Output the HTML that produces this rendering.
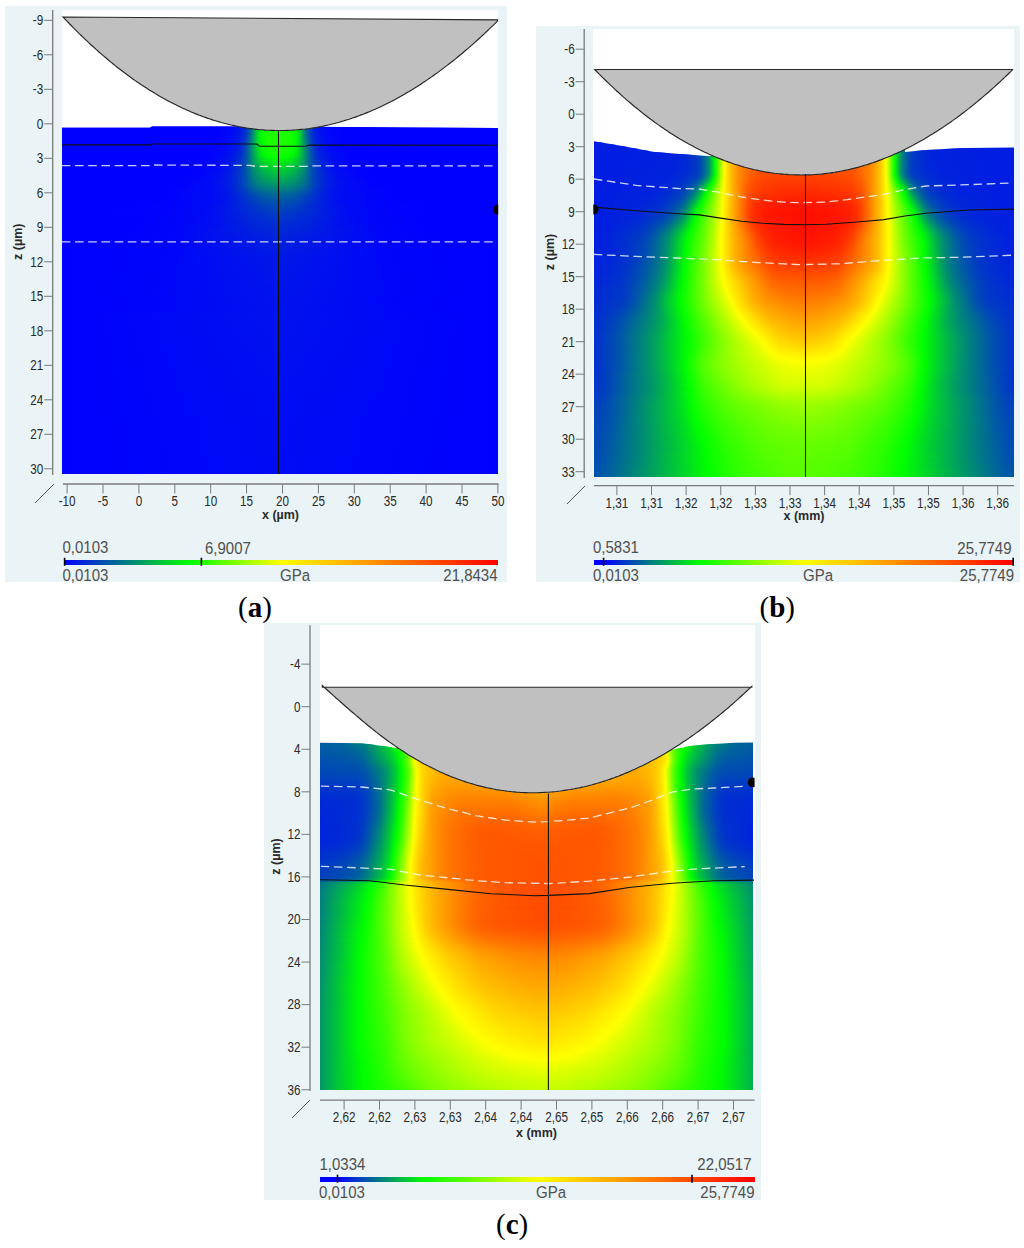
<!DOCTYPE html><html><head><meta charset="utf-8"><title>fig</title><style>html,body{margin:0;padding:0;background:#fff}
body{width:1024px;height:1248px;overflow:hidden;position:relative}
.p{position:absolute;background:#eaf3f5}
.w{position:absolute;background:#fff}
.fw{position:absolute;overflow:hidden}
.fi{position:absolute;left:0;top:0;right:0;bottom:0}
.fi i{position:absolute;left:0;right:0;display:block}
.cb{position:absolute;height:5px}
svg{position:absolute;left:0;top:0}
text{font-family:"Liberation Sans",sans-serif}
</style></head><body><div class="p" style="left:5px;top:6px;width:502px;height:576px"></div><div class="w" style="left:62px;top:10px;width:436px;height:464px"></div><div class="p" style="left:536px;top:26px;width:484px;height:556px"></div><div class="w" style="left:593px;top:29px;width:421px;height:448px"></div><div class="p" style="left:264px;top:623px;width:497px;height:577px"></div><div class="w" style="left:319.5px;top:625.3px;width:435.7px;height:464.7px"></div><div class="fw" style="left:62px;top:125px;width:436px;height:349px;clip-path:polygon(0px 2.7px,88px 2.7px,90px 1.2px,183px 1.2px,183.2px 2.7px,185.2px 3.1px,187.2px 3.4px,189.2px 3.6px,191.2px 3.9px,193.2px 4.1px,195.2px 4.4px,197.2px 4.6px,199.2px 4.7px,201.2px 4.9px,203.2px 5.1px,205.2px 5.2px,207.2px 5.3px,209.2px 5.4px,211.2px 5.4px,213.2px 5.5px,215.2px 5.5px,217.2px 5.5px,219.2px 5.5px,221.2px 5.5px,223.2px 5.5px,225.2px 5.4px,227.2px 5.3px,229.2px 5.2px,231.2px 5.1px,233.2px 5px,235.2px 4.8px,237.2px 4.6px,239.2px 4.4px,241.2px 4.2px,243.2px 4px,245.2px 3.7px,247.2px 3.5px,249.2px 3.2px,251.2px 2.9px,253.2px 2.6px,255.2px 2.2px,256px 1.8px,338px 2.6px,436px 3px,436px 349px,0px 349px)"><div class="fi" style=""><i style="top:0px;height:2.5px;background:linear-gradient(90deg,#0000ff 0px,#0000ff 157px,#000af5 172px,#0012ed 176px,#0020df 180px,#002ed1 183px,#003dc2 185px,#0050af 187px,#006897 189px,#00c936 195px,#00d629 196px,#00f20d 199px,#03ff00 202px,#10ff00 206px,#16ff00 217px,#10ff00 227px,#00fd02 232px,#00eb14 235px,#00d629 237px,#00c936 238px,#006897 244px,#0050af 246px,#003dc2 248px,#0028d7 251px,#001ce3 254px,#0010ef 258px,#0009f6 262px,#0000ff 276px,#0000ff 436px)"></i><i style="top:2px;height:2.5px;background:linear-gradient(90deg,#0000ff 0px,#0000ff 156px,#000af5 172px,#001ce3 179px,#0029d6 182px,#0036c9 184px,#0051ae 187px,#006996 189px,#00ca35 195px,#00d728 196px,#00f40b 199px,#00ff00 201px,#05ff00 202px,#10ff00 205px,#13ff00 207px,#18ff00 218px,#12ff00 227px,#00ff00 232px,#00ec13 235px,#00d728 237px,#00ca35 238px,#006996 244px,#0051ae 246px,#0036c9 249px,#0029d6 251px,#0019e6 255px,#0009f6 262px,#0000ff 277px,#0000ff 436px)"></i><i style="top:4px;height:2.5px;background:linear-gradient(90deg,#0000ff 0px,#0000ff 155px,#000af5 171px,#001de2 179px,#002ad5 182px,#0037c8 184px,#0053ac 187px,#006b94 189px,#009966 192px,#00cd32 195px,#00da25 196px,#00f708 199px,#03ff00 201px,#15ff00 206px,#1bff00 217px,#15ff00 227px,#00fd02 233px,#00ef10 235px,#00da25 237px,#00cd32 238px,#009966 241px,#006b94 244px,#0053ac 246px,#0037c8 249px,#002ad5 251px,#001ae5 255px,#0009f6 263px,#0000ff 278px,#0000ff 436px)"></i><i style="top:6px;height:2.5px;background:linear-gradient(90deg,#0000ff 0px,#0000ff 154px,#000bf4 171px,#001ee1 179px,#002bd4 182px,#0039c6 184px,#0055aa 187px,#006d92 189px,#009c63 192px,#00c03f 194px,#00dd22 196px,#00f20d 198px,#00ff00 200px,#10ff00 203px,#18ff00 206px,#1eff00 216px,#18ff00 227px,#10ff00 230px,#00ff00 233px,#00f20d 235px,#00dd22 237px,#00c03f 239px,#009c63 241px,#006d92 244px,#0055aa 246px,#0039c6 249px,#0026d9 252px,#001be4 255px,#0010ef 259px,#0008f7 264px,#0000ff 280px,#0000ff 436px)"></i><i style="top:8px;height:2.5px;background:linear-gradient(90deg,#0000ff 0px,#0000ff 153px,#000af5 170px,#0011ee 174px,#001fe0 179px,#002cd3 182px,#003ac5 184px,#0057a8 187px,#006f90 189px,#009e61 192px,#00c23d 194px,#00de21 196px,#00f30c 198px,#02ff00 200px,#12ff00 203px,#1aff00 206px,#20ff00 216px,#1aff00 227px,#12ff00 230px,#02ff00 233px,#00f30c 235px,#00de21 237px,#00c23d 239px,#009e61 241px,#006f90 244px,#0057a8 246px,#003ac5 249px,#0027d8 252px,#001ce3 255px,#0011ee 259px,#0009f6 264px,#0000ff 281px,#0000ff 436px)"></i><i style="top:10px;height:2.5px;background:linear-gradient(90deg,#0000ff 0px,#0000ff 152px,#000bf4 170px,#0020df 179px,#002ed1 182px,#003cc3 184px,#0059a6 187px,#00718e 189px,#00d22d 195px,#00df20 196px,#00f40b 198px,#03ff00 200px,#12ff00 203px,#1bff00 206px,#21ff00 217px,#1bff00 227px,#12ff00 230px,#03ff00 233px,#00fc03 234px,#00ea15 236px,#00d22d 238px,#008f70 242px,#00649b 245px,#003cc3 249px,#002ed1 251px,#0020df 254px,#0012ed 259px,#000af5 264px,#0000ff 281px,#0000ff 436px)"></i><i style="top:12px;height:2.5px;background:linear-gradient(90deg,#0000ff 0px,#0000ff 152px,#000cf3 170px,#001ee1 178px,#002ad5 181px,#0037c8 183px,#0052ad 186px,#00748b 189px,#00df20 196px,#00f40b 198px,#03ff00 200px,#12ff00 203px,#1bff00 206px,#21ff00 217px,#1bff00 227px,#12ff00 230px,#03ff00 233px,#00fc03 234px,#00ea15 236px,#00d22d 238px,#00926d 242px,#006798 245px,#0037c8 250px,#002ad5 252px,#001be4 256px,#000bf4 264px,#0000ff 281px,#0000ff 436px)"></i><i style="top:14px;height:2.5px;background:linear-gradient(90deg,#0000ff 0px,#0000ff 151px,#000df2 170px,#001fe0 178px,#002cd3 181px,#0039c6 183px,#006b94 188px,#00de21 196px,#00f30c 198px,#02ff00 200px,#11ff00 203px,#1aff00 206px,#21ff00 216px,#1aff00 227px,#11ff00 230px,#02ff00 233px,#00f30c 235px,#00de21 237px,#006b94 245px,#0039c6 250px,#002cd3 252px,#001fe0 255px,#000cf3 264px,#0000ff 282px,#0000ff 436px)"></i><i style="top:16px;height:2.5px;background:linear-gradient(90deg,#0000ff 0px,#0000ff 147px,#0002fd 156px,#000df2 169px,#0021de 178px,#002ed1 181px,#003dc2 183px,#006f90 188px,#00dd22 196px,#00f20d 198px,#01ff00 200px,#10ff00 203px,#19ff00 206px,#20ff00 216px,#19ff00 227px,#10ff00 230px,#01ff00 233px,#00f20d 235px,#00dd22 237px,#006f90 245px,#004eb1 248px,#0035ca 251px,#001de2 256px,#000cf3 265px,#0002fd 277px,#0000ff 287px,#0000ff 436px)"></i><i style="top:18px;height:2.5px;background:linear-gradient(90deg,#0000ff 0px,#0000ff 145px,#0003fc 156px,#000ef1 169px,#001ee1 177px,#002bd4 180px,#0038c7 182px,#0052ad 185px,#006897 187px,#00e718 197px,#00f906 199px,#00fe01 200px,#05ff00 201px,#17ff00 206px,#20ff00 217px,#17ff00 227px,#0eff00 230px,#00fe01 233px,#00f10e 235px,#00dc23 237px,#006897 246px,#0052ad 248px,#0038c7 251px,#002bd4 253px,#001ee1 256px,#000df2 265px,#0003fc 278px,#0000ff 288px,#0000ff 436px)"></i><i style="top:20px;height:2.5px;background:linear-gradient(90deg,#0000ff 0px,#0000ff 144px,#0003fc 155px,#000ff0 169px,#001fe0 177px,#002dd2 180px,#003bc4 182px,#00609f 186px,#00e619 197px,#00f708 199px,#03ff00 201px,#15ff00 206px,#1fff00 217px,#15ff00 227px,#00fd02 233px,#00ef10 235px,#00db24 237px,#0055aa 248px,#0033cc 252px,#0028d7 254px,#001de2 257px,#000cf3 266px,#0003fc 279px,#0000ff 289px,#0000ff 436px)"></i><i style="top:22px;height:2.5px;background:linear-gradient(90deg,#0000ff 0px,#0000ff 144px,#0004fb 155px,#000ff0 168px,#0021de 177px,#0036c9 181px,#00629d 186px,#00e41b 197px,#00f50a 199px,#01ff00 201px,#13ff00 206px,#1eff00 216px,#13ff00 227px,#01ff00 232px,#00f50a 234px,#00e41b 236px,#00629d 247px,#0036c9 252px,#0025da 255px,#001ee1 257px,#000cf3 267px,#0000ff 290px,#0000ff 436px)"></i><i style="top:24px;height:2.5px;background:linear-gradient(90deg,#0000ff 0px,#0000ff 143px,#0004fb 154px,#000ef1 167px,#001fe0 176px,#0031ce 180px,#0059a6 185px,#00c13e 194px,#00ec13 198px,#00f906 200px,#03ff00 202px,#13ff00 207px,#1cff00 217px,#11ff00 227px,#00fe01 232px,#00f30c 234px,#00e21d 236px,#0059a6 248px,#0031ce 253px,#001fe0 257px,#000df2 267px,#0000ff 290px,#0000ff 436px)"></i><i style="top:26px;height:2.5px;background:linear-gradient(90deg,#0000ff 0px,#0000ff 143px,#0005fa 155px,#000ff0 167px,#0021de 176px,#0033cc 180px,#00649b 186px,#00b649 193px,#00e916 198px,#00ff00 202px,#10ff00 207px,#1aff00 216px,#12ff00 225px,#00ff00 231px,#00e916 235px,#00b649 240px,#00649b 247px,#0033cc 253px,#0028d7 255px,#001ee1 258px,#000df2 268px,#0000ff 290px,#0000ff 436px)"></i><i style="top:28px;height:2.5px;background:linear-gradient(90deg,#0000ff 0px,#0000ff 142px,#0005fa 154px,#000ff0 166px,#0022dd 176px,#0035ca 180px,#00649b 186px,#00b44b 193px,#00e51a 198px,#00f708 201px,#03ff00 204px,#11ff00 211px,#16ff00 217px,#10ff00 223px,#03ff00 229px,#00fb04 231px,#00e51a 235px,#00b44b 240px,#00649b 247px,#0035ca 253px,#002ad5 255px,#0020df 258px,#000df2 269px,#0000ff 291px,#0000ff 436px)"></i><i style="top:30px;height:2.5px;background:linear-gradient(90deg,#0000ff 0px,#0000ff 142px,#000ff0 165px,#001fe0 174px,#0031ce 179px,#005ba4 185px,#00b24d 193px,#00df20 198px,#00f40b 202px,#00ff00 206px,#0bff00 212px,#0eff00 217px,#00ff00 227px,#00f40b 231px,#00df20 235px,#00b24d 240px,#005ba4 248px,#0037c8 253px,#0028d7 256px,#001fe0 259px,#000ef1 269px,#0000ff 291px,#0000ff 436px)"></i><i style="top:32px;height:2.5px;background:linear-gradient(90deg,#0000ff 0px,#0000ff 140px,#000df2 163px,#001ce3 172px,#002ed1 178px,#005ba4 185px,#00ae51 193px,#00de21 199px,#00f20d 204px,#01ff00 212px,#05ff00 217px,#00ff00 222px,#00f50a 228px,#00e817 232px,#00d728 235px,#00ae51 240px,#005ba4 248px,#0033cc 254px,#001ee1 260px,#000df2 270px,#0000ff 293px,#0000ff 436px)"></i><i style="top:34px;height:2.5px;background:linear-gradient(90deg,#0000ff 0px,#0000ff 137px,#0003fc 149px,#000df2 162px,#0020df 173px,#0036c9 179px,#005ca3 185px,#00a956 193px,#00cf30 198px,#00db24 200px,#00ee11 206px,#00fa05 216px,#00f10e 225px,#00df20 232px,#00cf30 235px,#00a956 240px,#005ca3 248px,#0036c9 254px,#0020df 260px,#000df2 271px,#0003fc 284px,#0000ff 296px,#0000ff 436px)"></i><i style="top:36px;height:2.5px;background:linear-gradient(90deg,#0000ff 0px,#0000ff 136px,#0003fc 148px,#000cf3 161px,#001fe0 172px,#0038c7 179px,#005ca3 185px,#00a55a 193px,#00c738 198px,#00d629 201px,#00e718 208px,#00f00f 216px,#00e916 224px,#00e01f 229px,#00d629 232px,#00c738 235px,#00a55a 240px,#005ca3 248px,#0038c7 254px,#001fe0 261px,#000cf3 272px,#0003fc 286px,#0000ff 298px,#0000ff 436px)"></i><i style="top:38px;height:2.5px;background:linear-gradient(90deg,#0000ff 0px,#0000ff 134px,#0003fc 147px,#000cf3 160px,#0021de 172px,#0039c6 179px,#0055aa 184px,#00a05f 193px,#00bf40 198px,#00cd32 201px,#00de21 208px,#00e619 216px,#00e01f 224px,#00cd32 232px,#00bf40 235px,#00a05f 240px,#0055aa 249px,#0039c6 254px,#0021de 261px,#000cf3 273px,#0003fc 286px,#0000ff 299px,#0000ff 436px)"></i><i style="top:40px;height:2.5px;background:linear-gradient(90deg,#0000ff 0px,#0000ff 134px,#000bf4 159px,#0022dd 172px,#003ac5 179px,#0055aa 184px,#009669 192px,#00b24d 197px,#00c53a 201px,#00d52a 208px,#00dd22 216px,#00d728 224px,#00c53a 232px,#00b24d 236px,#009669 241px,#0055aa 249px,#003ac5 254px,#0022dd 261px,#000bf4 274px,#0000ff 299px,#0000ff 436px)"></i><i style="top:42px;height:2.5px;background:linear-gradient(90deg,#0000ff 0px,#0000ff 133px,#000cf3 159px,#0020df 171px,#003bc4 179px,#0055aa 184px,#00926d 192px,#00be41 201px,#00ce31 208px,#00d52a 216px,#00cf30 224px,#00be41 232px,#00926d 241px,#0055aa 249px,#003bc4 254px,#0020df 262px,#000cf3 274px,#0000ff 300px,#0000ff 436px)"></i><i style="top:44px;height:2.5px;background:linear-gradient(90deg,#0000ff 0px,#0000ff 132px,#000cf3 158px,#001fe0 170px,#0037c8 178px,#0055aa 184px,#008f70 192px,#00b748 201px,#00c639 208px,#00ce31 216px,#00c837 224px,#00b748 232px,#008f70 241px,#0055aa 249px,#0037c8 255px,#001fe0 263px,#000cf3 275px,#0000ff 301px,#0000ff 436px)"></i><i style="top:46px;height:2.5px;background:linear-gradient(90deg,#0000ff 0px,#0001fe 131px,#000df2 158px,#001ee1 169px,#0038c7 178px,#004eb1 183px,#008c73 192px,#00b14e 201px,#00c13e 209px,#00c639 216px,#00c13e 224px,#00b14e 232px,#008c73 241px,#004eb1 250px,#0038c7 255px,#001ee1 264px,#000df2 275px,#0001fe 302px,#0000ff 436px)"></i><i style="top:48px;height:2.5px;background:linear-gradient(90deg,#0000ff 0px,#0000ff 126px,#0004fb 140px,#000ef1 157px,#001de2 168px,#0035ca 177px,#004eb1 183px,#008976 192px,#00ab54 201px,#00b946 209px,#00bf40 216px,#00bb44 223px,#00ab54 232px,#008976 241px,#004eb1 250px,#0035ca 256px,#001de2 265px,#000ef1 276px,#0004fb 293px,#0000ff 307px,#0000ff 436px)"></i><i style="top:50px;height:2.5px;background:linear-gradient(90deg,#0000ff 0px,#0000ff 124px,#0004fb 138px,#000ef1 156px,#001ee1 168px,#0036c9 177px,#004eb1 183px,#00857a 192px,#00a25d 200px,#00b14e 208px,#00b748 216px,#00b34c 223px,#00a55a 232px,#00857a 241px,#004eb1 250px,#0036c9 256px,#001ee1 265px,#000ef1 277px,#0004fb 295px,#0000ff 309px,#0000ff 436px)"></i><i style="top:52px;height:2.5px;background:linear-gradient(90deg,#0000ff 0px,#0000ff 122px,#0004fb 137px,#000ef1 155px,#001ee1 168px,#0033cc 176px,#0048b7 182px,#00817e 192px,#009c63 200px,#00aa55 208px,#00b04f 216px,#00ab54 224px,#009c63 233px,#00817e 241px,#0048b7 251px,#0030cf 258px,#001ce3 266px,#000df2 279px,#0004fb 296px,#0000ff 311px,#0000ff 436px)"></i><i style="top:54px;height:2.5px;background:linear-gradient(90deg,#0000ff 0px,#0000ff 120px,#000df2 153px,#001de2 167px,#002dd2 174px,#0048b7 182px,#007d82 192px,#009669 200px,#00a35c 208px,#00a857 216px,#00a45b 224px,#009669 233px,#007d82 241px,#0048b7 251px,#002dd2 259px,#001de2 266px,#000df2 280px,#0000ff 313px,#0000ff 436px)"></i><i style="top:56px;height:2.5px;background:linear-gradient(90deg,#0000ff 0px,#0000ff 119px,#000df2 152px,#001ce3 166px,#002ad5 173px,#0048b7 182px,#007986 192px,#008d72 199px,#009a65 207px,#00a15e 216px,#009c63 224px,#008f70 233px,#007986 241px,#0048b7 251px,#002ad5 260px,#001ce3 267px,#000df2 281px,#0000ff 314px,#0000ff 436px)"></i><i style="top:58px;height:2.5px;background:linear-gradient(90deg,#0000ff 0px,#0000ff 119px,#000df2 152px,#001ae5 165px,#0027d8 172px,#0043bc 181px,#00708f 191px,#008679 199px,#00926d 207px,#009867 216px,#00936c 225px,#008679 234px,#00708f 242px,#0043bc 252px,#0027d8 261px,#0019e6 269px,#000cf3 282px,#0000ff 314px,#0000ff 436px)"></i><i style="top:60px;height:2.5px;background:linear-gradient(90deg,#0000ff 0px,#0000ff 118px,#000df2 152px,#0018e7 164px,#0026d9 172px,#0041be 181px,#006a95 191px,#007f80 199px,#008976 206px,#008f70 216px,#008c73 224px,#00817e 233px,#006a95 242px,#0041be 252px,#0024db 262px,#0017e8 270px,#000cf3 282px,#0000ff 315px,#0000ff 436px)"></i><i style="top:62px;height:2.5px;background:linear-gradient(90deg,#0000ff 0px,#0001fe 117px,#000df2 152px,#0016e9 163px,#0023dc 171px,#003ec1 181px,#00639c 191px,#007986 200px,#00827d 208px,#008679 216px,#00837c 224px,#007986 233px,#00639c 242px,#003ec1 252px,#0023dc 262px,#0015ea 271px,#000cf3 282px,#0001fe 316px,#0000ff 436px)"></i><i style="top:64px;height:2.5px;background:linear-gradient(90deg,#0000ff 0px,#0001fe 112px,#000cf3 152px,#0014eb 162px,#0022dd 171px,#003bc4 181px,#005ca3 191px,#00708f 200px,#007986 207px,#007d82 216px,#007a85 225px,#00708f 233px,#005ca3 242px,#003bc4 252px,#0022dd 262px,#0014eb 271px,#000cf3 281px,#0001fe 322px,#0000ff 436px)"></i><i style="top:66px;height:2.5px;background:linear-gradient(90deg,#0000ff 0px,#0000ff 107px,#000cf3 152px,#0014eb 162px,#0020df 171px,#0034cb 180px,#0055aa 191px,#006a95 201px,#00748b 216px,#006a95 232px,#0055aa 242px,#0034cb 253px,#0020df 262px,#0014eb 271px,#000cf3 281px,#0000ff 326px,#0000ff 436px)"></i><i style="top:68px;height:2.5px;background:linear-gradient(90deg,#0000ff 0px,#0000ff 105px,#000df2 153px,#0014eb 163px,#0023dc 173px,#0031ce 180px,#004eb1 191px,#00639c 201px,#006c93 216px,#00639c 232px,#004eb1 242px,#0031ce 253px,#0023dc 260px,#0014eb 270px,#000df2 280px,#0000ff 328px,#0000ff 436px)"></i><i style="top:70px;height:2.5px;background:linear-gradient(90deg,#0000ff 0px,#0000ff 103px,#000df2 153px,#0014eb 163px,#0023dc 174px,#005da2 202px,#00659a 216px,#005da2 231px,#0023dc 259px,#0014eb 270px,#000df2 280px,#0000ff 330px,#0000ff 436px)"></i><i style="top:72px;height:2.5px;background:linear-gradient(90deg,#0000ff 0px,#0000ff 102px,#000cf3 152px,#0012ed 162px,#0024db 175px,#0057a8 202px,#005ea1 216px,#0057a8 231px,#0024db 258px,#0012ed 271px,#000cf3 281px,#0000ff 332px,#0000ff 436px)"></i><i style="top:74px;height:2.5px;background:linear-gradient(90deg,#0000ff 0px,#0000ff 100px,#000bf4 150px,#0012ed 161px,#001fe0 172px,#0052ad 202px,#0059a6 216px,#0052ad 231px,#001fe0 261px,#0012ed 272px,#000bf4 283px,#0000ff 333px,#0000ff 436px)"></i><i style="top:76px;height:2.5px;background:linear-gradient(90deg,#0000ff 0px,#0000ff 100px,#000bf4 149px,#0011ee 160px,#001ee1 172px,#004db2 202px,#0054ab 216px,#004db2 231px,#001ee1 261px,#0011ee 273px,#000bf4 284px,#0000ff 333px,#0000ff 436px)"></i><i style="top:78px;height:2.5px;background:linear-gradient(90deg,#0000ff 0px,#0001fe 99px,#000bf4 149px,#0011ee 160px,#001de2 171px,#0048b7 202px,#0050af 216px,#0048b7 231px,#001de2 262px,#0011ee 273px,#000bf4 284px,#0001fe 334px,#0000ff 436px)"></i><i style="top:80px;height:2.5px;background:linear-gradient(90deg,#0000ff 0px,#0001fe 99px,#000bf4 148px,#0018e7 167px,#0044bb 202px,#004bb4 216px,#0044bb 231px,#0018e7 266px,#000bf4 286px,#0001fe 334px,#0000ff 436px)"></i><i style="top:82px;height:2.5px;background:linear-gradient(90deg,#0000ff 0px,#0001fe 98px,#000bf4 146px,#0015ea 163px,#003ec1 200px,#0047b8 216px,#003fc0 232px,#0019e6 266px,#000bf4 287px,#0001fe 335px,#0000ff 436px)"></i><i style="top:84px;height:2.5px;background:linear-gradient(90deg,#0000ff 0px,#0001fe 92px,#000af5 144px,#0014eb 161px,#0039c6 198px,#0044bb 216px,#0039c6 235px,#0014eb 272px,#000af5 290px,#0001fe 343px,#0000ff 436px)"></i><i style="top:86px;height:2.5px;background:linear-gradient(90deg,#0000ff 0px,#0001fe 85px,#0009f6 141px,#0011ee 157px,#0032cd 193px,#0040bf 216px,#0033cc 239px,#0010ef 277px,#0009f6 292px,#0001fe 349px,#0000ff 436px)"></i><i style="top:88px;height:2.5px;background:linear-gradient(90deg,#0000ff 0px,#0001fe 82px,#0009f6 139px,#0010ef 156px,#002fd0 192px,#003dc2 216px,#002fd0 241px,#0010ef 278px,#0009f6 295px,#0000ff 352px,#0000ff 436px)"></i><i style="top:90px;height:2.5px;background:linear-gradient(90deg,#0000ff 0px,#0000ff 79px,#0008f7 136px,#0010ef 156px,#002cd3 191px,#003ac5 216px,#002dd2 241px,#0010ef 278px,#0008f7 298px,#0000ff 355px,#0000ff 436px)"></i><i style="top:92px;height:2.5px;background:linear-gradient(90deg,#0000ff 0px,#0000ff 77px,#0008f7 133px,#0011ee 157px,#002ad5 191px,#0037c8 216px,#002ad5 242px,#0010ef 278px,#0008f7 301px,#0000ff 357px,#0000ff 436px)"></i><i style="top:94px;height:2.5px;background:linear-gradient(90deg,#0000ff 0px,#0000ff 75px,#0007f8 129px,#0011ee 157px,#0028d7 190px,#0034cb 216px,#0028d7 243px,#0010ef 279px,#0007f8 305px,#0000ff 358px,#0000ff 436px)"></i><i style="top:96px;height:2.5px;background:linear-gradient(90deg,#0000ff 0px,#0000ff 74px,#0007f8 127px,#0011ee 157px,#0026d9 189px,#0032cd 216px,#0026d9 244px,#0011ee 276px,#0007f8 307px,#0000ff 360px,#0000ff 436px)"></i><i style="top:98px;height:2.5px;background:linear-gradient(90deg,#0000ff 0px,#0000ff 73px,#0007f8 125px,#0011ee 157px,#0024db 187px,#002fd0 216px,#0024db 245px,#0011ee 276px,#0007f8 309px,#0000ff 361px,#0000ff 436px)"></i><i style="top:100px;height:2.5px;background:linear-gradient(90deg,#0000ff 0px,#0000ff 72px,#0007f8 123px,#0011ee 157px,#0022dd 186px,#002dd2 216px,#0022dd 247px,#0011ee 276px,#0007f8 310px,#0000ff 362px,#0000ff 436px)"></i><i style="top:102px;height:2.5px;background:linear-gradient(90deg,#0000ff 0px,#0000ff 71px,#0007f8 123px,#0011ee 157px,#0021de 186px,#002bd4 216px,#0021de 247px,#0011ee 276px,#0007f8 311px,#0000ff 363px,#0000ff 436px)"></i><i style="top:104px;height:2.5px;background:linear-gradient(90deg,#0000ff 0px,#0000ff 69px,#0007f8 122px,#002ad5 216px,#0007f8 311px,#0000ff 364px,#0000ff 436px)"></i><i style="top:106px;height:2.5px;background:linear-gradient(90deg,#0000ff 0px,#0000ff 68px,#0007f8 122px,#0028d7 216px,#0007f8 312px,#0000ff 366px,#0000ff 436px)"></i><i style="top:108px;height:2.5px;background:linear-gradient(90deg,#0000ff 0px,#0000ff 66px,#0007f8 121px,#0026d9 216px,#0007f8 312px,#0000ff 367px,#0000ff 436px)"></i><i style="top:110px;height:2.5px;background:linear-gradient(90deg,#0000ff 0px,#0000ff 65px,#0007f8 121px,#0025da 216px,#0007f8 312px,#0000ff 368px,#0000ff 436px)"></i><i style="top:112px;height:2.5px;background:linear-gradient(90deg,#0000ff 0px,#0001fe 64px,#0007f8 121px,#0023dc 216px,#0007f8 313px,#0001fe 369px,#0000ff 436px)"></i><i style="top:114px;height:2.5px;background:linear-gradient(90deg,#0000ff 0px,#0001fe 63px,#0007f8 120px,#0022dd 216px,#0007f8 313px,#0001fe 370px,#0000ff 436px)"></i><i style="top:116px;height:2.5px;background:linear-gradient(90deg,#0000ff 0px,#0001fe 63px,#0007f8 120px,#0020df 216px,#0007f8 314px,#0001fe 371px,#0000ff 436px)"></i><i style="top:118px;height:2.5px;background:linear-gradient(90deg,#0000ff 0px,#0001fe 62px,#0007f8 119px,#001fe0 216px,#0006f9 315px,#0001fe 372px,#0000ff 436px)"></i><i style="top:120px;height:2.5px;background:linear-gradient(90deg,#0000ff 0px,#0007f8 118px,#001ee1 216px,#0007f8 315px,#0001fe 372px,#0000ff 436px)"></i><i style="top:122px;height:2.5px;background:linear-gradient(90deg,#0000ff 0px,#0006f9 117px,#001de2 216px,#0006f9 317px,#0000ff 436px)"></i><i style="top:124px;height:2.5px;background:linear-gradient(90deg,#0000ff 0px,#0006f9 116px,#001ce3 216px,#0006f9 319px,#0000ff 436px)"></i><i style="top:126px;height:2.5px;background:linear-gradient(90deg,#0000ff 0px,#0006f9 114px,#001be4 216px,#0006f9 321px,#0000ff 436px)"></i><i style="top:128px;height:2.5px;background:linear-gradient(90deg,#0000ff 0px,#0006f9 112px,#001ae5 216px,#0006f9 322px,#0000ff 436px)"></i><i style="top:130px;height:2.5px;background:linear-gradient(90deg,#0000ff 0px,#0006f9 111px,#0019e6 216px,#0006f9 323px,#0000ff 436px)"></i><i style="top:132px;height:2.5px;background:linear-gradient(90deg,#0000ff 0px,#0006f9 110px,#0018e7 216px,#0006f9 324px,#0000ff 436px)"></i><i style="top:134px;height:2.5px;background:linear-gradient(90deg,#0000ff 0px,#0006f9 110px,#0018e7 216px,#0006f9 325px,#0000ff 436px)"></i><i style="top:136px;height:2.5px;background:linear-gradient(90deg,#0000ff 0px,#0006f9 109px,#0017e8 217px,#0006f9 325px,#0000ff 436px)"></i><i style="top:138px;height:2.5px;background:linear-gradient(90deg,#0000ff 0px,#0006f9 108px,#0017e8 217px,#0006f9 325px,#0000ff 436px)"></i><i style="top:140px;height:2.5px;background:linear-gradient(90deg,#0000ff 0px,#0006f9 108px,#0017e8 217px,#0006f9 326px,#0000ff 436px)"></i><i style="top:142px;height:2.5px;background:linear-gradient(90deg,#0000ff 0px,#0006f9 107px,#0016e9 217px,#0006f9 326px,#0000ff 436px)"></i><i style="top:144px;height:2.5px;background:linear-gradient(90deg,#0000ff 0px,#0006f9 107px,#0016e9 217px,#0006f9 327px,#0000ff 436px)"></i><i style="top:146px;height:2.5px;background:linear-gradient(90deg,#0000ff 0px,#0006f9 106px,#0016e9 217px,#0006f9 327px,#0000ff 436px)"></i><i style="top:148px;height:2.5px;background:linear-gradient(90deg,#0000ff 0px,#0006f9 106px,#0016e9 217px,#0006f9 328px,#0000ff 436px)"></i><i style="top:150px;height:2.5px;background:linear-gradient(90deg,#0000ff 0px,#0006f9 105px,#0015ea 217px,#0006f9 328px,#0000ff 436px)"></i><i style="top:152px;height:2.5px;background:linear-gradient(90deg,#0000ff 0px,#0006f9 105px,#0015ea 217px,#0006f9 329px,#0000ff 436px)"></i><i style="top:154px;height:2.5px;background:linear-gradient(90deg,#0000ff 0px,#0006f9 104px,#0015ea 217px,#0006f9 329px,#0000ff 436px)"></i><i style="top:156px;height:2.5px;background:linear-gradient(90deg,#0000ff 0px,#0006f9 104px,#0015ea 217px,#0006f9 330px,#0000ff 436px)"></i><i style="top:158px;height:2.5px;background:linear-gradient(90deg,#0000ff 0px,#0006f9 103px,#0014eb 217px,#0006f9 331px,#0000ff 436px)"></i><i style="top:160px;height:2.5px;background:linear-gradient(90deg,#0000ff 0px,#0006f9 102px,#0014eb 217px,#0006f9 331px,#0000ff 436px)"></i><i style="top:162px;height:2.5px;background:linear-gradient(90deg,#0000ff 0px,#0006f9 102px,#0014eb 217px,#0006f9 332px,#0000ff 436px)"></i><i style="top:164px;height:2.5px;background:linear-gradient(90deg,#0000ff 0px,#0006f9 101px,#0014eb 217px,#0006f9 333px,#0000ff 436px)"></i><i style="top:166px;height:2.5px;background:linear-gradient(90deg,#0000ff 0px,#0006f9 100px,#0014eb 217px,#0006f9 334px,#0000ff 436px)"></i><i style="top:168px;height:2.5px;background:linear-gradient(90deg,#0000ff 0px,#0006f9 99px,#0013ec 217px,#0006f9 335px,#0000ff 436px)"></i><i style="top:170px;height:2.5px;background:linear-gradient(90deg,#0000ff 0px,#0006f9 98px,#0013ec 217px,#0005fa 336px,#0000ff 436px)"></i><i style="top:172px;height:2.5px;background:linear-gradient(90deg,#0000ff 0px,#0005fa 97px,#0013ec 217px,#0005fa 337px,#0000ff 436px)"></i><i style="top:174px;height:2.5px;background:linear-gradient(90deg,#0000ff 0px,#0005fa 96px,#0013ec 217px,#0005fa 338px,#0000ff 436px)"></i><i style="top:176px;height:2.5px;background:linear-gradient(90deg,#0000ff 0px,#0005fa 95px,#0013ec 217px,#0005fa 339px,#0000ff 436px)"></i><i style="top:178px;height:2.5px;background:linear-gradient(90deg,#0000ff 0px,#0005fa 94px,#0013ec 217px,#0005fa 340px,#0000ff 436px)"></i><i style="top:180px;height:2.5px;background:linear-gradient(90deg,#0000ff 0px,#0005fa 92px,#0012ed 217px,#0005fa 341px,#0000ff 436px)"></i><i style="top:182px;height:2.5px;background:linear-gradient(90deg,#0000ff 0px,#0005fa 91px,#0012ed 217px,#0005fa 342px,#0000ff 436px)"></i><i style="top:184px;height:2.5px;background:linear-gradient(90deg,#0000ff 0px,#0005fa 90px,#0012ed 217px,#0005fa 344px,#0000ff 436px)"></i><i style="top:186px;height:2.5px;background:linear-gradient(90deg,#0000ff 0px,#0005fa 89px,#0012ed 217px,#0005fa 345px,#0000ff 436px)"></i><i style="top:188px;height:2.5px;background:linear-gradient(90deg,#0000ff 0px,#0012ed 217px,#0005fa 346px,#0000ff 436px)"></i><i style="top:190px;height:2.5px;background:linear-gradient(90deg,#0000ff 0px,#0012ed 217px,#0005fa 347px,#0000ff 436px)"></i><i style="top:192px;height:2.5px;background:linear-gradient(90deg,#0000ff 0px,#0012ed 217px,#0005fa 348px,#0000ff 436px)"></i><i style="top:194px;height:2.5px;background:linear-gradient(90deg,#0000ff 0px,#0012ed 217px,#0000ff 436px)"></i><i style="top:196px;height:2.5px;background:linear-gradient(90deg,#0000ff 0px,#0011ee 217px,#0000ff 436px)"></i><i style="top:198px;height:2.5px;background:linear-gradient(90deg,#0000ff 0px,#0011ee 217px,#0000ff 436px)"></i><i style="top:200px;height:2.5px;background:linear-gradient(90deg,#0000ff 0px,#0011ee 217px,#0000ff 436px)"></i><i style="top:202px;height:2.5px;background:linear-gradient(90deg,#0000ff 0px,#0011ee 217px,#0000ff 436px)"></i><i style="top:204px;height:2.5px;background:linear-gradient(90deg,#0000ff 0px,#0011ee 217px,#0000ff 436px)"></i><i style="top:206px;height:2.5px;background:linear-gradient(90deg,#0000ff 0px,#0011ee 217px,#0000ff 436px)"></i><i style="top:208px;height:2.5px;background:linear-gradient(90deg,#0000ff 0px,#0011ee 217px,#0000ff 436px)"></i><i style="top:210px;height:2.5px;background:linear-gradient(90deg,#0000ff 0px,#0011ee 217px,#0000ff 436px)"></i><i style="top:212px;height:2.5px;background:linear-gradient(90deg,#0000ff 0px,#0011ee 217px,#0000ff 436px)"></i><i style="top:214px;height:2.5px;background:linear-gradient(90deg,#0000ff 0px,#0010ef 217px,#0000ff 436px)"></i><i style="top:216px;height:2.5px;background:linear-gradient(90deg,#0000ff 0px,#0010ef 217px,#0000ff 436px)"></i><i style="top:218px;height:2.5px;background:linear-gradient(90deg,#0000ff 0px,#0010ef 217px,#0000ff 436px)"></i><i style="top:220px;height:2.5px;background:linear-gradient(90deg,#0000ff 0px,#0010ef 217px,#0000ff 436px)"></i><i style="top:222px;height:2.5px;background:linear-gradient(90deg,#0000ff 0px,#0010ef 217px,#0000ff 436px)"></i><i style="top:224px;height:2.5px;background:linear-gradient(90deg,#0000ff 0px,#0010ef 217px,#0000ff 436px)"></i><i style="top:226px;height:2.5px;background:linear-gradient(90deg,#0000ff 0px,#0010ef 217px,#0000ff 436px)"></i><i style="top:228px;height:2.5px;background:linear-gradient(90deg,#0000ff 0px,#0010ef 217px,#0000ff 436px)"></i><i style="top:230px;height:2.5px;background:linear-gradient(90deg,#0000ff 0px,#000ff0 217px,#0000ff 436px)"></i><i style="top:232px;height:2.5px;background:linear-gradient(90deg,#0000ff 0px,#000ff0 217px,#0000ff 436px)"></i><i style="top:234px;height:2.5px;background:linear-gradient(90deg,#0000ff 0px,#000ff0 217px,#0000ff 436px)"></i><i style="top:236px;height:2.5px;background:linear-gradient(90deg,#0000ff 0px,#000ff0 217px,#0000ff 436px)"></i><i style="top:238px;height:2.5px;background:linear-gradient(90deg,#0000ff 0px,#000ff0 217px,#0000ff 436px)"></i><i style="top:240px;height:2.5px;background:linear-gradient(90deg,#0000ff 0px,#000ff0 217px,#0000ff 436px)"></i><i style="top:242px;height:2.5px;background:linear-gradient(90deg,#0000ff 0px,#000ff0 217px,#0000ff 436px)"></i><i style="top:244px;height:2.5px;background:linear-gradient(90deg,#0000ff 0px,#000ff0 217px,#0000ff 436px)"></i><i style="top:246px;height:2.5px;background:linear-gradient(90deg,#0000ff 0px,#000ff0 217px,#0000ff 436px)"></i><i style="top:248px;height:2.5px;background:linear-gradient(90deg,#0000ff 0px,#000ef1 217px,#0000ff 436px)"></i><i style="top:250px;height:2.5px;background:linear-gradient(90deg,#0000ff 0px,#000ef1 217px,#0000ff 436px)"></i><i style="top:252px;height:2.5px;background:linear-gradient(90deg,#0000ff 0px,#000ef1 217px,#0000ff 436px)"></i><i style="top:254px;height:2.5px;background:linear-gradient(90deg,#0000ff 0px,#000ef1 217px,#0000ff 436px)"></i><i style="top:256px;height:2.5px;background:linear-gradient(90deg,#0000ff 0px,#000ef1 217px,#0000ff 436px)"></i><i style="top:258px;height:2.5px;background:linear-gradient(90deg,#0000ff 0px,#000ef1 217px,#0000ff 436px)"></i><i style="top:260px;height:2.5px;background:linear-gradient(90deg,#0000ff 0px,#000ef1 217px,#0000ff 436px)"></i><i style="top:262px;height:2.5px;background:linear-gradient(90deg,#0000ff 0px,#000ef1 217px,#0000ff 436px)"></i><i style="top:264px;height:2.5px;background:linear-gradient(90deg,#0000ff 0px,#000ef1 217px,#0000ff 436px)"></i><i style="top:266px;height:2.5px;background:linear-gradient(90deg,#0000ff 0px,#000ef1 217px,#0000ff 436px)"></i><i style="top:268px;height:2.5px;background:linear-gradient(90deg,#0000ff 0px,#000df2 217px,#0000ff 436px)"></i><i style="top:270px;height:2.5px;background:linear-gradient(90deg,#0000ff 0px,#000df2 217px,#0000ff 436px)"></i><i style="top:272px;height:2.5px;background:linear-gradient(90deg,#0000ff 0px,#000df2 217px,#0000ff 436px)"></i><i style="top:274px;height:2.5px;background:linear-gradient(90deg,#0000ff 0px,#000df2 217px,#0000ff 436px)"></i><i style="top:276px;height:2.5px;background:linear-gradient(90deg,#0000ff 0px,#000df2 217px,#0000ff 436px)"></i><i style="top:278px;height:2.5px;background:linear-gradient(90deg,#0000ff 0px,#000df2 217px,#0000ff 436px)"></i><i style="top:280px;height:2.5px;background:linear-gradient(90deg,#0000ff 0px,#000df2 217px,#0000ff 436px)"></i><i style="top:282px;height:2.5px;background:linear-gradient(90deg,#0000ff 0px,#000df2 217px,#0000ff 436px)"></i><i style="top:284px;height:2.5px;background:linear-gradient(90deg,#0000ff 0px,#000df2 217px,#0000ff 436px)"></i><i style="top:286px;height:2.5px;background:linear-gradient(90deg,#0000ff 0px,#000df2 217px,#0000ff 436px)"></i><i style="top:288px;height:2.5px;background:linear-gradient(90deg,#0000ff 0px,#000df2 217px,#0000ff 436px)"></i><i style="top:290px;height:2.5px;background:linear-gradient(90deg,#0000ff 0px,#000df2 217px,#0000ff 436px)"></i><i style="top:292px;height:2.5px;background:linear-gradient(90deg,#0000ff 0px,#000cf3 217px,#0000ff 436px)"></i><i style="top:294px;height:2.5px;background:linear-gradient(90deg,#0000ff 0px,#000cf3 217px,#0000ff 436px)"></i><i style="top:296px;height:2.5px;background:linear-gradient(90deg,#0000ff 0px,#000cf3 217px,#0000ff 436px)"></i><i style="top:298px;height:2.5px;background:linear-gradient(90deg,#0000ff 0px,#000cf3 217px,#0000ff 436px)"></i><i style="top:300px;height:2.5px;background:linear-gradient(90deg,#0000ff 0px,#000cf3 217px,#0000ff 436px)"></i><i style="top:302px;height:2.5px;background:linear-gradient(90deg,#0000ff 0px,#000cf3 217px,#0000ff 436px)"></i><i style="top:304px;height:2.5px;background:linear-gradient(90deg,#0000ff 0px,#000cf3 217px,#0000ff 436px)"></i><i style="top:306px;height:2.5px;background:linear-gradient(90deg,#0000ff 0px,#000cf3 217px,#0000ff 436px)"></i><i style="top:308px;height:2.5px;background:linear-gradient(90deg,#0000ff 0px,#000cf3 217px,#0000ff 436px)"></i><i style="top:310px;height:2.5px;background:linear-gradient(90deg,#0000ff 0px,#000cf3 217px,#0000ff 436px)"></i><i style="top:312px;height:2.5px;background:linear-gradient(90deg,#0000ff 0px,#000cf3 217px,#0000ff 436px)"></i><i style="top:314px;height:2.5px;background:linear-gradient(90deg,#0000ff 0px,#000cf3 217px,#0000ff 436px)"></i><i style="top:316px;height:2.5px;background:linear-gradient(90deg,#0000ff 0px,#000cf3 217px,#0000ff 436px)"></i><i style="top:318px;height:2.5px;background:linear-gradient(90deg,#0000ff 0px,#000cf3 217px,#0000ff 436px)"></i><i style="top:320px;height:2.5px;background:linear-gradient(90deg,#0000ff 0px,#000cf3 217px,#0000ff 436px)"></i><i style="top:322px;height:2.5px;background:linear-gradient(90deg,#0000ff 0px,#000cf3 217px,#0000ff 436px)"></i><i style="top:324px;height:2.5px;background:linear-gradient(90deg,#0000ff 0px,#000cf3 217px,#0000ff 436px)"></i><i style="top:326px;height:2.5px;background:linear-gradient(90deg,#0000ff 0px,#000cf3 217px,#0000ff 436px)"></i><i style="top:328px;height:2.5px;background:linear-gradient(90deg,#0000ff 0px,#000bf4 217px,#0000ff 436px)"></i><i style="top:330px;height:2.5px;background:linear-gradient(90deg,#0000ff 0px,#000bf4 217px,#0000ff 436px)"></i><i style="top:332px;height:2.5px;background:linear-gradient(90deg,#0000ff 0px,#000bf4 217px,#0000ff 436px)"></i><i style="top:334px;height:2.5px;background:linear-gradient(90deg,#0000ff 0px,#000bf4 217px,#0000ff 436px)"></i><i style="top:336px;height:2.5px;background:linear-gradient(90deg,#0000ff 0px,#000bf4 217px,#0000ff 436px)"></i><i style="top:338px;height:2.5px;background:linear-gradient(90deg,#0000ff 0px,#000bf4 217px,#0000ff 436px)"></i><i style="top:340px;height:2.5px;background:linear-gradient(90deg,#0000ff 0px,#000bf4 217px,#0000ff 436px)"></i><i style="top:342px;height:2.5px;background:linear-gradient(90deg,#0000ff 0px,#000bf4 217px,#0000ff 436px)"></i><i style="top:344px;height:2.5px;background:linear-gradient(90deg,#0000ff 0px,#000bf4 217px,#0000ff 436px)"></i><i style="top:346px;height:2.5px;background:linear-gradient(90deg,#0000ff 0px,#000bf4 217px,#0000ff 436px)"></i><i style="top:348px;height:1px;background:linear-gradient(90deg,#0000ff 0px,#000bf4 217px,#0000ff 436px)"></i></div></div><div class="fw" style="left:594px;top:140px;width:420px;height:337px;clip-path:polygon(0px 1.2px,28.2px 5.9px,60.4px 11.9px,92.7px 14.5px,117px 16.3px,118.7px 15.8px,120.7px 16.7px,122.7px 17.5px,124.7px 18.3px,126.7px 19.1px,128.7px 19.9px,130.7px 20.7px,132.7px 21.4px,134.7px 22.1px,136.7px 22.8px,138.7px 23.5px,140.7px 24.2px,142.7px 24.8px,144.7px 25.4px,146.7px 26px,148.7px 26.6px,150.7px 27.2px,152.7px 27.7px,154.7px 28.2px,156.7px 28.7px,158.7px 29.2px,160.7px 29.7px,162.7px 30.1px,164.7px 30.6px,166.7px 31px,168.7px 31.4px,170.7px 31.7px,172.7px 32.1px,174.7px 32.4px,176.7px 32.7px,178.7px 33px,180.7px 33.3px,182.7px 33.5px,184.7px 33.7px,186.7px 33.9px,188.7px 34.1px,190.7px 34.3px,192.7px 34.4px,194.7px 34.6px,196.7px 34.7px,198.7px 34.8px,200.7px 34.9px,202.7px 34.9px,204.7px 34.9px,206.7px 35px,208.7px 35px,210.7px 34.9px,212.7px 34.9px,214.7px 34.8px,216.7px 34.8px,218.7px 34.7px,220.7px 34.5px,222.7px 34.4px,224.7px 34.2px,226.7px 34.1px,228.7px 33.9px,230.7px 33.6px,232.7px 33.4px,234.7px 33.2px,236.7px 32.9px,238.7px 32.6px,240.7px 32.3px,242.7px 31.9px,244.7px 31.6px,246.7px 31.2px,248.7px 30.8px,250.7px 30.4px,252.7px 30px,254.7px 29.6px,256.7px 29.1px,258.7px 28.6px,260.7px 28.1px,262.7px 27.6px,264.7px 27.1px,266.7px 26.5px,268.7px 25.9px,270.7px 25.3px,272.7px 24.7px,274.7px 24.1px,276.7px 23.4px,278.7px 22.8px,280.7px 22.1px,282.7px 21.4px,284.7px 20.6px,286.7px 19.9px,288.7px 19.1px,290.7px 18.3px,292.7px 17.5px,294.7px 16.7px,296.7px 15.9px,298.7px 15px,300.7px 14.1px,302.7px 13.2px,304.7px 12.3px,306.7px 11.4px,308.7px 10.4px,310.7px 9.4px,311px 12px,334.9px 9.8px,371.4px 8.1px,420px 7.6px,420px 337px,0px 337px)"><div class="fi" style=""><i style="top:0px;height:2.5px;background:linear-gradient(90deg,#001ce3 0px,#0021de 82px,#0027d8 91px,#0035ca 100px,#003bc4 103px,#0047b8 106px,#005aa5 109px,#007b84 113px,#00a15e 116px,#00ff00 121px,#35ff00 123px,#90ff00 126px,#c8ff00 128px,#f6ff00 130px,#fff900 131px,#ffa000 140px,#ff7900 147px,#ff7000 151px,#ff7000 163px,#ff7100 272px,#ff7d00 276px,#ffa000 282px,#fff900 291px,#f6ff00 292px,#c8ff00 294px,#90ff00 296px,#35ff00 299px,#00ff00 301px,#00a15e 306px,#007b84 309px,#005aa5 313px,#0047b8 316px,#003bc4 319px,#0035ca 322px,#0027d8 331px,#0021de 340px,#001ce3 420px)"></i><i style="top:2px;height:2.5px;background:linear-gradient(90deg,#001ce3 0px,#0021de 82px,#0027d8 91px,#0035ca 100px,#003bc4 103px,#0047b8 106px,#005aa5 109px,#007b84 113px,#00a15e 116px,#00ff00 121px,#35ff00 123px,#90ff00 126px,#c8ff00 128px,#f6ff00 130px,#fff900 131px,#ffa000 140px,#ff7900 147px,#ff7000 151px,#ff7000 163px,#ff7100 272px,#ff7d00 276px,#ffa000 282px,#fff900 291px,#f6ff00 292px,#c8ff00 294px,#90ff00 296px,#35ff00 299px,#00ff00 301px,#00a15e 306px,#007b84 309px,#005aa5 313px,#0047b8 316px,#003bc4 319px,#0035ca 322px,#0027d8 331px,#0021de 340px,#001ce3 420px)"></i><i style="top:4px;height:2.5px;background:linear-gradient(90deg,#001ce3 0px,#0021de 82px,#0027d8 91px,#0035ca 100px,#003bc4 103px,#0047b8 106px,#005aa5 109px,#007b84 113px,#00a15e 116px,#00ff00 121px,#35ff00 123px,#90ff00 126px,#c8ff00 128px,#f6ff00 130px,#fff900 131px,#ffa000 140px,#ff7900 147px,#ff7000 151px,#ff7000 163px,#ff7100 272px,#ff7d00 276px,#ffa000 282px,#fff900 291px,#f6ff00 292px,#c8ff00 294px,#90ff00 296px,#35ff00 299px,#00ff00 301px,#00a15e 306px,#007b84 309px,#005aa5 313px,#0047b8 316px,#003bc4 319px,#0035ca 322px,#0027d8 331px,#0021de 340px,#001ce3 420px)"></i><i style="top:6px;height:2.5px;background:linear-gradient(90deg,#001ce3 0px,#0021de 82px,#0027d8 91px,#0035ca 100px,#003bc4 103px,#0047b8 106px,#005aa5 109px,#007b84 113px,#00a15e 116px,#00ff00 121px,#35ff00 123px,#90ff00 126px,#c8ff00 128px,#f6ff00 130px,#fff900 131px,#ffa000 140px,#ff7900 147px,#ff7000 151px,#ff7000 163px,#ff7100 272px,#ff7d00 276px,#ffa000 282px,#fff900 291px,#f6ff00 292px,#c8ff00 294px,#90ff00 296px,#35ff00 299px,#00ff00 301px,#00a15e 306px,#007b84 309px,#005aa5 313px,#0047b8 316px,#003bc4 319px,#0035ca 322px,#0027d8 331px,#0021de 340px,#001ce3 420px)"></i><i style="top:8px;height:2.5px;background:linear-gradient(90deg,#001ce3 0px,#0021de 82px,#0027d8 91px,#0035ca 100px,#003bc4 103px,#0047b8 106px,#005aa5 109px,#007b84 113px,#00a15e 116px,#00ff00 121px,#35ff00 123px,#90ff00 126px,#c8ff00 128px,#f6ff00 130px,#fff900 131px,#ffa000 140px,#ff7900 147px,#ff7000 151px,#ff7000 163px,#ff7100 272px,#ff7d00 276px,#ffa000 282px,#fff900 291px,#f6ff00 292px,#c8ff00 294px,#90ff00 296px,#35ff00 299px,#00ff00 301px,#00a15e 306px,#007b84 309px,#005aa5 313px,#0047b8 316px,#003bc4 319px,#0035ca 322px,#0027d8 331px,#0021de 340px,#001ce3 420px)"></i><i style="top:10px;height:2.5px;background:linear-gradient(90deg,#001ce3 0px,#0021de 82px,#0027d8 91px,#0035ca 100px,#003bc4 103px,#0047b8 106px,#005aa5 109px,#007b84 113px,#00a15e 116px,#00ff00 121px,#35ff00 123px,#90ff00 126px,#c8ff00 128px,#f6ff00 130px,#fff900 131px,#ffb100 138px,#ffa000 140px,#ff7e00 146px,#ff7200 150px,#ff6e00 211px,#ff7200 272px,#ff7e00 276px,#ffa000 282px,#ffb100 284px,#fff900 291px,#f6ff00 292px,#c8ff00 294px,#90ff00 296px,#35ff00 299px,#00ff00 301px,#00a15e 306px,#007b84 309px,#005aa5 313px,#0047b8 316px,#003bc4 319px,#0035ca 322px,#0027d8 331px,#0021de 340px,#001ce3 420px)"></i><i style="top:12px;height:2.5px;background:linear-gradient(90deg,#001ce3 0px,#0021de 82px,#0027d8 91px,#0035ca 100px,#003bc4 103px,#0047b8 106px,#005aa5 109px,#007b84 113px,#00a15e 116px,#00ff00 121px,#35ff00 123px,#adff00 127px,#c8ff00 128px,#f7ff00 130px,#fff900 131px,#ffbb00 137px,#ffa100 140px,#ff7f00 146px,#ff7300 150px,#ff6c00 165px,#ff6a00 211px,#ff6c00 257px,#ff7300 272px,#ff7f00 276px,#ffa100 282px,#ffbb00 285px,#fff900 291px,#f7ff00 292px,#c8ff00 294px,#adff00 295px,#35ff00 299px,#00ff00 301px,#00a15e 306px,#007b84 309px,#005aa5 313px,#0047b8 316px,#003bc4 319px,#0035ca 322px,#0027d8 331px,#0021de 340px,#001ce3 420px)"></i><i style="top:14px;height:2.5px;background:linear-gradient(90deg,#001ce3 0px,#0021de 82px,#0028d7 91px,#0035ca 100px,#003bc4 103px,#0047b8 106px,#005aa5 109px,#007b84 113px,#00a15e 116px,#00ff00 121px,#34ff00 123px,#adff00 127px,#c8ff00 128px,#f7ff00 130px,#fff800 131px,#ffbb00 137px,#ffa200 140px,#ff8100 146px,#ff7200 151px,#ff6900 165px,#ff6600 211px,#ff6900 257px,#ff7200 271px,#ff8100 276px,#ffa200 282px,#ffbb00 285px,#fff800 291px,#f7ff00 292px,#c8ff00 294px,#adff00 295px,#34ff00 299px,#00ff00 301px,#00a15e 306px,#007b84 309px,#004db2 315px,#003ec1 318px,#0037c8 321px,#0028d7 331px,#0021de 340px,#001ce3 420px)"></i><i style="top:16px;height:2.5px;background:linear-gradient(90deg,#001ce3 0px,#0022dd 82px,#0028d7 91px,#0037c8 101px,#003ec1 104px,#004db2 107px,#007b84 113px,#00a15e 116px,#00ff00 121px,#34ff00 123px,#adff00 127px,#c8ff00 128px,#f8ff00 130px,#fff800 131px,#ffbb00 137px,#ffa300 140px,#ff8200 146px,#ff7000 152px,#ff6600 165px,#ff6200 211px,#ff6600 257px,#ff7000 270px,#ff8200 276px,#ffa300 282px,#ffbb00 285px,#fff800 291px,#f8ff00 292px,#c8ff00 294px,#adff00 295px,#34ff00 299px,#00ff00 301px,#00a15e 306px,#007b84 309px,#004db2 315px,#003ec1 318px,#0037c8 321px,#0028d7 331px,#0022dd 340px,#001ce3 420px)"></i><i style="top:18px;height:2.5px;background:linear-gradient(90deg,#001ce3 0px,#0022dd 82px,#0028d7 91px,#0037c8 101px,#003ec1 104px,#004cb3 107px,#007b84 113px,#00a15e 116px,#00ff00 121px,#34ff00 123px,#adff00 127px,#c8ff00 128px,#f9ff00 130px,#fff700 131px,#ffbb00 137px,#ffa400 140px,#ff8300 146px,#ff7000 152px,#ff6300 165px,#ff5e00 211px,#ff6300 257px,#ff7000 270px,#ff8300 276px,#ffa400 282px,#ffbb00 285px,#fff700 291px,#f9ff00 292px,#c8ff00 294px,#adff00 295px,#34ff00 299px,#00ff00 301px,#00a15e 306px,#007b84 309px,#004cb3 315px,#003ec1 318px,#0037c8 321px,#0028d7 331px,#0022dd 340px,#001ce3 420px)"></i><i style="top:20px;height:2.5px;background:linear-gradient(90deg,#001ce3 0px,#0022dd 81px,#0028d7 91px,#0037c8 101px,#003ec1 104px,#004cb3 107px,#007b84 113px,#00a15e 116px,#00ff00 121px,#34ff00 123px,#c8ff00 128px,#faff00 130px,#fff700 131px,#ffc500 136px,#ffa400 140px,#ff8400 146px,#ff7000 152px,#ff6100 165px,#ff5b00 211px,#ff6100 257px,#ff7000 270px,#ff8400 276px,#ffa400 282px,#ffc500 286px,#fff700 291px,#faff00 292px,#c8ff00 294px,#34ff00 299px,#00ff00 301px,#00a15e 306px,#007b84 309px,#004cb3 315px,#003ec1 318px,#0039c6 320px,#0029d6 330px,#0022dd 340px,#001ce3 420px)"></i><i style="top:22px;height:2.5px;background:linear-gradient(90deg,#001ce3 0px,#0022dd 81px,#002ad5 92px,#0039c6 102px,#003ec1 104px,#004cb3 107px,#007b84 113px,#00a15e 116px,#00ff00 121px,#34ff00 123px,#adff00 127px,#e2ff00 129px,#faff00 130px,#fff700 131px,#ffc500 136px,#ffa500 140px,#ff8500 146px,#ff7000 152px,#ff5e00 165px,#ff5700 211px,#ff5e00 257px,#ff7000 270px,#ff8500 276px,#ffa500 282px,#ffc500 286px,#fff700 291px,#faff00 292px,#e2ff00 293px,#adff00 295px,#34ff00 299px,#00ff00 301px,#00a15e 306px,#007b84 309px,#004cb3 315px,#003ec1 318px,#0039c6 320px,#002ad5 330px,#0022dd 341px,#001ce3 420px)"></i><i style="top:24px;height:2.5px;background:linear-gradient(90deg,#001ce3 0px,#0022dd 79px,#0029d6 91px,#0039c6 102px,#003ec1 104px,#004cb3 107px,#007b84 113px,#00a15e 116px,#00ff00 121px,#34ff00 123px,#adff00 127px,#e3ff00 129px,#fbff00 130px,#fff600 131px,#ffc400 136px,#ffa600 140px,#ff8500 146px,#ff7000 152px,#ff5b00 165px,#ff5300 211px,#ff5b00 257px,#ff7000 270px,#ff8500 276px,#ffa600 282px,#ffc400 286px,#fff600 291px,#fbff00 292px,#e3ff00 293px,#adff00 295px,#34ff00 299px,#00ff00 301px,#00a15e 306px,#007b84 309px,#004cb3 315px,#003ec1 318px,#0039c6 320px,#0029d6 331px,#0022dd 343px,#001ce3 420px)"></i><i style="top:26px;height:2.5px;background:linear-gradient(90deg,#001ce3 0px,#0022dd 78px,#0029d6 90px,#0039c6 102px,#003ec1 104px,#004cb3 107px,#007b84 113px,#00a15e 116px,#00ff00 121px,#34ff00 123px,#adff00 127px,#e4ff00 129px,#fcff00 130px,#fff600 131px,#ffcd00 135px,#ffb400 138px,#ff8f00 144px,#ff7000 152px,#ff6100 159px,#ff5900 164px,#ff5600 173px,#ff5000 211px,#ff5600 249px,#ff5900 258px,#ff6100 263px,#ff7000 270px,#ff8f00 278px,#ffb400 284px,#ffcd00 287px,#fff600 291px,#fcff00 292px,#e4ff00 293px,#adff00 295px,#34ff00 299px,#00ff00 301px,#00a15e 306px,#007b84 309px,#004cb3 315px,#003ec1 318px,#0039c6 320px,#0029d6 332px,#0022dd 344px,#001ce3 420px)"></i><i style="top:28px;height:2.5px;background:linear-gradient(90deg,#001ce3 0px,#0022dd 77px,#0029d6 90px,#0039c6 102px,#003ec1 104px,#004cb3 107px,#007b84 113px,#00a15e 116px,#00ff00 121px,#34ff00 123px,#adff00 127px,#e5ff00 129px,#fdff00 130px,#fff500 131px,#ffbc00 137px,#ff9500 143px,#ff7a00 149px,#ff5f00 159px,#ff5700 164px,#ff5300 173px,#ff4c00 211px,#ff5300 249px,#ff5700 258px,#ff5f00 263px,#ff7a00 273px,#ff9500 279px,#ffbc00 285px,#fff500 291px,#fdff00 292px,#e5ff00 293px,#adff00 295px,#34ff00 299px,#00ff00 301px,#00a15e 306px,#007b84 309px,#004cb3 315px,#003ec1 318px,#0039c6 320px,#0029d6 332px,#0022dd 345px,#001ce3 420px)"></i><i style="top:30px;height:2.5px;background:linear-gradient(90deg,#001ce3 0px,#0022dd 76px,#002ad5 90px,#0039c6 102px,#003ec1 104px,#004cb3 107px,#007b84 113px,#00a15e 116px,#00ff00 121px,#34ff00 123px,#adff00 127px,#e6ff00 129px,#feff00 130px,#fff500 131px,#ffbc00 137px,#ff9000 144px,#ff7000 152px,#ff5900 161px,#ff5300 166px,#ff4d00 183px,#ff4900 218px,#ff5300 256px,#ff5f00 264px,#ff7e00 274px,#ff9b00 280px,#ffc400 286px,#feff00 292px,#caff00 294px,#34ff00 299px,#00ff00 301px,#00a15e 306px,#007b84 309px,#004cb3 315px,#003ec1 318px,#0039c6 320px,#002ad5 332px,#0022dd 346px,#001ce3 420px)"></i><i style="top:32px;height:2.5px;background:linear-gradient(90deg,#001ce3 0px,#0022dd 75px,#002ad5 89px,#0039c6 102px,#003ec1 104px,#004db2 107px,#007c83 113px,#00a25d 116px,#01ff00 121px,#34ff00 123px,#cbff00 128px,#ffff00 130px,#ffbc00 137px,#ffa100 141px,#ff8b00 145px,#ff6300 156px,#ff5100 165px,#ff4800 188px,#ff4600 214px,#ff4a00 240px,#ff5300 259px,#ff6600 267px,#ff7e00 274px,#ff9000 278px,#ffbc00 285px,#ffff00 292px,#cbff00 294px,#34ff00 299px,#01ff00 301px,#00a25d 306px,#007c83 309px,#004db2 315px,#003ec1 318px,#0039c6 320px,#002ad5 333px,#0022dd 347px,#001ce3 420px)"></i><i style="top:34px;height:2.5px;background:linear-gradient(90deg,#001ce3 0px,#0023dc 75px,#002bd4 89px,#003bc4 102px,#0041be 104px,#0051ae 107px,#00817e 113px,#00a857 116px,#00f10e 120px,#06ff00 121px,#1eff00 122px,#56ff00 124px,#cdff00 128px,#fffe00 130px,#ffd600 134px,#ffbc00 137px,#ff8b00 145px,#ff6100 156px,#ff4e00 165px,#ff4500 188px,#ff4300 214px,#ff4700 240px,#ff5100 259px,#ff6500 267px,#ff7e00 274px,#ff9000 278px,#ffbc00 285px,#ffd600 288px,#fffe00 292px,#cdff00 294px,#39ff00 299px,#06ff00 301px,#00f10e 302px,#00a857 306px,#00817e 309px,#0051ae 315px,#0041be 318px,#003bc4 320px,#002bd4 333px,#0023dc 347px,#001ce3 420px)"></i><i style="top:36px;height:2.5px;background:linear-gradient(90deg,#001ce3 0px,#0023dc 74px,#002bd4 88px,#003cc3 100px,#0043bc 103px,#0052ad 106px,#006798 109px,#008b74 113px,#00b24d 116px,#00f906 120px,#0fff00 121px,#27ff00 122px,#5cff00 124px,#cfff00 128px,#eaff00 129px,#fffd00 130px,#ffd600 134px,#ffbc00 137px,#ff8b00 145px,#ff5f00 156px,#ff5200 161px,#ff4b00 166px,#ff4200 188px,#ff4000 213px,#ff4300 238px,#ff4d00 258px,#ff6300 267px,#ff9000 278px,#ffbc00 285px,#ffd600 288px,#fffd00 292px,#eaff00 293px,#41ff00 299px,#0fff00 301px,#00f906 302px,#00b24d 306px,#008b74 309px,#006798 313px,#0052ad 316px,#0043bc 319px,#003ec1 321px,#002dd2 333px,#0023dc 347px,#001ce3 420px)"></i><i style="top:38px;height:2.5px;background:linear-gradient(90deg,#001ce3 0px,#0023dc 72px,#002ad5 85px,#0038c7 95px,#0047b8 102px,#004fb0 104px,#00629d 107px,#007c83 110px,#00a45b 114px,#00c03f 116px,#00f30c 119px,#07ff00 120px,#33ff00 122px,#edff00 129px,#fffd00 130px,#ffd500 134px,#ffbc00 137px,#ff9b00 142px,#ff8500 146px,#ff5d00 156px,#ff5000 161px,#ff4900 166px,#ff3f00 188px,#ff3c00 213px,#ff4100 239px,#ff4b00 258px,#ff6000 267px,#ff8a00 277px,#ffbc00 285px,#ffd500 288px,#fffd00 292px,#edff00 293px,#4cff00 299px,#07ff00 302px,#00f30c 303px,#00c03f 306px,#00a45b 308px,#006a95 314px,#0055aa 317px,#004ab5 319px,#003bc4 325px,#002bd4 336px,#0023dc 349px,#001ce3 420px)"></i><i style="top:40px;height:2.5px;background:linear-gradient(90deg,#001ce3 0px,#0023dc 67px,#002ad5 83px,#0036c9 92px,#004bb4 101px,#005fa0 105px,#007788 108px,#00a956 113px,#00c23d 115px,#00f00f 118px,#03ff00 119px,#2bff00 121px,#58ff00 123px,#efff00 129px,#fffc00 130px,#ffbd00 137px,#ff9b00 142px,#ff8000 147px,#ff5b00 156px,#ff4c00 162px,#ff4500 167px,#ff3c00 189px,#ff3a00 214px,#ff3e00 240px,#ff4900 258px,#ff5e00 267px,#ff8500 276px,#ff9b00 280px,#ffbd00 285px,#fffc00 292px,#efff00 293px,#58ff00 299px,#03ff00 303px,#00b54a 308px,#00817e 313px,#006699 316px,#004fb0 320px,#0038c7 329px,#002cd3 337px,#0023dc 352px,#001ce3 420px)"></i><i style="top:42px;height:2.5px;background:linear-gradient(90deg,#001ce3 0px,#0022dd 62px,#0028d7 78px,#0034cb 89px,#004cb3 99px,#0058a7 102px,#00639c 104px,#008679 108px,#00bb44 113px,#00f10e 117px,#02ff00 118px,#3cff00 121px,#7dff00 124px,#f2ff00 129px,#fffb00 130px,#ffd500 134px,#ffb600 138px,#ff9500 143px,#ff7500 149px,#ff5f00 154px,#ff5300 158px,#ff4800 163px,#ff4200 168px,#ff3900 191px,#ff3700 215px,#ff3c00 241px,#ff4600 258px,#ff5b00 267px,#ff7f00 275px,#ff9b00 280px,#ffbd00 285px,#fffb00 292px,#f2ff00 293px,#66ff00 299px,#02ff00 304px,#00bb44 309px,#008679 314px,#00639c 318px,#0050af 322px,#0036c9 332px,#002ad5 342px,#0022dd 359px,#001ce3 420px)"></i><i style="top:44px;height:2.5px;background:linear-gradient(90deg,#001ce3 0px,#0022dd 60px,#0029d6 77px,#0035ca 88px,#004db2 97px,#005ca3 101px,#006897 103px,#009669 108px,#00ce31 113px,#00f40b 116px,#05ff00 117px,#28ff00 119px,#74ff00 123px,#f5ff00 129px,#fffa00 130px,#ffd500 134px,#ffb600 138px,#ff9500 143px,#ff6e00 150px,#ff5c00 154px,#ff5000 158px,#ff4600 163px,#ff3f00 169px,#ff3600 192px,#ff3400 216px,#ff3a00 242px,#ff4400 258px,#ff5900 267px,#ff7900 274px,#ff9b00 280px,#ffbd00 285px,#fffa00 292px,#f5ff00 293px,#60ff00 300px,#05ff00 305px,#00f40b 306px,#00ce31 309px,#009669 314px,#006897 319px,#005ca3 321px,#004db2 325px,#0035ca 334px,#0029d6 345px,#0022dd 361px,#001ce3 420px)"></i><i style="top:46px;height:2.5px;background:linear-gradient(90deg,#001ce3 0px,#0022dd 59px,#0029d6 75px,#0036c9 87px,#004cb3 95px,#006c93 102px,#007b84 104px,#009a65 107px,#00f906 115px,#09ff00 116px,#5dff00 121px,#95ff00 124px,#f8ff00 129px,#fff900 130px,#ffd500 134px,#ffb600 138px,#ff9500 143px,#ff6700 151px,#ff5600 155px,#ff4c00 159px,#ff3c00 169px,#ff3300 192px,#ff3100 216px,#ff3700 243px,#ff4200 258px,#ff5600 267px,#ff6d00 272px,#ffb600 284px,#ffd500 288px,#fff900 292px,#f8ff00 293px,#6fff00 300px,#09ff00 306px,#00f906 307px,#009a65 315px,#007b84 318px,#006c93 320px,#004cb3 327px,#0036c9 335px,#0029d6 347px,#0022dd 363px,#001ce3 420px)"></i><i style="top:48px;height:2.5px;background:linear-gradient(90deg,#001ce3 0px,#0022dd 58px,#002ad5 74px,#0037c8 86px,#004eb1 94px,#00659a 99px,#007689 102px,#009c63 106px,#00fd02 114px,#1cff00 116px,#6cff00 121px,#fbff00 129px,#fff800 130px,#ffcc00 135px,#ffaf00 139px,#ff6000 152px,#ff5400 155px,#ff4900 159px,#ff3900 169px,#ff3000 192px,#ff2e00 216px,#ff3500 244px,#ff3f00 258px,#ff5400 267px,#ff6b00 272px,#ffb600 284px,#ffd400 288px,#fff800 292px,#fbff00 293px,#7dff00 300px,#0dff00 307px,#00fd02 308px,#009c63 316px,#007689 320px,#0052ad 327px,#0038c7 335px,#002bd4 347px,#0022dd 363px,#001ce3 420px)"></i><i style="top:50px;height:2.5px;background:linear-gradient(90deg,#001ce3 0px,#0022dd 58px,#002bd4 73px,#0039c6 86px,#004fb0 93px,#007986 101px,#009e61 105px,#01ff00 113px,#88ff00 122px,#fdff00 129px,#fff800 130px,#ffcc00 135px,#ffaf00 139px,#ff6f00 149px,#ff5a00 153px,#ff4300 161px,#ff3600 170px,#ff2d00 194px,#ff2c00 217px,#ff3300 245px,#ff3d00 258px,#ff5100 267px,#ff6400 271px,#ffb600 284px,#ffd400 288px,#fff800 292px,#fdff00 293px,#88ff00 300px,#01ff00 309px,#009e61 317px,#007986 321px,#004fb0 329px,#0039c6 336px,#002bd4 349px,#0022dd 364px,#001ce3 420px)"></i><i style="top:52px;height:2.5px;background:linear-gradient(90deg,#001ce3 0px,#0023dc 58px,#002cd3 73px,#003cc3 86px,#0055aa 93px,#00827d 101px,#00a956 105px,#00ff00 112px,#81ff00 121px,#ffff00 129px,#ffb600 138px,#ff5800 153px,#ff4c00 156px,#ff4100 161px,#ff3400 170px,#ff2b00 194px,#ff2900 217px,#ff3000 245px,#ff3b00 258px,#ff4c00 266px,#ff6300 271px,#ffb600 284px,#ffff00 293px,#81ff00 301px,#00ff00 310px,#00a956 317px,#00827d 321px,#0055aa 329px,#003cc3 336px,#002cd3 349px,#0023dc 364px,#001ce3 420px)"></i><i style="top:54px;height:2.5px;background:linear-gradient(90deg,#001ce3 0px,#0023dc 57px,#002cd3 71px,#003dc2 85px,#0055aa 92px,#006b94 96px,#008b74 101px,#00b34c 105px,#00fd02 111px,#79ff00 120px,#fffe00 129px,#ffb600 138px,#ff5600 153px,#ff4a00 156px,#ff4000 160px,#ff3100 170px,#ff2800 194px,#ff2600 217px,#ff2e00 246px,#ff3800 258px,#ff4a00 266px,#ff5c00 270px,#ffb600 284px,#fffe00 293px,#87ff00 301px,#0bff00 310px,#00fd02 311px,#00a857 318px,#00847b 322px,#0055aa 330px,#003dc2 337px,#002cd3 351px,#0023dc 365px,#001ce3 420px)"></i><i style="top:56px;height:2.5px;background:linear-gradient(90deg,#001ce3 0px,#0024db 57px,#002ed1 71px,#0041be 85px,#004ab5 88px,#005ba4 92px,#008e71 100px,#00b44b 104px,#00fb04 110px,#09ff00 111px,#72ff00 119px,#fffd00 129px,#ffb600 138px,#ff5500 153px,#ff4800 156px,#ff3e00 160px,#ff2e00 170px,#ff2500 193px,#ff2300 216px,#ff2a00 243px,#ff3400 257px,#ff4800 266px,#ff5b00 270px,#ffb600 284px,#fffd00 293px,#8dff00 301px,#09ff00 311px,#00fb04 312px,#00b44b 318px,#008e71 322px,#005ba4 330px,#004ab5 334px,#0041be 337px,#002fd0 350px,#0024db 364px,#001ce3 420px)"></i><i style="top:58px;height:2.5px;background:linear-gradient(90deg,#001ce3 0px,#0025da 57px,#002fd0 71px,#0044bb 84px,#0058a7 90px,#00847b 97px,#00ac53 102px,#00fa05 109px,#08ff00 110px,#78ff00 119px,#bbff00 124px,#f4ff00 128px,#fffd00 129px,#ffb600 138px,#ff4e00 154px,#ff3900 161px,#ff2b00 170px,#ff2200 193px,#ff2000 216px,#ff2600 243px,#ff3100 257px,#ff4300 265px,#ff5400 269px,#ffb600 284px,#fffd00 293px,#f4ff00 294px,#85ff00 302px,#08ff00 312px,#00fa05 313px,#00ac53 320px,#007c83 326px,#0058a7 332px,#0044bb 338px,#002fd0 351px,#0025da 365px,#001ce3 420px)"></i><i style="top:60px;height:2.5px;background:linear-gradient(90deg,#001ce3 0px,#0025da 56px,#002fd0 69px,#0042bd 81px,#0055aa 88px,#00708f 93px,#00af50 101px,#00fa05 108px,#07ff00 109px,#7fff00 119px,#beff00 124px,#f6ff00 128px,#fffc00 129px,#ffb500 138px,#ff4d00 154px,#ff4100 157px,#ff3600 161px,#ff2700 170px,#ff1f00 193px,#ff1d00 217px,#ff2400 244px,#ff2e00 257px,#ff4100 265px,#ff5200 269px,#ffbc00 285px,#fffc00 293px,#f6ff00 294px,#8bff00 302px,#07ff00 313px,#00fa05 314px,#00af50 321px,#00708f 329px,#0055aa 334px,#0044bb 340px,#0030cf 352px,#0026d9 365px,#001ce3 420px)"></i><i style="top:62px;height:2.5px;background:linear-gradient(90deg,#001ce3 0px,#0026d9 54px,#002fd0 68px,#003fc0 78px,#0053ac 86px,#006b94 91px,#008877 95px,#00b34c 100px,#00fa05 107px,#06ff00 108px,#85ff00 119px,#c1ff00 124px,#f8ff00 128px,#fffb00 129px,#ffbc00 137px,#ff4b00 154px,#ff3e00 157px,#ff3300 161px,#ff2400 170px,#ff1b00 193px,#ff1a00 217px,#ff2100 245px,#ff2b00 257px,#ff3e00 265px,#ff5100 269px,#ffbc00 285px,#fffb00 293px,#f8ff00 294px,#9cff00 301px,#06ff00 314px,#00fa05 315px,#00c639 320px,#00a25d 324px,#006b94 331px,#0053ac 336px,#0041be 343px,#0031ce 353px,#0026d9 367px,#001ce3 420px)"></i><i style="top:64px;height:2.5px;background:linear-gradient(90deg,#001ce3 0px,#0026d9 52px,#0030cf 67px,#003fc0 76px,#0056a9 85px,#006c93 90px,#009b64 96px,#00fb04 106px,#07ff00 107px,#8aff00 119px,#c4ff00 124px,#f9ff00 128px,#fffb00 129px,#ffbc00 137px,#ff4400 155px,#ff2e00 162px,#ff2100 170px,#ff1800 193px,#ff1700 217px,#ff1e00 245px,#ff2800 257px,#ff3900 264px,#ff4a00 268px,#ffbc00 285px,#fffb00 293px,#f9ff00 294px,#a1ff00 301px,#07ff00 315px,#00fb04 316px,#009b64 326px,#006c93 332px,#0056a9 337px,#003fc0 346px,#0030cf 355px,#0026d9 370px,#001ce3 420px)"></i><i style="top:66px;height:2.5px;background:linear-gradient(90deg,#001ce3 0px,#0025da 48px,#0030cf 65px,#003dc2 74px,#0055aa 83px,#006e91 89px,#00936c 94px,#00fc03 105px,#08ff00 106px,#9aff00 120px,#c7ff00 124px,#fbff00 128px,#fffa00 129px,#ffbb00 137px,#ff4300 155px,#ff2c00 162px,#ff1f00 170px,#ff1600 193px,#ff1400 216px,#ff1a00 242px,#ff2400 256px,#ff3700 264px,#ff4900 268px,#ffc200 286px,#fffa00 293px,#fbff00 294px,#a5ff00 301px,#08ff00 316px,#00fc03 317px,#00936c 328px,#006e91 333px,#0058a7 338px,#0040bf 347px,#0032cd 355px,#0026d9 371px,#0020df 389px,#001ce3 420px)"></i><i style="top:68px;height:2.5px;background:linear-gradient(90deg,#001ce3 0px,#0025da 46px,#0031ce 64px,#003ec1 73px,#0057a8 82px,#00758a 89px,#009c63 94px,#00fd02 104px,#9dff00 120px,#caff00 124px,#fcff00 128px,#fffa00 129px,#ffbb00 137px,#ff4200 155px,#ff3500 158px,#ff2a00 162px,#ff1d00 170px,#ff1400 193px,#ff1200 216px,#ff1800 242px,#ff2200 256px,#ff3500 264px,#ff4800 268px,#ffc200 286px,#fffa00 293px,#fcff00 294px,#caff00 298px,#9dff00 302px,#08ff00 317px,#00fd02 318px,#009c63 328px,#00758a 333px,#0057a8 340px,#003ec1 349px,#0031ce 358px,#0025da 375px,#001ce3 420px)"></i><i style="top:70px;height:2.5px;background:linear-gradient(90deg,#001ce3 0px,#0025da 44px,#0031ce 62px,#003fc0 72px,#0059a6 81px,#007c83 89px,#009c63 93px,#00fd02 103px,#a1ff00 120px,#ccff00 124px,#fdff00 128px,#fff900 129px,#ffc200 136px,#ff4100 155px,#ff3400 158px,#ff2900 162px,#ff1b00 170px,#ff1200 193px,#ff1000 216px,#ff1600 242px,#ff2000 256px,#ff3400 264px,#ff4100 267px,#ffbb00 285px,#fdff00 294px,#ccff00 298px,#a1ff00 302px,#00fd02 319px,#009c63 329px,#007c83 333px,#0059a6 341px,#003fc0 350px,#0031ce 360px,#0025da 377px,#001ce3 420px)"></i><i style="top:72px;height:2.5px;background:linear-gradient(90deg,#001ce3 0px,#0025da 43px,#0031ce 60px,#0040bf 71px,#0057a8 79px,#007d82 88px,#009a65 92px,#00fc03 102px,#07ff00 103px,#9aff00 119px,#ceff00 124px,#feff00 128px,#fff900 129px,#ffc200 136px,#ff4000 155px,#ff3300 158px,#ff2800 162px,#ff1a00 170px,#ff1100 193px,#ff1000 216px,#ff1500 242px,#ff1f00 256px,#ff3300 264px,#ff4000 267px,#ffc200 286px,#feff00 294px,#ceff00 298px,#9aff00 303px,#07ff00 319px,#00fc03 320px,#009a65 330px,#007d82 334px,#0057a8 343px,#0040bf 351px,#0032cd 361px,#0026d9 378px,#001de2 420px)"></i><i style="top:74px;height:2.5px;background:linear-gradient(90deg,#001ce3 0px,#0025da 42px,#0031ce 58px,#0041be 70px,#005ba4 79px,#00847b 88px,#00a25d 92px,#00f906 101px,#03ff00 102px,#93ff00 118px,#c5ff00 123px,#ffff00 128px,#ffc200 136px,#ff4100 155px,#ff3300 158px,#ff2800 162px,#ff1a00 170px,#ff1200 192px,#ff0f00 216px,#ff1500 242px,#ff1f00 256px,#ff3300 264px,#ff4100 267px,#ffc200 286px,#ffff00 294px,#f3ff00 295px,#c5ff00 299px,#93ff00 304px,#03ff00 320px,#00f906 321px,#00a25d 330px,#00847b 334px,#005ba4 343px,#0043bc 351px,#0033cc 362px,#0026d9 378px,#001de2 420px)"></i><i style="top:76px;height:2.5px;background:linear-gradient(90deg,#001ce3 0px,#0027d8 43px,#0033cc 58px,#0045ba 70px,#00619e 79px,#008b74 88px,#00aa55 92px,#00fe01 101px,#9fff00 119px,#c7ff00 123px,#fffe00 128px,#ffbb00 137px,#ff4200 155px,#ff3400 158px,#ff2900 162px,#ff1b00 170px,#ff1200 192px,#ff1000 216px,#ff1600 242px,#ff2000 256px,#ff3400 264px,#ff4200 267px,#ffbb00 285px,#fffe00 294px,#f4ff00 295px,#c7ff00 299px,#9fff00 303px,#00fe01 321px,#00aa55 330px,#008b74 334px,#00619e 343px,#0045ba 352px,#0033cc 364px,#0027d8 379px,#001de2 420px)"></i><i style="top:78px;height:2.5px;background:linear-gradient(90deg,#001de2 0px,#0028d7 43px,#0034cb 56px,#0047b8 69px,#00639c 78px,#00946b 88px,#00b24d 92px,#00fb04 100px,#05ff00 101px,#8fff00 117px,#beff00 122px,#fffe00 128px,#ffbb00 137px,#ff3f00 156px,#ff2800 163px,#ff1b00 171px,#ff1200 193px,#ff1000 217px,#ff1600 243px,#ff2100 256px,#ff3300 263px,#ff4400 267px,#ffbb00 285px,#fffe00 294px,#f6ff00 295px,#beff00 300px,#8fff00 305px,#05ff00 321px,#00fb04 322px,#00b24d 330px,#00946b 334px,#00639c 344px,#0047b8 353px,#0035ca 365px,#0029d6 378px,#001de2 420px)"></i><i style="top:80px;height:2.5px;background:linear-gradient(90deg,#001de2 0px,#0021de 24px,#002bd4 44px,#0037c8 56px,#004ab5 68px,#006699 77px,#009768 87px,#00b24d 91px,#02ff00 100px,#91ff00 117px,#c0ff00 122px,#f7ff00 127px,#fffd00 128px,#ffb500 138px,#ff4200 156px,#ff2700 164px,#ff1b00 172px,#ff1200 193px,#ff1000 218px,#ff1700 243px,#ff2300 256px,#ff3600 263px,#ff4700 267px,#ffbc00 285px,#fffd00 294px,#f7ff00 295px,#cbff00 299px,#9aff00 304px,#02ff00 322px,#00b24d 331px,#009768 335px,#006699 345px,#004db2 353px,#0038c7 365px,#002cd3 376px,#0023dc 394px,#001de2 420px)"></i><i style="top:82px;height:2.5px;background:linear-gradient(90deg,#001de2 0px,#0022dd 24px,#002dd2 45px,#0038c7 55px,#004eb1 67px,#006996 76px,#00a05f 87px,#00bc43 91px,#00fe01 99px,#8aff00 116px,#c2ff00 122px,#f8ff00 127px,#fffd00 128px,#ffb600 138px,#ff4100 157px,#ff2700 165px,#ff1a00 175px,#ff1200 196px,#ff1100 220px,#ff1700 243px,#ff2500 256px,#ff3600 262px,#ff4c00 267px,#ffb600 284px,#fffd00 294px,#f8ff00 295px,#c2ff00 300px,#92ff00 305px,#00fe01 323px,#00bc43 331px,#00a05f 335px,#006996 346px,#004eb1 355px,#003ac5 366px,#002ed1 376px,#0023dc 396px,#001de2 420px)"></i><i style="top:84px;height:2.5px;background:linear-gradient(90deg,#001de2 0px,#0023dc 23px,#0030cf 46px,#003bc4 55px,#004fb0 65px,#00659a 73px,#008976 81px,#00b649 89px,#00fb04 98px,#04ff00 99px,#83ff00 115px,#baff00 121px,#faff00 127px,#fffc00 128px,#ffb000 139px,#ff4500 157px,#ff3200 162px,#ff2700 166px,#ff1900 177px,#ff1200 198px,#ff1100 221px,#ff1800 243px,#ff2500 255px,#ff3200 260px,#ff4a00 266px,#ffb700 284px,#fffc00 294px,#faff00 295px,#baff00 301px,#83ff00 307px,#04ff00 323px,#00fb04 324px,#00b649 333px,#008976 341px,#00659a 349px,#004fb0 357px,#003bc4 367px,#0030cf 376px,#0023dc 398px,#001de2 420px)"></i><i style="top:86px;height:2.5px;background:linear-gradient(90deg,#001de2 0px,#0022dd 20px,#002ed1 41px,#0038c7 51px,#0048b7 60px,#00659a 71px,#00827d 78px,#00b946 88px,#00fa05 97px,#02ff00 98px,#74ff00 113px,#b1ff00 120px,#fbff00 127px,#fffc00 128px,#ffb100 139px,#ff4500 158px,#ff2a00 166px,#ff1a00 178px,#ff1200 199px,#ff1200 221px,#ff1900 243px,#ff2600 254px,#ff3600 260px,#ff4f00 266px,#ffb100 283px,#ffef00 292px,#fffc00 294px,#fbff00 295px,#bbff00 301px,#84ff00 307px,#02ff00 324px,#00b946 334px,#00827d 344px,#006897 350px,#004db2 360px,#003cc3 368px,#0032cd 376px,#0024db 398px,#001de2 420px)"></i><i style="top:88px;height:2.5px;background:linear-gradient(90deg,#001de2 0px,#0022dd 18px,#002ed1 38px,#0037c8 49px,#0047b8 58px,#00659a 69px,#007f80 76px,#00bc43 87px,#00ff00 97px,#7eff00 114px,#bcff00 121px,#fcff00 127px,#fffb00 128px,#ffb300 139px,#ff4500 159px,#ff3600 163px,#ff2b00 167px,#ff1a00 179px,#ff1200 200px,#ff1200 222px,#ff1a00 243px,#ff2900 254px,#ff3600 259px,#ff4f00 265px,#ffb300 283px,#ffef00 292px,#fcff00 295px,#bcff00 301px,#86ff00 307px,#56ff00 313px,#00ff00 325px,#00c23d 334px,#00847b 345px,#006c93 351px,#004ab5 363px,#003ac5 371px,#0032cd 379px,#0024db 400px,#001ee1 420px)"></i><i style="top:90px;height:2.5px;background:linear-gradient(90deg,#001ee1 0px,#0022dd 16px,#002cd3 33px,#0038c7 48px,#0048b7 57px,#006b94 69px,#008679 76px,#00b847 85px,#00fe01 96px,#51ff00 108px,#77ff00 113px,#b4ff00 120px,#fdff00 127px,#fffb00 128px,#ffb400 139px,#ff4500 160px,#ff3600 164px,#ff2b00 168px,#ff1b00 179px,#ff1300 200px,#ff1200 220px,#ff1a00 242px,#ff2700 252px,#ff3600 258px,#ff4f00 264px,#ff8100 273px,#ffb400 283px,#ffef00 292px,#fdff00 295px,#beff00 301px,#7fff00 308px,#51ff00 314px,#00fe01 326px,#00b847 337px,#008679 346px,#006b94 353px,#0048b7 365px,#0039c6 373px,#0030cf 384px,#0023dc 403px,#001ee1 420px)"></i><i style="top:92px;height:2.5px;background:linear-gradient(90deg,#001ee1 0px,#002bd4 30px,#0039c6 47px,#0047b8 55px,#00639c 65px,#008877 75px,#00ad52 82px,#00fd02 95px,#46ff00 106px,#71ff00 112px,#b5ff00 120px,#feff00 127px,#fffa00 128px,#ffb500 139px,#ff8000 150px,#ff4100 162px,#ff2a00 170px,#ff1b00 180px,#ff1300 200px,#ff1300 220px,#ff1b00 242px,#ff2800 251px,#ff3900 258px,#ff4e00 263px,#ff8000 272px,#ffb500 283px,#feff00 295px,#b5ff00 302px,#78ff00 309px,#4cff00 315px,#00fd02 327px,#00ad52 340px,#008877 347px,#00639c 357px,#0049b6 366px,#003ac5 374px,#002dd2 389px,#0023dc 405px,#001ee1 420px)"></i><i style="top:94px;height:2.5px;background:linear-gradient(90deg,#001ee1 0px,#0022dd 15px,#002cd3 30px,#003bc4 47px,#0049b6 55px,#00619e 63px,#008976 74px,#00a857 80px,#00fc03 94px,#03ff00 95px,#3bff00 104px,#6bff00 111px,#adff00 119px,#feff00 127px,#fffa00 128px,#ffb600 139px,#ff7e00 151px,#ff4400 162px,#ff2c00 170px,#ff1c00 180px,#ff1400 200px,#ff1300 219px,#ff1c00 241px,#ff2800 250px,#ff3900 257px,#ff4900 261px,#ff7e00 271px,#ffb600 283px,#feff00 295px,#b7ff00 302px,#72ff00 310px,#41ff00 317px,#03ff00 327px,#00fc03 328px,#00a857 342px,#008976 348px,#00619e 359px,#0049b6 367px,#003bc4 375px,#002dd2 391px,#001ee1 420px)"></i><i style="top:96px;height:2.5px;background:linear-gradient(90deg,#001ee1 0px,#0022dd 14px,#002cd3 29px,#003dc2 47px,#0049b6 54px,#00649b 63px,#008d72 74px,#00a758 79px,#02ff00 94px,#4aff00 106px,#6cff00 111px,#afff00 119px,#ffff00 127px,#fffa00 128px,#ffb700 139px,#ff8100 151px,#ff4300 163px,#ff2a00 172px,#ff1e00 180px,#ff1500 198px,#ff1400 216px,#ff1c00 239px,#ff2600 248px,#ff3900 256px,#ff4800 260px,#ff8100 271px,#ffb700 283px,#ffff00 295px,#b8ff00 302px,#74ff00 310px,#4aff00 316px,#02ff00 328px,#00a758 343px,#008d72 348px,#00649b 359px,#0049b6 368px,#003dc2 375px,#002dd2 392px,#001ee1 420px)"></i><i style="top:98px;height:2.5px;background:linear-gradient(90deg,#001ee1 0px,#0023dc 14px,#002dd2 29px,#003ec1 47px,#004bb4 54px,#006699 63px,#00906f 74px,#00aa55 79px,#00fe01 93px,#46ff00 105px,#6eff00 111px,#b0ff00 119px,#ffff00 127px,#fffa00 128px,#ffb700 139px,#ff7f00 152px,#ff4700 163px,#ff2c00 172px,#ff1f00 180px,#ff1600 198px,#ff1400 215px,#ff1c00 237px,#ff2600 247px,#ff3c00 256px,#ff4b00 260px,#ff7f00 270px,#ffb700 283px,#ffff00 295px,#b0ff00 303px,#75ff00 310px,#4cff00 316px,#05ff00 328px,#00fe01 329px,#00aa55 343px,#008b74 349px,#00639c 360px,#004bb4 368px,#003ec1 375px,#002ed1 391px,#001fe0 420px)"></i><i style="top:100px;height:2.5px;background:linear-gradient(90deg,#001fe0 0px,#0023dc 14px,#002dd2 29px,#003ec1 46px,#004ab5 53px,#00649b 62px,#008d72 73px,#00ac53 79px,#01ff00 93px,#4eff00 106px,#77ff00 112px,#b1ff00 119px,#ffff00 127px,#ffb300 140px,#ff8100 152px,#ff4900 163px,#ff2c00 173px,#ff1f00 181px,#ff1700 199px,#ff1500 216px,#ff1d00 238px,#ff2700 247px,#ff3f00 256px,#ff4e00 260px,#ff8100 270px,#ffb300 282px,#ffff00 295px,#b1ff00 303px,#77ff00 310px,#4eff00 316px,#01ff00 329px,#00ac53 343px,#008d72 349px,#006897 359px,#004db2 368px,#003fc0 375px,#0030cf 390px,#0024db 406px,#001fe0 420px)"></i><i style="top:102px;height:2.5px;background:linear-gradient(90deg,#001fe0 0px,#0023dc 14px,#002ed1 30px,#003fc0 46px,#004cb3 53px,#006996 63px,#008f70 73px,#00ae51 79px,#00fc03 92px,#03ff00 93px,#44ff00 104px,#72ff00 111px,#b2ff00 119px,#ffff00 127px,#ffb300 140px,#ff8200 152px,#ff4c00 163px,#ff2e00 173px,#ff2100 181px,#ff1800 199px,#ff1600 215px,#ff1d00 235px,#ff2700 246px,#ff3900 253px,#ff4c00 259px,#ff8200 270px,#ffb300 282px,#ffff00 295px,#b2ff00 303px,#79ff00 310px,#50ff00 316px,#03ff00 329px,#00fc03 330px,#00ae51 343px,#008f70 349px,#006996 359px,#004eb1 368px,#0040bf 375px,#0031ce 389px,#0025da 405px,#001fe0 420px)"></i><i style="top:104px;height:2.5px;background:linear-gradient(90deg,#001fe0 0px,#0024db 15px,#0030cf 32px,#0040bf 46px,#004db2 53px,#006a95 63px,#00906f 73px,#00af50 79px,#00fd02 92px,#4cff00 105px,#74ff00 111px,#b4ff00 119px,#ffff00 127px,#ffb400 140px,#ff8300 152px,#ff4f00 163px,#ff3000 173px,#ff2300 181px,#ff1a00 199px,#ff1800 215px,#ff1f00 235px,#ff2a00 246px,#ff3b00 253px,#ff4f00 259px,#ff8300 270px,#ffb400 282px,#ffff00 295px,#b4ff00 303px,#7bff00 310px,#53ff00 316px,#04ff00 329px,#00fd02 330px,#00af50 343px,#00906f 349px,#006e91 358px,#004fb0 368px,#0041be 375px,#0032cd 388px,#0025da 405px,#001fe0 420px)"></i><i style="top:106px;height:2.5px;background:linear-gradient(90deg,#001fe0 0px,#0025da 15px,#0032cd 33px,#0041be 46px,#004eb1 53px,#006e91 64px,#00916e 73px,#00b04f 79px,#00fe01 92px,#55ff00 106px,#7dff00 112px,#beff00 120px,#ffff00 127px,#ffb400 140px,#ff8000 153px,#ff5200 163px,#ff3300 173px,#ff2500 181px,#ff1c00 199px,#ff1b00 215px,#ff2200 235px,#ff2c00 246px,#ff4e00 258px,#ff8400 270px,#ffab00 280px,#ffbe00 284px,#ffff00 295px,#beff00 302px,#7dff00 310px,#55ff00 316px,#06ff00 329px,#00fe01 330px,#00ab54 344px,#008c73 350px,#006b94 359px,#004eb1 369px,#0041be 376px,#0033cc 388px,#0026d9 405px,#0020df 420px)"></i><i style="top:108px;height:2.5px;background:linear-gradient(90deg,#001fe0 0px,#0025da 16px,#0033cc 34px,#0041be 46px,#004fb0 53px,#006c93 63px,#008d72 72px,#00ac53 78px,#00ff00 92px,#57ff00 106px,#7fff00 112px,#bfff00 120px,#ffff00 127px,#ffb400 140px,#ff8100 153px,#ff5500 163px,#ff3600 173px,#ff2800 181px,#ff1f00 199px,#ff1d00 215px,#ff2400 235px,#ff2f00 246px,#ff5100 258px,#ff8100 269px,#ffab00 280px,#ffbf00 284px,#ffff00 295px,#bfff00 302px,#7fff00 310px,#57ff00 316px,#00ff00 330px,#00b14e 343px,#00926d 349px,#007689 356px,#0052ad 368px,#0043bc 375px,#0034cb 387px,#0026d9 405px,#0020df 420px)"></i><i style="top:110px;height:2.5px;background:linear-gradient(90deg,#0020df 0px,#0025da 15px,#0033cc 34px,#0041be 45px,#0050af 53px,#00708f 64px,#008e71 72px,#00ad52 78px,#01ff00 92px,#81ff00 112px,#c0ff00 120px,#ffff00 127px,#ffb400 140px,#ff5800 163px,#ff3900 173px,#ff2b00 181px,#ff2200 199px,#ff2000 215px,#ff2700 235px,#ff3200 246px,#ff5000 257px,#ffac00 280px,#ffbf00 284px,#ffff00 295px,#c0ff00 302px,#81ff00 310px,#01ff00 330px,#00ad52 344px,#008e71 350px,#00708f 358px,#0050af 369px,#0041be 377px,#0033cc 388px,#0026d9 406px,#0020df 420px)"></i><i style="top:112px;height:2.5px;background:linear-gradient(90deg,#0020df 0px,#0025da 15px,#0033cc 34px,#0041be 45px,#0051ae 53px,#00748b 65px,#008f70 72px,#00ae51 78px,#00fb04 91px,#02ff00 92px,#7cff00 111px,#b9ff00 119px,#ffff00 127px,#ffba00 139px,#ffa400 144px,#ff5000 166px,#ff3900 174px,#ff2e00 181px,#ff2600 198px,#ff2400 214px,#ff2900 232px,#ff3300 245px,#ff5300 257px,#ffa800 279px,#ffbf00 284px,#ffff00 295px,#c1ff00 302px,#83ff00 310px,#02ff00 330px,#00ae51 344px,#008f70 350px,#00748b 357px,#0051ae 369px,#0041be 377px,#0034cb 387px,#0027d8 405px,#0020df 420px)"></i><i style="top:114px;height:2.5px;background:linear-gradient(90deg,#0020df 0px,#0026d9 15px,#0034cb 34px,#0040bf 44px,#0052ad 53px,#007887 66px,#008f70 72px,#00ae51 78px,#00fc03 91px,#03ff00 92px,#7eff00 111px,#c2ff00 120px,#ffff00 127px,#ffba00 139px,#ffa400 144px,#ff4d00 168px,#ff3a00 175px,#ff3100 181px,#ff2900 198px,#ff2700 214px,#ff2c00 232px,#ff3600 245px,#ff5600 257px,#ffa800 279px,#ffbf00 284px,#ffff00 295px,#c2ff00 302px,#85ff00 310px,#03ff00 330px,#00fc03 331px,#00a956 345px,#008b74 351px,#00718e 358px,#0052ad 369px,#0042bd 377px,#0035ca 387px,#0027d8 405px,#0021de 420px)"></i><i style="top:116px;height:2.5px;background:linear-gradient(90deg,#0021de 0px,#0026d9 15px,#0034cb 34px,#0041be 44px,#0053ac 53px,#00758a 65px,#008c73 71px,#00af50 78px,#00fd02 91px,#50ff00 104px,#86ff00 112px,#c2ff00 120px,#ffff00 127px,#ffba00 139px,#ffa100 145px,#ff4d00 169px,#ff3d00 175px,#ff3500 181px,#ff2d00 198px,#ff2b00 214px,#ff3000 232px,#ff3a00 245px,#ff5600 256px,#ffa900 279px,#ffc000 284px,#ffff00 295px,#c2ff00 302px,#86ff00 310px,#04ff00 330px,#00fd02 331px,#00af50 344px,#008c73 351px,#00758a 357px,#0053ac 369px,#0041be 378px,#0035ca 387px,#0027d8 405px,#0021de 420px)"></i><i style="top:118px;height:2.5px;background:linear-gradient(90deg,#0021de 0px,#0027d8 16px,#0035ca 35px,#0042bd 44px,#0054ab 53px,#007689 65px,#008c73 71px,#00b04f 78px,#00fe01 91px,#87ff00 112px,#c3ff00 120px,#ffff00 127px,#ffbb00 139px,#ffa200 145px,#ff4d00 170px,#ff3f00 176px,#ff3800 181px,#ff3000 198px,#ff2e00 214px,#ff3300 232px,#ff3d00 245px,#ff5600 255px,#ffa500 278px,#ffbb00 283px,#ffff00 295px,#c3ff00 302px,#8eff00 309px,#05ff00 330px,#00fe01 331px,#00b04f 344px,#008c73 351px,#007689 357px,#0054ab 369px,#0042bd 378px,#0035ca 387px,#0028d7 405px,#0021de 420px)"></i><i style="top:120px;height:2.5px;background:linear-gradient(90deg,#0021de 0px,#0027d8 16px,#0036c9 35px,#0042bd 44px,#0056a9 53px,#007788 65px,#008d72 71px,#00b24d 78px,#00ff00 91px,#8fff00 113px,#c3ff00 120px,#ffff00 127px,#ffbc00 139px,#ffa200 145px,#ff5100 170px,#ff4200 176px,#ff3c00 181px,#ff3300 198px,#ff3100 214px,#ff3700 232px,#ff4000 245px,#ff5700 254px,#ffa600 278px,#ffbc00 283px,#ffff00 295px,#c3ff00 302px,#8fff00 309px,#06ff00 330px,#00ff00 331px,#00ac53 345px,#008976 352px,#00748b 358px,#0056a9 369px,#0042bd 378px,#0036c9 387px,#0028d7 405px,#0022dd 420px)"></i><i style="top:122px;height:2.5px;background:linear-gradient(90deg,#0022dd 0px,#0027d8 15px,#0035ca 34px,#0041be 43px,#0054ab 52px,#00728d 63px,#008a75 70px,#00ad52 77px,#01ff00 91px,#88ff00 112px,#c3ff00 120px,#ffff00 127px,#fffb00 128px,#ffc200 138px,#ffab00 143px,#ff4a00 174px,#ff4100 179px,#ff3d00 185px,#ff3500 212px,#ff3f00 241px,#ff4c00 249px,#ffab00 279px,#ffbc00 283px,#ffff00 295px,#cbff00 301px,#96ff00 308px,#01ff00 331px,#00ad52 345px,#008f70 351px,#007b84 356px,#0057a8 369px,#0043bc 378px,#0036c9 387px,#0028d7 405px,#0022dd 420px)"></i><i style="top:124px;height:2.5px;background:linear-gradient(90deg,#0022dd 0px,#0028d7 16px,#0036c9 34px,#0041be 42px,#0056a9 52px,#00738c 63px,#008c73 70px,#00a956 76px,#02ff00 91px,#8fff00 113px,#c3ff00 120px,#feff00 127px,#fffb00 128px,#ffc300 138px,#ffad00 143px,#ff4d00 174px,#ff4400 179px,#ff4000 185px,#ff3800 212px,#ff4100 239px,#ff4d00 248px,#ffad00 279px,#ffbe00 283px,#feff00 295px,#cbff00 301px,#96ff00 308px,#02ff00 331px,#00a956 346px,#008c73 352px,#007689 358px,#0058a7 369px,#0042bd 379px,#0037c8 387px,#0029d6 404px,#0022dd 420px)"></i><i style="top:126px;height:2.5px;background:linear-gradient(90deg,#0022dd 0px,#0029d6 16px,#0036c9 34px,#0042bd 42px,#0057a8 52px,#00758a 63px,#008d72 70px,#00b04f 77px,#00fc03 90px,#03ff00 91px,#90ff00 113px,#c3ff00 120px,#fdff00 127px,#fffc00 128px,#ffc100 139px,#ffac00 144px,#ff5100 174px,#ff4800 179px,#ff4400 184px,#ff3c00 211px,#ff4400 238px,#ff4800 243px,#ff5100 248px,#ffac00 278px,#ffc100 283px,#fffc00 294px,#fdff00 295px,#cbff00 301px,#96ff00 308px,#03ff00 331px,#00fc03 332px,#00b04f 345px,#008d72 352px,#007887 358px,#005aa5 369px,#0044bb 379px,#0038c7 387px,#002ad5 404px,#0023dc 420px)"></i><i style="top:128px;height:2.5px;background:linear-gradient(90deg,#0023dc 0px,#002ad5 17px,#0036c9 33px,#0043bc 42px,#0058a7 52px,#007689 63px,#008f70 70px,#00b24d 77px,#00fd02 90px,#96ff00 114px,#caff00 121px,#fcff00 127px,#fffc00 128px,#ffc400 139px,#ffb000 144px,#ff5300 175px,#ff4a00 180px,#ff4700 186px,#ff4000 211px,#ff4700 236px,#ff4a00 242px,#ff5300 247px,#ffb000 278px,#ffc400 283px,#fffc00 294px,#fcff00 295px,#caff00 301px,#96ff00 308px,#04ff00 331px,#00fd02 332px,#00b24d 345px,#008f70 352px,#007986 358px,#005ba4 369px,#0045ba 379px,#0037c8 388px,#002bd4 403px,#0023dc 420px)"></i><i style="top:130px;height:2.5px;background:linear-gradient(90deg,#0023dc 0px,#002bd4 18px,#0037c8 33px,#0044bb 42px,#005aa5 52px,#00748b 62px,#008c73 69px,#00ae51 76px,#00fe01 90px,#96ff00 114px,#fffd00 128px,#ffc800 139px,#ffb400 144px,#ff5700 175px,#ff4e00 180px,#ff4b00 186px,#ff4400 211px,#ff4b00 236px,#ff4e00 242px,#ff5700 247px,#ffb400 278px,#ffc800 283px,#fffd00 294px,#96ff00 308px,#05ff00 331px,#00fe01 332px,#00ae51 346px,#008c73 353px,#007788 359px,#005ca3 369px,#0046b9 379px,#0038c7 388px,#002cd3 401px,#0024db 420px)"></i><i style="top:132px;height:2.5px;background:linear-gradient(90deg,#0024db 0px,#002ad5 17px,#0036c9 31px,#0044bb 41px,#005ba4 52px,#007689 62px,#008e71 69px,#00b04f 76px,#00ff00 90px,#96ff00 114px,#ffff00 128px,#ffcc00 139px,#ffb600 145px,#ff5900 176px,#ff5200 180px,#ff4e00 188px,#ff4800 211px,#ff4e00 234px,#ff5200 242px,#ff5900 246px,#ffb600 277px,#ffcc00 283px,#ffff00 294px,#96ff00 308px,#00ff00 332px,#00b04f 346px,#008e71 353px,#007986 359px,#005ea1 369px,#0046b9 380px,#0038c7 389px,#002dd2 401px,#0024db 420px)"></i><i style="top:134px;height:2.5px;background:linear-gradient(90deg,#0024db 0px,#002ad5 16px,#0035ca 30px,#0045ba 41px,#005da2 52px,#007788 62px,#00906f 69px,#00ad52 75px,#01ff00 90px,#96ff00 114px,#fdff00 128px,#fffc00 129px,#ffd100 139px,#ffb700 146px,#ff5d00 176px,#ff5600 180px,#ff5200 188px,#ff4c00 211px,#ff5200 234px,#ff5600 242px,#ff5d00 246px,#ffb700 276px,#ffd100 283px,#fffc00 293px,#fdff00 294px,#96ff00 308px,#01ff00 332px,#00ad52 347px,#00906f 353px,#007a85 359px,#005fa0 369px,#0045ba 381px,#0036c9 391px,#002dd2 402px,#0025da 420px)"></i><i style="top:136px;height:2.5px;background:linear-gradient(90deg,#0025da 0px,#0034cb 28px,#0043bc 39px,#005ca3 51px,#007986 62px,#008e71 68px,#00af50 75px,#00fc03 89px,#02ff00 90px,#96ff00 114px,#fffd00 129px,#ffb900 147px,#ff6100 176px,#ff5b00 180px,#ff5600 188px,#ff5000 211px,#ff5600 234px,#ff5b00 242px,#ff6100 246px,#ffb900 275px,#fffd00 293px,#96ff00 308px,#02ff00 332px,#00926d 353px,#007c83 359px,#00619e 369px,#0046b9 381px,#0036c9 392px,#002dd2 402px,#0025da 420px)"></i><i style="top:138px;height:2.5px;background:linear-gradient(90deg,#0025da 0px,#0034cb 28px,#0044bb 39px,#005da2 51px,#007a85 62px,#00906f 68px,#00b14e 75px,#00fd02 89px,#96ff00 114px,#ffff00 129px,#fffc00 130px,#ffb700 149px,#ff7200 171px,#ff6300 177px,#ff5900 191px,#ff5400 212px,#ff5a00 235px,#ff5f00 242px,#ff6500 246px,#ffb700 273px,#ffff00 293px,#96ff00 308px,#04ff00 332px,#00fd02 333px,#00b14e 347px,#00906f 354px,#007a85 360px,#00609f 370px,#0046b9 382px,#0035ca 393px,#0026d9 420px)"></i><i style="top:140px;height:2.5px;background:linear-gradient(90deg,#0026d9 0px,#002bd4 15px,#0035ca 28px,#0045ba 39px,#005fa0 51px,#007c83 62px,#00926d 68px,#00b34c 75px,#00fe01 89px,#84ff00 111px,#fcff00 129px,#fffd00 130px,#ff9e00 158px,#ff6700 177px,#ff5d00 191px,#ff5800 211px,#ff5d00 231px,#ff6700 245px,#ff9e00 264px,#fffd00 292px,#fcff00 293px,#90ff00 309px,#05ff00 332px,#00fe01 333px,#00b34c 347px,#00926d 354px,#007c83 360px,#00619e 370px,#0047b8 382px,#0036c9 393px,#002ed1 402px,#0026d9 420px)"></i><i style="top:142px;height:2.5px;background:linear-gradient(90deg,#0026d9 0px,#002cd3 15px,#0035ca 28px,#0044bb 38px,#005ea1 50px,#007e81 62px,#00906f 67px,#00b04f 74px,#00ff00 89px,#8aff00 112px,#ffff00 130px,#ff9e00 159px,#ff6b00 177px,#ff6100 191px,#ff5c00 211px,#ff6100 231px,#ff6b00 245px,#ff9e00 263px,#ffff00 292px,#8aff00 310px,#00ff00 333px,#00946b 354px,#007e81 360px,#00639c 370px,#0048b7 382px,#0037c8 393px,#002fd0 401px,#0026d9 420px)"></i><i style="top:144px;height:2.5px;background:linear-gradient(90deg,#0027d8 0px,#0035ca 27px,#0043bc 37px,#005da2 49px,#007d82 61px,#008e71 66px,#00ad52 73px,#01ff00 89px,#5fff00 105px,#fffe00 131px,#ffa000 159px,#ff7100 176px,#ff6b00 180px,#ff6500 189px,#ff5f00 211px,#ff6500 233px,#ff6b00 242px,#ff7100 246px,#ffa000 263px,#fffe00 291px,#5fff00 317px,#01ff00 333px,#00926d 355px,#00807f 360px,#00629d 371px,#0047b8 383px,#0036c9 394px,#0027d8 420px)"></i><i style="top:146px;height:2.5px;background:linear-gradient(90deg,#0027d8 0px,#0035ca 27px,#0042bd 36px,#005aa5 47px,#007689 58px,#008d72 65px,#00b04f 73px,#00fc03 88px,#03ff00 89px,#47ff00 101px,#fdff00 131px,#fffd00 132px,#ffa300 159px,#ff7500 176px,#ff6f00 180px,#ff6900 190px,#ff6300 211px,#ff6900 232px,#ff6f00 242px,#ff7500 246px,#ffa300 263px,#fffd00 290px,#fdff00 291px,#53ff00 319px,#03ff00 333px,#00fc03 334px,#00b04f 349px,#00916e 356px,#007f80 361px,#005fa0 373px,#0046b9 384px,#0036c9 394px,#0028d7 420px)"></i><i style="top:148px;height:2.5px;background:linear-gradient(90deg,#0028d7 0px,#0036c9 27px,#0043bc 36px,#0059a6 46px,#007887 58px,#00906f 65px,#00b34c 73px,#00fe01 88px,#47ff00 101px,#ffff00 132px,#ffa500 159px,#ff7900 176px,#ff6c00 191px,#ff6600 211px,#ff6c00 231px,#ff7900 246px,#ffa500 263px,#ffff00 290px,#47ff00 321px,#04ff00 333px,#00fe01 334px,#00af50 350px,#008c73 358px,#005ba4 375px,#0045ba 385px,#0037c8 394px,#0028d7 420px)"></i><i style="top:150px;height:2.5px;background:linear-gradient(90deg,#0028d7 0px,#0036c9 27px,#0042bd 35px,#0057a8 45px,#007887 57px,#008f70 64px,#00ff00 88px,#47ff00 101px,#fffe00 133px,#ffaa00 158px,#ff7f00 175px,#ff7800 180px,#ff7000 191px,#ff6900 211px,#ff7000 231px,#ff7800 242px,#ff7f00 247px,#ffaa00 264px,#fffe00 289px,#47ff00 321px,#00ff00 334px,#008f70 358px,#007887 365px,#005aa5 376px,#0044bb 386px,#0037c8 394px,#0029d6 420px)"></i><i style="top:152px;height:2.5px;background:linear-gradient(90deg,#0029d6 0px,#0037c8 27px,#0042bd 35px,#0054ab 43px,#007788 56px,#008e71 63px,#02ff00 88px,#fffe00 134px,#ffac00 158px,#ff8400 174px,#ff7c00 180px,#ff7400 191px,#ff6d00 211px,#ff7400 231px,#ff7c00 242px,#ff8400 248px,#ffac00 264px,#fffe00 288px,#02ff00 334px,#008e71 359px,#007788 366px,#0056a9 378px,#0042bd 387px,#0037c8 395px,#0029d6 420px)"></i><i style="top:154px;height:2.5px;background:linear-gradient(90deg,#0029d6 0px,#0037c8 27px,#0041be 34px,#0052ad 42px,#007689 55px,#008d72 62px,#00fd02 87px,#47ff00 101px,#fcff00 134px,#fffd00 135px,#ffae00 158px,#ff8a00 173px,#ff8100 179px,#ff7700 191px,#ff7000 211px,#ff7700 231px,#ff8100 243px,#ff8a00 249px,#ffae00 264px,#fffd00 287px,#fcff00 288px,#47ff00 321px,#03ff00 334px,#00fd02 335px,#008d72 360px,#007986 366px,#0055aa 379px,#0043bc 387px,#0037c8 395px,#002ad5 420px)"></i><i style="top:156px;height:2.5px;background:linear-gradient(90deg,#002ad5 0px,#0038c7 27px,#0042bd 34px,#0051ae 41px,#008b74 61px,#00fe01 87px,#47ff00 101px,#fdff00 135px,#fffd00 136px,#ffb000 158px,#ff8f00 172px,#ff8600 178px,#ff7b00 191px,#ff7300 211px,#ff7b00 231px,#ff8600 244px,#ff8f00 250px,#ffb000 264px,#fffd00 286px,#fdff00 287px,#d0ff00 295px,#04ff00 334px,#00fe01 335px,#008b74 361px,#0053ac 380px,#0042bd 388px,#0038c7 395px,#002ad5 420px)"></i><i style="top:158px;height:2.5px;background:linear-gradient(90deg,#002ad5 0px,#0039c6 27px,#0043bc 34px,#0052ad 41px,#008d72 61px,#00ff00 87px,#ccff00 127px,#feff00 136px,#fffd00 137px,#ffb500 157px,#ff9500 171px,#ff8c00 177px,#ff7f00 191px,#ff7700 211px,#ff7f00 231px,#ff8c00 245px,#ff9500 251px,#ffb200 264px,#feff00 286px,#ccff00 295px,#00ff00 335px,#008d72 361px,#0052ad 381px,#0043bc 388px,#0039c6 395px,#002bd4 420px)"></i><i style="top:160px;height:2.5px;background:linear-gradient(90deg,#002bd4 0px,#003ac5 27px,#0051ae 40px,#008f70 61px,#00ff00 87px,#cdff00 128px,#ffff00 137px,#ffb500 158px,#ff9900 171px,#ff8200 192px,#ff7a00 211px,#ff8200 230px,#ff9900 251px,#ffb500 264px,#ffff00 285px,#cdff00 294px,#00ff00 335px,#008f70 361px,#0051ae 382px,#003ac5 395px,#002bd4 420px)"></i><i style="top:162px;height:2.5px;background:linear-gradient(90deg,#002bd4 0px,#003bc4 27px,#0050af 39px,#007c83 55px,#00936c 62px,#00ff00 87px,#c9ff00 128px,#ffff00 138px,#ffbc00 157px,#ff9e00 170px,#ff9400 177px,#ff8600 192px,#ff7e00 211px,#ff8600 230px,#ff9400 245px,#ff9e00 252px,#ffbc00 265px,#ffff00 284px,#c9ff00 294px,#00ff00 335px,#00936c 360px,#0052ad 382px,#0043bc 389px,#003bc4 395px,#002cd3 420px)"></i><i style="top:164px;height:2.5px;background:linear-gradient(90deg,#002cd3 0px,#003cc3 27px,#0052ad 39px,#00817e 56px,#009867 63px,#00fe01 87px,#caff00 129px,#ffff00 139px,#ffbd00 158px,#ffa100 171px,#ff8a00 193px,#ff8200 211px,#ff8a00 229px,#ffa100 251px,#ffbd00 264px,#ffff00 283px,#caff00 293px,#7aff00 310px,#04ff00 334px,#00fe01 335px,#00af50 353px,#00946b 360px,#0052ad 383px,#003cc3 395px,#002cd3 420px)"></i><i style="top:166px;height:2.5px;background:linear-gradient(90deg,#002cd3 0px,#003ec1 27px,#0054ab 39px,#00827d 56px,#009c63 64px,#00fd02 87px,#02ff00 88px,#72ff00 111px,#c5ff00 129px,#fffe00 140px,#ffc200 158px,#ffa400 172px,#ff8d00 194px,#ff8600 211px,#ff8d00 228px,#ffa400 250px,#ffc200 264px,#fffe00 282px,#caff00 292px,#72ff00 311px,#02ff00 334px,#009867 359px,#0054ab 383px,#003ec1 395px,#002dd2 420px)"></i><i style="top:168px;height:2.5px;background:linear-gradient(90deg,#002dd2 0px,#0032cd 11px,#0040bf 26px,#0057a8 39px,#00837c 56px,#009c63 64px,#00ff00 88px,#6fff00 111px,#caff00 131px,#ffff00 141px,#ffc500 159px,#ffa600 173px,#ff9100 194px,#ff8900 211px,#ff9100 228px,#ffa600 249px,#ffc500 263px,#ffff00 281px,#caff00 291px,#6fff00 311px,#00ff00 334px,#009f60 357px,#00837c 366px,#0059a6 382px,#0041be 395px,#002dd2 420px)"></i><i style="top:170px;height:2.5px;background:linear-gradient(90deg,#002dd2 0px,#0033cc 11px,#0042bd 26px,#005ca3 40px,#00847b 56px,#009f60 65px,#00fd02 88px,#cbff00 132px,#ffff00 142px,#ffc800 160px,#ffa900 174px,#ff9400 195px,#ff8d00 211px,#ff9400 227px,#ffa900 248px,#ffc800 262px,#ffff00 280px,#cfff00 289px,#03ff00 333px,#00fd02 334px,#00ba45 350px,#009c63 358px,#005fa0 381px,#0043bc 395px,#002ed1 420px)"></i><i style="top:172px;height:2.5px;background:linear-gradient(90deg,#002ed1 0px,#0034cb 11px,#0044bb 26px,#00619e 41px,#008877 57px,#00a05f 65px,#01ff00 89px,#cfff00 134px,#feff00 143px,#fffd00 144px,#ffcb00 161px,#ffac00 175px,#ff9800 195px,#ff9100 211px,#ff9800 227px,#ffac00 247px,#ffc900 260px,#feff00 279px,#cfff00 288px,#01ff00 333px,#00a35c 356px,#007788 372px,#0047b8 394px,#0036c9 409px,#002ed1 420px)"></i><i style="top:174px;height:2.5px;background:linear-gradient(90deg,#002ed1 0px,#0035ca 11px,#0048b7 27px,#007f80 53px,#00aa55 68px,#00fe01 89px,#caff00 134px,#fffe00 145px,#ffc400 166px,#ffaf00 176px,#ff9b00 196px,#ff9500 211px,#ff9b00 226px,#ffaf00 246px,#ffc400 256px,#fffe00 277px,#03ff00 332px,#00fe01 333px,#00aa55 354px,#00847b 367px,#004ab5 394px,#0037c8 409px,#002fd0 420px)"></i><i style="top:176px;height:2.5px;background:linear-gradient(90deg,#002ed1 0px,#0036c9 11px,#004ab5 27px,#00857a 55px,#00ad52 69px,#01ff00 90px,#d3ff00 137px,#ffff00 146px,#ffc700 167px,#ffb400 176px,#ff9f00 196px,#ff9900 211px,#ff9f00 226px,#ffb400 246px,#ffc700 255px,#ffff00 276px,#d3ff00 285px,#01ff00 332px,#00b14e 352px,#008778 366px,#004ab5 395px,#0037c8 410px,#002fd0 420px)"></i><i style="top:178px;height:2.5px;background:linear-gradient(90deg,#002fd0 0px,#0037c8 11px,#004bb4 26px,#008976 56px,#00b04f 70px,#00fe01 90px,#fffe00 148px,#ffc700 169px,#ffb600 177px,#ffa300 196px,#ff9d00 211px,#ffa300 226px,#ffb600 245px,#ffc700 253px,#fffe00 274px,#03ff00 331px,#00fe01 332px,#00ad52 353px,#008b74 365px,#004cb3 395px,#0038c7 410px,#002fd0 420px)"></i><i style="top:180px;height:2.5px;background:linear-gradient(90deg,#002fd0 0px,#0037c8 10px,#004bb4 25px,#008c73 57px,#00b04f 70px,#01ff00 91px,#8bff00 122px,#feff00 149px,#fffd00 150px,#ffc900 170px,#ffb900 178px,#ffa700 197px,#ffa100 211px,#ffa700 225px,#ffb900 244px,#ffc900 252px,#feff00 273px,#87ff00 301px,#01ff00 331px,#00b04f 352px,#008e71 364px,#004cb3 396px,#0039c6 410px,#0030cf 420px)"></i><i style="top:182px;height:2.5px;background:linear-gradient(90deg,#002fd0 0px,#0037c8 10px,#004cb3 25px,#00906f 58px,#00b04f 70px,#00ff00 91px,#88ff00 122px,#ffff00 151px,#ffcc00 171px,#ffbc00 179px,#ffab00 197px,#ffa500 211px,#ffab00 225px,#ffbc00 243px,#ffcc00 251px,#ffff00 271px,#88ff00 300px,#00ff00 331px,#00b04f 352px,#00926d 363px,#004eb1 396px,#003ac5 410px,#0030cf 420px)"></i><i style="top:184px;height:2.5px;background:linear-gradient(90deg,#002fd0 0px,#0038c7 10px,#004db2 25px,#00916e 58px,#00ae51 69px,#00fe01 91px,#8dff00 124px,#fffe00 153px,#ffd100 171px,#ffc100 179px,#ffaf00 197px,#ffa900 211px,#ffaf00 225px,#ffc100 243px,#ffd100 251px,#fffe00 269px,#8dff00 298px,#03ff00 330px,#00fe01 331px,#00ae51 353px,#00936c 363px,#004fb0 396px,#003ac5 410px,#0030cf 420px)"></i><i style="top:186px;height:2.5px;background:linear-gradient(90deg,#002fd0 0px,#003ac5 11px,#004fb0 25px,#00926d 58px,#00af50 69px,#00fd02 91px,#89ff00 124px,#ffff00 154px,#ffc400 180px,#ffb300 197px,#ffad00 211px,#ffb300 225px,#ffc400 242px,#ffff00 268px,#85ff00 299px,#02ff00 330px,#00af50 353px,#00956a 363px,#0050af 396px,#003bc4 410px,#0030cf 420px)"></i><i style="top:188px;height:2.5px;background:linear-gradient(90deg,#002fd0 0px,#003ac5 11px,#0050af 25px,#00926d 57px,#00b04f 69px,#00ff00 92px,#86ff00 124px,#fffe00 156px,#ffc700 181px,#ffb700 197px,#ffb100 211px,#ffb700 225px,#ffc700 241px,#fffe00 266px,#86ff00 298px,#00ff00 330px,#00b04f 353px,#00946b 364px,#0050af 397px,#0030cf 420px)"></i><i style="top:190px;height:2.5px;background:linear-gradient(90deg,#002ed1 0px,#003bc4 11px,#004fb0 24px,#008d72 54px,#00af50 68px,#00fe01 92px,#86ff00 125px,#fffe00 158px,#ffc800 183px,#ffb900 199px,#ffb500 211px,#ffb900 223px,#ffc800 239px,#fffe00 264px,#86ff00 297px,#00fe01 330px,#00af50 354px,#00916e 366px,#0051ae 397px,#0030cf 420px)"></i><i style="top:192px;height:2.5px;background:linear-gradient(90deg,#002ed1 0px,#004eb1 23px,#008a75 52px,#00ae51 67px,#00fd02 92px,#9dff00 132px,#fffe00 160px,#ffcb00 184px,#ffbd00 199px,#ffb900 211px,#ffbd00 223px,#ffcb00 238px,#feff00 263px,#83ff00 297px,#02ff00 329px,#00ae51 355px,#008c73 369px,#0050af 398px,#0030cf 420px)"></i><i style="top:194px;height:2.5px;background:linear-gradient(90deg,#002ed1 0px,#004db2 22px,#008679 50px,#00b04f 67px,#01ff00 93px,#9aff00 132px,#fffe00 162px,#ffcf00 184px,#ffc200 199px,#ffbd00 211px,#ffc200 223px,#ffcf00 238px,#feff00 261px,#80ff00 297px,#01ff00 329px,#00b04f 355px,#008877 371px,#0051ae 398px,#0030cf 420px)"></i><i style="top:196px;height:2.5px;background:linear-gradient(90deg,#002ed1 0px,#004eb1 22px,#00857a 49px,#00b14e 67px,#00ff00 93px,#97ff00 132px,#fffe00 164px,#ffd200 185px,#ffc500 200px,#ffc100 211px,#ffc500 222px,#ffd200 237px,#feff00 259px,#94ff00 291px,#00ff00 329px,#00b14e 355px,#008778 372px,#0050af 399px,#0030cf 420px)"></i><i style="top:198px;height:2.5px;background:linear-gradient(90deg,#002ed1 0px,#004db2 21px,#00837c 48px,#00b24d 67px,#00ff00 93px,#95ff00 132px,#fffe00 166px,#ffd600 185px,#ffc900 200px,#ffc500 211px,#ffc900 222px,#ffd600 237px,#feff00 257px,#92ff00 291px,#00ff00 329px,#00b24d 355px,#00857a 373px,#004fb0 400px,#0030cf 420px)"></i><i style="top:200px;height:2.5px;background:linear-gradient(90deg,#002ed1 0px,#004db2 21px,#00837c 48px,#00b34c 67px,#00fe01 93px,#90ff00 131px,#fffe00 168px,#ffda00 185px,#ffcd00 200px,#ffca00 211px,#ffcd00 222px,#ffda00 237px,#feff00 255px,#90ff00 291px,#00fe01 329px,#00b34c 355px,#00837c 374px,#004fb0 400px,#0030cf 420px)"></i><i style="top:202px;height:2.5px;background:linear-gradient(90deg,#002ed1 0px,#004db2 21px,#00837c 48px,#00b34c 67px,#00fe01 93px,#89ff00 129px,#ffff00 169px,#ffde00 185px,#ffd200 200px,#ffce00 211px,#ffd200 222px,#ffde00 237px,#ffff00 253px,#89ff00 293px,#00fe01 329px,#00b34c 355px,#00837c 374px,#004fb0 400px,#0030cf 420px)"></i><i style="top:204px;height:2.5px;background:linear-gradient(90deg,#002ed1 0px,#004db2 21px,#00837c 48px,#00b34c 67px,#00ff00 93px,#89ff00 129px,#fffe00 171px,#ffe300 185px,#ffd700 200px,#ffd300 211px,#ffd700 222px,#ffe300 237px,#feff00 252px,#e1ff00 261px,#89ff00 293px,#00ff00 329px,#00b649 354px,#008679 373px,#004fb0 400px,#0030cf 420px)"></i><i style="top:206px;height:2.5px;background:linear-gradient(90deg,#002ed1 0px,#004db2 21px,#00837c 48px,#00b649 68px,#00ff00 93px,#54ff00 114px,#89ff00 129px,#e0ff00 162px,#fffe00 172px,#ffe600 186px,#ffdc00 200px,#ffd900 211px,#ffdc00 222px,#ffe600 236px,#fffe00 250px,#e0ff00 260px,#89ff00 293px,#54ff00 308px,#00ff00 329px,#00b946 353px,#008679 373px,#004fb0 400px,#0030cf 420px)"></i><i style="top:208px;height:2.5px;background:linear-gradient(90deg,#002ed1 0px,#004db2 21px,#00837c 48px,#00b649 68px,#00ff00 93px,#47ff00 110px,#89ff00 129px,#e0ff00 163px,#fffe00 174px,#ffeb00 186px,#ffde00 211px,#ffeb00 236px,#feff00 249px,#e2ff00 258px,#a5ff00 283px,#86ff00 294px,#47ff00 312px,#00ff00 329px,#00b847 353px,#008679 373px,#004fb0 400px,#0030cf 420px)"></i><i style="top:210px;height:2.5px;background:linear-gradient(90deg,#002ed1 0px,#004db2 21px,#00837c 48px,#00b847 69px,#01ff00 93px,#45ff00 109px,#83ff00 127px,#a4ff00 139px,#e4ff00 166px,#ffff00 175px,#fff000 186px,#ffe400 211px,#fff000 236px,#ffff00 247px,#e4ff00 256px,#a4ff00 283px,#83ff00 295px,#45ff00 313px,#01ff00 329px,#00b847 353px,#008679 373px,#004fb0 400px,#0030cf 420px)"></i><i style="top:212px;height:2.5px;background:linear-gradient(90deg,#002ed1 0px,#004db2 21px,#008679 49px,#00be41 71px,#00fd02 92px,#48ff00 109px,#7eff00 125px,#a4ff00 139px,#e5ff00 168px,#ffff00 177px,#fff300 189px,#ffe900 211px,#fff300 233px,#ffff00 245px,#e5ff00 254px,#a4ff00 283px,#7eff00 297px,#48ff00 313px,#02ff00 329px,#00bb44 352px,#008679 373px,#004fb0 400px,#0030cf 420px)"></i><i style="top:214px;height:2.5px;background:linear-gradient(90deg,#002ed1 0px,#004db2 21px,#008679 49px,#00bd42 71px,#00fd02 92px,#4bff00 109px,#7bff00 124px,#a3ff00 139px,#dfff00 167px,#ffff00 180px,#fff300 196px,#ffef00 211px,#fff300 226px,#fdff00 243px,#e1ff00 254px,#a0ff00 284px,#78ff00 299px,#47ff00 314px,#03ff00 329px,#00fd02 330px,#00bb44 352px,#008877 372px,#0051ae 399px,#0030cf 420px)"></i><i style="top:216px;height:2.5px;background:linear-gradient(90deg,#002ed1 0px,#004db2 21px,#008679 49px,#00c03f 72px,#00fe01 92px,#4aff00 108px,#79ff00 123px,#a7ff00 141px,#ffff00 184px,#fff400 211px,#feff00 239px,#a4ff00 282px,#79ff00 299px,#4aff00 314px,#03ff00 329px,#00fe01 330px,#00bd42 351px,#008877 372px,#0051ae 399px,#0030cf 420px)"></i><i style="top:218px;height:2.5px;background:linear-gradient(90deg,#002ed1 0px,#004db2 21px,#008877 50px,#00c23d 73px,#00fe01 92px,#50ff00 109px,#7fff00 125px,#b6ff00 149px,#f2ff00 180px,#ffff00 190px,#fff800 211px,#ffff00 232px,#f0ff00 243px,#a6ff00 281px,#75ff00 301px,#4cff00 314px,#00fe01 330px,#00c23d 349px,#008a75 371px,#0051ae 399px,#0030cf 420px)"></i><i style="top:220px;height:2.5px;background:linear-gradient(90deg,#002ed1 0px,#004db2 21px,#008877 50px,#00c23d 73px,#00ec13 87px,#00fe01 92px,#3cff00 104px,#51ff00 109px,#70ff00 119px,#8eff00 131px,#aeff00 146px,#e7ff00 177px,#f4ff00 186px,#ffff00 198px,#fffc00 211px,#ffff00 224px,#f7ff00 234px,#e6ff00 246px,#b0ff00 275px,#84ff00 295px,#58ff00 311px,#41ff00 317px,#00fe01 330px,#00c53a 348px,#008a75 371px,#0051ae 399px,#0030cf 420px)"></i><i style="top:222px;height:2.5px;background:linear-gradient(90deg,#002ed1 0px,#004fb0 22px,#008a75 51px,#00c53a 74px,#00ff00 92px,#3cff00 104px,#55ff00 110px,#78ff00 122px,#97ff00 135px,#b9ff00 153px,#e9ff00 181px,#f6ff00 194px,#ffff00 211px,#f6ff00 228px,#e9ff00 241px,#b9ff00 269px,#97ff00 287px,#78ff00 300px,#55ff00 312px,#3cff00 318px,#00ff00 330px,#00c53a 348px,#008c73 370px,#0051ae 399px,#0030cf 420px)"></i><i style="top:224px;height:2.5px;background:linear-gradient(90deg,#002ed1 0px,#004fb0 22px,#008c73 52px,#00c43b 74px,#00fe01 92px,#3cff00 104px,#52ff00 109px,#72ff00 120px,#8fff00 132px,#b7ff00 153px,#e5ff00 181px,#f1ff00 193px,#faff00 211px,#f1ff00 229px,#e5ff00 241px,#b7ff00 269px,#8fff00 290px,#72ff00 302px,#52ff00 313px,#3cff00 318px,#00fe01 330px,#00c738 347px,#008f70 369px,#0053ac 398px,#0030cf 420px)"></i><i style="top:226px;height:2.5px;background:linear-gradient(90deg,#002ed1 0px,#004fb0 22px,#008c73 52px,#00c13e 73px,#00fe01 92px,#04ff00 93px,#37ff00 103px,#51ff00 109px,#6cff00 118px,#88ff00 129px,#b3ff00 152px,#e1ff00 181px,#edff00 192px,#f5ff00 211px,#edff00 230px,#e1ff00 241px,#b3ff00 270px,#88ff00 293px,#6cff00 304px,#51ff00 313px,#37ff00 319px,#04ff00 329px,#00fe01 330px,#00c13e 349px,#008e71 369px,#0053ac 398px,#0031ce 420px)"></i><i style="top:228px;height:2.5px;background:linear-gradient(90deg,#002fd0 0px,#003bc4 10px,#0051ae 23px,#008e71 53px,#00c33c 74px,#00fd02 92px,#03ff00 93px,#35ff00 103px,#4fff00 109px,#86ff00 129px,#b3ff00 153px,#e0ff00 182px,#eaff00 193px,#f1ff00 211px,#eaff00 229px,#e0ff00 240px,#b3ff00 269px,#86ff00 293px,#4fff00 313px,#35ff00 319px,#03ff00 329px,#00fd02 330px,#00c639 347px,#00936c 367px,#0057a8 396px,#0031ce 420px)"></i><i style="top:230px;height:2.5px;background:linear-gradient(90deg,#002fd0 0px,#003bc4 10px,#0056a9 25px,#00926d 55px,#00c53a 75px,#02ff00 93px,#39ff00 104px,#51ff00 110px,#73ff00 122px,#8eff00 134px,#b8ff00 157px,#deff00 183px,#e7ff00 193px,#edff00 211px,#e7ff00 229px,#deff00 239px,#b8ff00 265px,#8eff00 288px,#73ff00 300px,#51ff00 312px,#39ff00 318px,#02ff00 329px,#00c837 346px,#00946b 366px,#0059a6 395px,#0031ce 420px)"></i><i style="top:232px;height:2.5px;background:linear-gradient(90deg,#0030cf 0px,#0044bb 15px,#009669 57px,#00c936 77px,#01ff00 93px,#37ff00 104px,#4eff00 110px,#75ff00 124px,#95ff00 139px,#beff00 162px,#deff00 185px,#e5ff00 193px,#eaff00 211px,#e5ff00 229px,#deff00 237px,#beff00 260px,#95ff00 283px,#75ff00 298px,#4eff00 312px,#37ff00 318px,#01ff00 329px,#00cc33 344px,#009867 364px,#005da2 393px,#003dc2 411px,#0031ce 420px)"></i><i style="top:234px;height:2.5px;background:linear-gradient(90deg,#0030cf 0px,#0041be 13px,#009867 58px,#00cb34 78px,#00fe01 93px,#35ff00 104px,#4fff00 111px,#79ff00 127px,#9aff00 143px,#c0ff00 165px,#ddff00 186px,#e3ff00 193px,#e6ff00 211px,#e3ff00 229px,#ddff00 236px,#c0ff00 257px,#9aff00 279px,#79ff00 295px,#4fff00 311px,#35ff00 318px,#00fe01 329px,#00cb34 344px,#009a65 363px,#00609f 392px,#003dc2 411px,#0032cd 420px)"></i><i style="top:236px;height:2.5px;background:linear-gradient(90deg,#0031ce 0px,#003fc0 12px,#009768 58px,#00c738 77px,#03ff00 94px,#37ff00 105px,#4fff00 112px,#7bff00 129px,#9eff00 146px,#beff00 165px,#dbff00 186px,#e0ff00 193px,#e3ff00 211px,#e0ff00 229px,#dbff00 236px,#beff00 257px,#9eff00 276px,#7bff00 293px,#4fff00 310px,#37ff00 317px,#03ff00 328px,#00ca35 344px,#009c63 362px,#00649b 390px,#003cc3 412px,#0032cd 420px)"></i><i style="top:238px;height:2.5px;background:linear-gradient(90deg,#0031ce 0px,#003ec1 11px,#009966 59px,#00c936 78px,#01ff00 94px,#34ff00 105px,#4dff00 112px,#77ff00 129px,#9dff00 147px,#bdff00 166px,#daff00 187px,#deff00 193px,#e0ff00 211px,#deff00 229px,#daff00 235px,#bdff00 256px,#9dff00 275px,#77ff00 293px,#4dff00 310px,#34ff00 317px,#01ff00 328px,#00cc33 343px,#009b64 362px,#0040bf 410px,#0032cd 420px)"></i><i style="top:240px;height:2.5px;background:linear-gradient(90deg,#0032cd 0px,#003dc2 10px,#009b64 60px,#00cb34 79px,#00ff00 94px,#32ff00 105px,#4aff00 112px,#74ff00 129px,#9dff00 148px,#b9ff00 165px,#d7ff00 187px,#dbff00 193px,#dcff00 211px,#dbff00 229px,#d7ff00 235px,#b9ff00 257px,#9dff00 274px,#74ff00 293px,#4aff00 310px,#32ff00 317px,#00ff00 328px,#00cb34 343px,#009d62 361px,#003ec1 411px,#0033cc 420px)"></i><i style="top:242px;height:2.5px;background:linear-gradient(90deg,#0033cc 0px,#003dc2 10px,#009a65 60px,#00c837 78px,#00fd02 94px,#03ff00 95px,#30ff00 105px,#4aff00 113px,#7cff00 134px,#9eff00 150px,#b8ff00 166px,#d4ff00 187px,#d8ff00 193px,#d9ff00 211px,#d8ff00 229px,#d4ff00 235px,#b8ff00 256px,#9eff00 272px,#7cff00 288px,#4aff00 309px,#30ff00 317px,#03ff00 327px,#00fd02 328px,#00c837 344px,#009c63 361px,#003dc2 412px,#0033cc 420px)"></i><i style="top:244px;height:2.5px;background:linear-gradient(90deg,#0034cb 0px,#003bc4 9px,#009a65 60px,#00c837 78px,#02ff00 95px,#2eff00 105px,#47ff00 113px,#7cff00 135px,#9bff00 150px,#b3ff00 165px,#d1ff00 187px,#d4ff00 193px,#d5ff00 211px,#d4ff00 229px,#d1ff00 235px,#b3ff00 257px,#9bff00 272px,#7cff00 287px,#47ff00 309px,#2eff00 317px,#02ff00 327px,#00ca35 343px,#009c63 361px,#003dc2 412px,#0034cb 420px)"></i><i style="top:246px;height:2.5px;background:linear-gradient(90deg,#0034cb 0px,#003cc3 9px,#009a65 60px,#00c738 78px,#00e619 88px,#00ff00 95px,#28ff00 104px,#3fff00 111px,#88ff00 142px,#b1ff00 166px,#ccff00 186px,#d0ff00 194px,#cfff00 232px,#a7ff00 263px,#88ff00 280px,#4aff00 307px,#2cff00 317px,#00ff00 327px,#00ca35 343px,#009c63 361px,#003cc3 413px,#0034cb 420px)"></i><i style="top:248px;height:2.5px;background:linear-gradient(90deg,#0035ca 0px,#003cc3 9px,#009867 59px,#00c53a 77px,#00e51a 88px,#00fe01 95px,#26ff00 104px,#3dff00 111px,#85ff00 142px,#adff00 166px,#c7ff00 186px,#cbff00 194px,#caff00 232px,#a3ff00 263px,#85ff00 280px,#48ff00 307px,#2eff00 316px,#00fe01 327px,#00d02f 341px,#009d62 361px,#003ec1 412px,#0035ca 420px)"></i><i style="top:250px;height:2.5px;background:linear-gradient(90deg,#0037c8 0px,#003dc2 9px,#009966 59px,#00c53a 77px,#02ff00 96px,#28ff00 105px,#40ff00 113px,#73ff00 135px,#90ff00 150px,#a7ff00 165px,#c3ff00 188px,#c6ff00 211px,#c3ff00 234px,#a7ff00 257px,#90ff00 272px,#73ff00 287px,#40ff00 309px,#28ff00 317px,#02ff00 326px,#00c53a 345px,#009b64 362px,#003fc0 412px,#0037c8 420px)"></i><i style="top:252px;height:2.5px;background:linear-gradient(90deg,#0038c7 0px,#0039c6 5px,#0040bf 10px,#009a65 59px,#00c837 78px,#01ff00 96px,#26ff00 105px,#3eff00 113px,#6dff00 134px,#8aff00 149px,#a1ff00 165px,#bcff00 188px,#c0ff00 211px,#bcff00 234px,#a1ff00 257px,#8aff00 273px,#6dff00 288px,#3eff00 309px,#26ff00 317px,#01ff00 326px,#00d02f 341px,#009c63 362px,#0042bd 411px,#0038c7 420px)"></i><i style="top:254px;height:2.5px;background:linear-gradient(90deg,#003ac5 0px,#003bc4 5px,#0042bd 11px,#009b64 59px,#00d02f 81px,#00ff00 96px,#24ff00 105px,#3bff00 113px,#66ff00 132px,#84ff00 148px,#b5ff00 187px,#baff00 211px,#b5ff00 235px,#84ff00 274px,#66ff00 290px,#3bff00 309px,#24ff00 317px,#00ff00 326px,#00d52a 339px,#009f60 361px,#0044bb 410px,#003ac5 420px)"></i><i style="top:256px;height:2.5px;background:linear-gradient(90deg,#003cc3 0px,#003dc2 6px,#0045ba 12px,#009a65 58px,#00cb34 79px,#00e31c 88px,#00fe01 96px,#03ff00 97px,#22ff00 105px,#3bff00 114px,#63ff00 132px,#7eff00 147px,#aeff00 187px,#b4ff00 211px,#aeff00 235px,#7eff00 275px,#63ff00 290px,#3bff00 308px,#22ff00 317px,#03ff00 325px,#00fe01 326px,#00e619 333px,#00cd32 342px,#009e61 362px,#0047b8 409px,#003bc4 420px)"></i><i style="top:258px;height:2.5px;background:linear-gradient(90deg,#003dc2 0px,#003fc0 6px,#0048b7 13px,#009b64 58px,#00cd32 80px,#02ff00 97px,#20ff00 105px,#39ff00 114px,#5dff00 131px,#78ff00 146px,#a7ff00 187px,#afff00 211px,#a7ff00 235px,#78ff00 276px,#5dff00 291px,#39ff00 308px,#20ff00 317px,#02ff00 325px,#00cd32 342px,#00a05f 362px,#004bb4 407px,#0041be 414px,#003dc2 420px)"></i><i style="top:260px;height:2.5px;background:linear-gradient(90deg,#003fc0 0px,#0041be 7px,#004bb4 15px,#009d62 58px,#00cd32 80px,#00e51a 89px,#00ff00 97px,#1fff00 105px,#36ff00 114px,#58ff00 130px,#72ff00 145px,#9fff00 186px,#a9ff00 211px,#9fff00 236px,#72ff00 277px,#58ff00 292px,#36ff00 308px,#1fff00 317px,#00ff00 325px,#00d22d 340px,#00a35c 361px,#004db2 406px,#0042bd 414px,#003fc0 420px)"></i><i style="top:262px;height:2.5px;background:linear-gradient(90deg,#0040bf 0px,#0042bd 7px,#004eb1 16px,#009d62 58px,#00cd32 80px,#00e41b 89px,#00fe01 97px,#20ff00 106px,#36ff00 115px,#56ff00 130px,#6dff00 144px,#98ff00 185px,#a4ff00 211px,#98ff00 237px,#6dff00 278px,#56ff00 292px,#36ff00 307px,#20ff00 316px,#03ff00 324px,#00fe01 325px,#00e41b 333px,#00cd32 342px,#00a15e 362px,#004fb0 405px,#0044bb 413px,#0040bf 420px)"></i><i style="top:264px;height:2.5px;background:linear-gradient(90deg,#0041be 0px,#0047b8 11px,#005ea1 25px,#00bd42 73px,#00e11e 88px,#02ff00 98px,#1eff00 106px,#34ff00 115px,#51ff00 129px,#68ff00 143px,#92ff00 183px,#9fff00 211px,#92ff00 239px,#68ff00 279px,#51ff00 293px,#34ff00 307px,#1eff00 316px,#02ff00 324px,#00d02f 341px,#00a05f 363px,#0051ae 404px,#0045ba 413px,#0041be 420px)"></i><i style="top:266px;height:2.5px;background:linear-gradient(90deg,#0042bd 0px,#0048b7 11px,#005ca3 24px,#00bd42 73px,#00e11e 88px,#00ff00 98px,#1cff00 106px,#34ff00 116px,#50ff00 130px,#65ff00 143px,#8dff00 182px,#9bff00 211px,#8dff00 240px,#65ff00 279px,#50ff00 292px,#34ff00 306px,#1cff00 316px,#00ff00 324px,#00d926 337px,#00a05f 363px,#0052ad 404px,#0047b8 412px,#0042bd 420px)"></i><i style="top:268px;height:2.5px;background:linear-gradient(90deg,#0043bc 0px,#0049b6 11px,#005ba4 23px,#00b946 71px,#00dd22 87px,#03ff00 99px,#1dff00 107px,#36ff00 118px,#50ff00 131px,#62ff00 143px,#89ff00 181px,#98ff00 211px,#89ff00 241px,#62ff00 279px,#50ff00 291px,#36ff00 304px,#1dff00 315px,#03ff00 323px,#00d629 338px,#009c63 365px,#0052ad 404px,#0048b7 412px,#0043bc 420px)"></i><i style="top:270px;height:2.5px;background:linear-gradient(90deg,#0043bc 0px,#0049b6 11px,#005ba4 23px,#00b946 71px,#00df20 88px,#01ff00 99px,#1bff00 107px,#34ff00 118px,#4cff00 130px,#60ff00 143px,#85ff00 180px,#90ff00 197px,#94ff00 211px,#90ff00 225px,#85ff00 242px,#60ff00 279px,#4cff00 292px,#34ff00 304px,#1bff00 315px,#01ff00 323px,#00da25 336px,#009c63 365px,#0053ac 404px,#0047b8 413px,#0043bc 420px)"></i><i style="top:272px;height:2.5px;background:linear-gradient(90deg,#0044bb 0px,#004ab5 11px,#005ca3 23px,#00b748 70px,#00de21 88px,#00fe01 99px,#03ff00 100px,#19ff00 107px,#38ff00 121px,#5eff00 144px,#81ff00 179px,#8cff00 197px,#91ff00 211px,#8cff00 226px,#80ff00 244px,#5dff00 279px,#4bff00 291px,#34ff00 303px,#19ff00 315px,#00fe01 323px,#00dc23 335px,#009c63 365px,#0055aa 403px,#0049b6 412px,#0044bb 420px)"></i><i style="top:274px;height:2.5px;background:linear-gradient(90deg,#0044bb 0px,#0049b6 10px,#005ca3 23px,#00b847 71px,#00de21 88px,#01ff00 100px,#16ff00 107px,#36ff00 121px,#5cff00 144px,#7eff00 178px,#89ff00 197px,#8dff00 211px,#89ff00 225px,#7eff00 244px,#5cff00 278px,#36ff00 301px,#16ff00 315px,#01ff00 322px,#00db24 335px,#009867 367px,#0055aa 403px,#0049b6 412px,#0044bb 420px)"></i><i style="top:276px;height:2.5px;background:linear-gradient(90deg,#0044bb 0px,#004ab5 10px,#005da2 23px,#00b649 70px,#00dd22 88px,#03ff00 101px,#17ff00 108px,#38ff00 123px,#5aff00 145px,#7aff00 177px,#86ff00 196px,#8aff00 211px,#86ff00 226px,#79ff00 246px,#59ff00 278px,#36ff00 300px,#14ff00 315px,#00fe01 322px,#00da25 335px,#009867 367px,#0056a9 403px,#004ab5 412px,#0045ba 420px)"></i><i style="top:278px;height:2.5px;background:linear-gradient(90deg,#0045ba 0px,#004bb4 11px,#005fa0 24px,#00ba45 72px,#00dc23 88px,#01ff00 101px,#15ff00 108px,#35ff00 123px,#58ff00 145px,#76ff00 175px,#83ff00 196px,#87ff00 211px,#83ff00 226px,#76ff00 247px,#58ff00 277px,#35ff00 299px,#15ff00 314px,#01ff00 321px,#00da25 335px,#009669 368px,#0056a9 403px,#004ab5 412px,#0045ba 420px)"></i><i style="top:280px;height:2.5px;background:linear-gradient(90deg,#0045ba 0px,#004cb3 11px,#005fa0 24px,#00b847 71px,#00db24 88px,#02ff00 102px,#12ff00 108px,#37ff00 125px,#57ff00 146px,#73ff00 174px,#80ff00 196px,#84ff00 211px,#80ff00 226px,#73ff00 248px,#57ff00 276px,#37ff00 297px,#12ff00 314px,#02ff00 320px,#00d926 335px,#00936c 370px,#0055aa 404px,#0045ba 420px)"></i><i style="top:282px;height:2.5px;background:linear-gradient(90deg,#0045ba 0px,#004cb3 11px,#00629d 25px,#00b946 72px,#00da25 88px,#00ff00 102px,#03ff00 103px,#37ff00 126px,#56ff00 147px,#70ff00 173px,#7cff00 195px,#81ff00 211px,#7cff00 227px,#70ff00 249px,#54ff00 276px,#35ff00 297px,#00ff00 320px,#00d827 335px,#00936c 370px,#0056a9 404px,#0046b9 420px)"></i><i style="top:284px;height:2.5px;background:linear-gradient(90deg,#0046b9 0px,#004ab5 8px,#0055aa 17px,#008b74 48px,#00d728 87px,#01ff00 103px,#35ff00 126px,#54ff00 148px,#6eff00 173px,#7aff00 195px,#7eff00 211px,#7aff00 227px,#6eff00 249px,#54ff00 274px,#35ff00 296px,#01ff00 319px,#00d728 335px,#00916e 371px,#0056a9 404px,#0046b9 420px)"></i><i style="top:286px;height:2.5px;background:linear-gradient(90deg,#0046b9 0px,#0049b6 7px,#0054ab 16px,#008b74 48px,#00d629 87px,#02ff00 104px,#38ff00 129px,#60ff00 160px,#71ff00 181px,#7bff00 211px,#71ff00 241px,#60ff00 262px,#38ff00 293px,#02ff00 318px,#00d629 335px,#008d72 373px,#0057a8 404px,#0046b9 420px)"></i><i style="top:288px;height:2.5px;background:linear-gradient(90deg,#0046b9 0px,#004eb1 11px,#006897 28px,#00d12e 85px,#02ff00 105px,#38ff00 130px,#60ff00 162px,#6fff00 183px,#78ff00 211px,#6eff00 241px,#5fff00 261px,#36ff00 293px,#00ff00 318px,#00d52a 335px,#008d72 373px,#0057a8 404px,#0046b9 420px)"></i><i style="top:290px;height:2.5px;background:linear-gradient(90deg,#0046b9 0px,#004ab5 7px,#0054ab 15px,#008976 47px,#00d42b 87px,#00ff00 105px,#36ff00 130px,#5eff00 162px,#6dff00 182px,#76ff00 211px,#6dff00 240px,#5eff00 260px,#36ff00 292px,#00ff00 317px,#00d42b 335px,#008b74 374px,#0057a8 405px,#0047b8 420px)"></i><i style="top:292px;height:2.5px;background:linear-gradient(90deg,#0047b8 0px,#0053ac 14px,#008877 46px,#00d42b 87px,#01ff00 106px,#34ff00 130px,#5eff00 163px,#6bff00 183px,#73ff00 211px,#6bff00 239px,#5eff00 259px,#34ff00 292px,#01ff00 316px,#00d42b 335px,#008b74 374px,#0056a9 406px,#0047b8 420px)"></i><i style="top:294px;height:2.5px;background:linear-gradient(90deg,#0047b8 0px,#004fb0 11px,#00738c 34px,#00d12e 86px,#02ff00 107px,#32ff00 130px,#5dff00 164px,#6aff00 185px,#71ff00 211px,#6aff00 237px,#5dff00 258px,#32ff00 292px,#02ff00 315px,#00d32c 335px,#008976 375px,#0055aa 407px,#0047b8 420px)"></i><i style="top:296px;height:2.5px;background:linear-gradient(90deg,#0047b8 0px,#0050af 11px,#00738c 34px,#00d02f 86px,#02ff00 108px,#30ff00 130px,#5bff00 164px,#68ff00 184px,#6fff00 211px,#68ff00 238px,#5bff00 258px,#30ff00 292px,#00ff00 315px,#00d22d 335px,#008976 375px,#0054ab 408px,#0048b7 420px)"></i><i style="top:298px;height:2.5px;background:linear-gradient(90deg,#0047b8 0px,#0051ae 12px,#008679 45px,#00d22d 87px,#01ff00 108px,#2eff00 130px,#5aff00 164px,#66ff00 184px,#6dff00 211px,#66ff00 238px,#5aff00 258px,#2eff00 292px,#01ff00 314px,#00d22d 335px,#008877 376px,#0053ac 409px,#0048b7 420px)"></i><i style="top:300px;height:2.5px;background:linear-gradient(90deg,#0048b7 0px,#0051ae 11px,#007887 37px,#00cf30 86px,#01ff00 109px,#2eff00 131px,#59ff00 165px,#65ff00 186px,#6bff00 211px,#65ff00 236px,#59ff00 257px,#2eff00 291px,#01ff00 313px,#00d12e 335px,#008877 376px,#0053ac 409px,#0048b7 420px)"></i><i style="top:302px;height:2.5px;background:linear-gradient(90deg,#0048b7 0px,#0051ae 11px,#008679 45px,#00d12e 87px,#00ff00 109px,#2dff00 131px,#58ff00 165px,#63ff00 186px,#69ff00 211px,#63ff00 236px,#58ff00 257px,#2dff00 291px,#00ff00 313px,#00d12e 335px,#008877 376px,#0052ad 410px,#0049b6 420px)"></i><i style="top:304px;height:2.5px;background:linear-gradient(90deg,#0048b7 0px,#0050af 10px,#007e81 40px,#00ce31 86px,#01ff00 110px,#2bff00 131px,#56ff00 165px,#62ff00 186px,#67ff00 211px,#62ff00 236px,#56ff00 257px,#2bff00 291px,#01ff00 312px,#00d02f 335px,#008679 377px,#0053ac 410px,#0049b6 420px)"></i><i style="top:306px;height:2.5px;background:linear-gradient(90deg,#0049b6 0px,#0051ae 10px,#00847b 44px,#00d02f 87px,#00ff00 110px,#2aff00 131px,#55ff00 165px,#61ff00 187px,#66ff00 211px,#61ff00 235px,#55ff00 257px,#2aff00 291px,#00ff00 312px,#00d02f 335px,#008679 377px,#0052ad 411px,#0049b6 420px)"></i><i style="top:308px;height:2.5px;background:linear-gradient(90deg,#0049b6 0px,#0051ae 10px,#00837c 43px,#00ce31 86px,#01ff00 111px,#2aff00 132px,#53ff00 165px,#5fff00 187px,#64ff00 211px,#5fff00 235px,#53ff00 257px,#2aff00 290px,#01ff00 311px,#00ce31 336px,#008679 377px,#0053ac 411px,#004ab5 420px)"></i><i style="top:310px;height:2.5px;background:linear-gradient(90deg,#004ab5 0px,#0052ad 10px,#00847b 44px,#00ce31 86px,#01ff00 111px,#2bff00 133px,#52ff00 165px,#5eff00 187px,#63ff00 211px,#5eff00 235px,#52ff00 257px,#2bff00 289px,#01ff00 311px,#00ce31 336px,#008679 377px,#0053ac 411px,#004ab5 420px)"></i><i style="top:312px;height:2.5px;background:linear-gradient(90deg,#004ab5 0px,#0052ad 10px,#00847b 44px,#02ff00 112px,#2bff00 134px,#50ff00 165px,#5dff00 188px,#62ff00 212px,#5dff00 235px,#50ff00 257px,#2aff00 289px,#00ff00 311px,#00ce31 336px,#008679 377px,#0054ab 411px,#004bb4 420px)"></i><i style="top:314px;height:2.5px;background:linear-gradient(90deg,#004bb4 0px,#0053ac 10px,#00857a 44px,#01ff00 112px,#2aff00 134px,#4fff00 165px,#5cff00 188px,#61ff00 211px,#5cff00 234px,#4fff00 257px,#2aff00 288px,#01ff00 310px,#00857a 378px,#0054ab 411px,#004bb4 420px)"></i><i style="top:316px;height:2.5px;background:linear-gradient(90deg,#004bb4 0px,#0054ab 10px,#00857a 44px,#01ff00 112px,#2bff00 135px,#4eff00 165px,#5bff00 188px,#60ff00 211px,#5bff00 234px,#4eff00 257px,#2bff00 287px,#01ff00 310px,#00857a 378px,#0055aa 411px,#004cb3 420px)"></i><i style="top:318px;height:2.5px;background:linear-gradient(90deg,#004cb3 0px,#0054ab 10px,#008679 44px,#02ff00 113px,#2bff00 136px,#4dff00 165px,#5aff00 189px,#5fff00 212px,#59ff00 235px,#4cff00 258px,#2aff00 287px,#00ff00 310px,#00ca35 338px,#008679 378px,#0056a9 411px,#004db2 420px)"></i><i style="top:320px;height:2.5px;background:linear-gradient(90deg,#004db2 0px,#0056a9 11px,#008679 44px,#01ff00 113px,#2aff00 136px,#4aff00 164px,#59ff00 188px,#5eff00 211px,#59ff00 234px,#4aff00 258px,#2aff00 286px,#01ff00 309px,#008679 378px,#0056a9 411px,#004db2 420px)"></i><i style="top:322px;height:2.5px;background:linear-gradient(90deg,#004db2 0px,#0057a8 11px,#008778 44px,#01ff00 113px,#2aff00 136px,#49ff00 164px,#57ff00 188px,#5dff00 211px,#57ff00 234px,#49ff00 258px,#2aff00 286px,#01ff00 309px,#008976 377px,#0058a7 410px,#004eb1 420px)"></i><i style="top:324px;height:2.5px;background:linear-gradient(90deg,#004eb1 0px,#0058a7 11px,#008877 44px,#00c738 82px,#00ff00 113px,#29ff00 136px,#47ff00 163px,#56ff00 188px,#5cff00 211px,#56ff00 234px,#47ff00 259px,#29ff00 286px,#00ff00 309px,#00c738 340px,#008a75 377px,#0059a6 410px,#004fb0 420px)"></i><i style="top:326px;height:2.5px;background:linear-gradient(90deg,#004fb0 0px,#005aa5 12px,#008976 44px,#01ff00 114px,#2aff00 137px,#46ff00 163px,#56ff00 188px,#5bff00 212px,#55ff00 236px,#45ff00 260px,#2aff00 285px,#00ff00 309px,#00c738 340px,#008c73 376px,#005ba4 409px,#0050af 420px)"></i><i style="top:328px;height:2.5px;background:linear-gradient(90deg,#004fb0 0px,#005ba4 13px,#008b74 45px,#01ff00 114px,#2aff00 138px,#44ff00 162px,#54ff00 187px,#5aff00 211px,#54ff00 235px,#44ff00 260px,#2aff00 284px,#01ff00 308px,#008e71 375px,#005da2 408px,#0050af 420px)"></i><i style="top:330px;height:2.5px;background:linear-gradient(90deg,#0050af 0px,#0058a7 10px,#00708f 27px,#00bf40 77px,#01ff00 114px,#28ff00 137px,#41ff00 160px,#54ff00 187px,#5aff00 211px,#54ff00 235px,#41ff00 262px,#28ff00 285px,#01ff00 308px,#00926d 373px,#005fa0 407px,#0051ae 420px)"></i><i style="top:332px;height:2.5px;background:linear-gradient(90deg,#0051ae 0px,#0059a6 10px,#006c93 24px,#00bf40 77px,#00ff00 114px,#23ff00 134px,#38ff00 151px,#51ff00 183px,#59ff00 211px,#51ff00 239px,#38ff00 271px,#23ff00 288px,#00ff00 308px,#00bf40 345px,#006e91 397px,#005aa5 411px,#0052ad 420px)"></i><i style="top:334px;height:2.5px;background:linear-gradient(90deg,#0052ad 0px,#005aa5 10px,#006a95 22px,#00c13e 78px,#00ff00 114px,#23ff00 134px,#37ff00 150px,#51ff00 184px,#59ff00 211px,#51ff00 238px,#37ff00 272px,#23ff00 288px,#00ff00 308px,#00c13e 344px,#006c93 399px,#005ba4 411px,#0053ac 420px)"></i><i style="top:336px;height:1px;background:linear-gradient(90deg,#0052ad 0px,#0059a6 9px,#006798 20px,#00bf40 77px,#02ff00 115px,#24ff00 135px,#37ff00 150px,#51ff00 185px,#59ff00 211px,#51ff00 237px,#37ff00 272px,#24ff00 287px,#00ff00 308px,#00c33c 343px,#006a95 400px,#0053ac 420px)"></i></div></div><div class="fw" style="left:320px;top:742px;width:433px;height:348px;clip-path:polygon(0px 0.8px,42.2px 1.3px,68px 4.8px,77.5px 6.3px,78.3px 6.2px,80.3px 7.5px,82.3px 8.8px,84.3px 10.1px,86.3px 11.4px,88.3px 12.7px,90.3px 13.9px,92.3px 15.1px,94.3px 16.3px,96.3px 17.5px,98.3px 18.6px,100.3px 19.8px,102.3px 20.9px,104.3px 22px,106.3px 23px,108.3px 24.1px,110.3px 25.1px,112.3px 26.1px,114.3px 27.1px,116.3px 28.1px,118.3px 29px,120.3px 29.9px,122.3px 30.8px,124.3px 31.7px,126.3px 32.6px,128.3px 33.4px,130.3px 34.3px,132.3px 35.1px,134.3px 35.8px,136.3px 36.6px,138.3px 37.3px,140.3px 38px,142.3px 38.7px,144.3px 39.4px,146.3px 40.1px,148.3px 40.7px,150.3px 41.3px,152.3px 41.9px,154.3px 42.5px,156.3px 43.1px,158.3px 43.6px,160.3px 44.1px,162.3px 44.6px,164.3px 45.1px,166.3px 45.6px,168.3px 46px,170.3px 46.4px,172.3px 46.8px,174.3px 47.2px,176.3px 47.6px,178.3px 47.9px,180.3px 48.2px,182.3px 48.5px,184.3px 48.8px,186.3px 49.1px,188.3px 49.3px,190.3px 49.5px,192.3px 49.7px,194.3px 49.9px,196.3px 50.1px,198.3px 50.2px,200.3px 50.4px,202.3px 50.5px,204.3px 50.6px,206.3px 50.6px,208.3px 50.7px,210.3px 50.7px,212.3px 50.7px,214.3px 50.7px,216.3px 50.7px,218.3px 50.7px,220.3px 50.6px,222.3px 50.5px,224.3px 50.4px,226.3px 50.3px,228.3px 50.2px,230.3px 50px,232.3px 49.9px,234.3px 49.7px,236.3px 49.5px,238.3px 49.2px,240.3px 49px,242.3px 48.7px,244.3px 48.4px,246.3px 48.1px,248.3px 47.8px,250.3px 47.5px,252.3px 47.1px,254.3px 46.8px,256.3px 46.4px,258.3px 46px,260.3px 45.6px,262.3px 45.1px,264.3px 44.7px,266.3px 44.2px,268.3px 43.7px,270.3px 43.2px,272.3px 42.7px,274.3px 42.1px,276.3px 41.5px,278.3px 41px,280.3px 40.4px,282.3px 39.7px,284.3px 39.1px,286.3px 38.5px,288.3px 37.8px,290.3px 37.1px,292.3px 36.4px,294.3px 35.7px,296.3px 34.9px,298.3px 34.2px,300.3px 33.4px,302.3px 32.6px,304.3px 31.8px,306.3px 30.9px,308.3px 30.1px,310.3px 29.2px,312.3px 28.3px,314.3px 27.4px,316.3px 26.5px,318.3px 25.6px,320.3px 24.6px,322.3px 23.7px,324.3px 22.7px,326.3px 21.7px,328.3px 20.7px,330.3px 19.6px,332.3px 18.6px,334.3px 17.5px,336.3px 16.4px,338.3px 15.3px,340.3px 14.2px,342.3px 13px,344.3px 11.9px,346.3px 10.7px,348.3px 9.5px,350.3px 8.3px,352px 7.7px,373px 3.5px,393.6px 2px,414.3px 0.8px,433px 0.4px,434px 348px,0px 348px)"><div class="fi" style=""><i style="top:0px;height:2.5px;background:linear-gradient(90deg,#005ea1 0px,#006699 26px,#007f80 45px,#00926d 52px,#00b748 62px,#00d22d 68px,#00fd02 76px,#04ff00 77px,#4cff00 87px,#78ff00 92px,#90ff00 94px,#a1ff00 95px,#ffff00 99px,#ffd500 104px,#ffca00 107px,#ffb100 121px,#ffa800 136px,#ffb200 221px,#ffa900 311px,#ffb500 324px,#ffcc00 336px,#ffdc00 339px,#ffff00 343px,#a1ff00 347px,#90ff00 348px,#78ff00 350px,#4cff00 355px,#04ff00 365px,#00fd02 366px,#00bb44 379px,#009669 389px,#00817e 396px,#006897 413px,#005fa0 433px)"></i><i style="top:2px;height:2.5px;background:linear-gradient(90deg,#005ea1 0px,#006699 26px,#007f80 45px,#00926d 52px,#00b748 62px,#00d22d 68px,#00fd02 76px,#04ff00 77px,#4cff00 87px,#78ff00 92px,#90ff00 94px,#a1ff00 95px,#ffff00 99px,#ffd500 104px,#ffca00 107px,#ffb100 121px,#ffa800 136px,#ffb200 221px,#ffa900 311px,#ffb500 324px,#ffcc00 336px,#ffdc00 339px,#ffff00 343px,#a1ff00 347px,#90ff00 348px,#78ff00 350px,#4cff00 355px,#04ff00 365px,#00fd02 366px,#00bb44 379px,#009669 389px,#00817e 396px,#006897 413px,#005fa0 433px)"></i><i style="top:4px;height:2.5px;background:linear-gradient(90deg,#005ca3 0px,#00649b 26px,#006d92 36px,#007986 44px,#008d72 51px,#00b946 63px,#00d926 70px,#00fe01 77px,#45ff00 86px,#6eff00 90px,#a8ff00 94px,#bbff00 95px,#ffff00 98px,#fff700 99px,#ffd900 103px,#ffcb00 106px,#ffb400 119px,#ffa900 131px,#ffb300 221px,#ffa800 306px,#ffb100 321px,#ffcb00 336px,#ffd900 339px,#ffff00 344px,#bbff00 347px,#a8ff00 348px,#6eff00 352px,#45ff00 356px,#00fe01 365px,#00de21 371px,#00bd42 378px,#00936c 389px,#007e81 396px,#00718e 403px,#006798 412px,#005da2 433px)"></i><i style="top:6px;height:2.5px;background:linear-gradient(90deg,#005aa5 0px,#00619e 26px,#006b94 37px,#007689 44px,#008d72 52px,#00ba45 64px,#00da25 71px,#02ff00 78px,#46ff00 86px,#68ff00 89px,#86ff00 91px,#aaff00 93px,#d1ff00 95px,#feff00 97px,#fff700 98px,#ffd600 103px,#ffcb00 106px,#ffb400 119px,#ffa900 131px,#ffb400 221px,#ffa800 306px,#ffb000 320px,#ffc900 335px,#ffd600 339px,#fff700 344px,#feff00 345px,#d1ff00 347px,#aaff00 349px,#86ff00 351px,#68ff00 353px,#46ff00 356px,#02ff00 364px,#00da25 371px,#00ba45 378px,#008d72 390px,#007986 397px,#006c93 404px,#00649b 412px,#005ba4 433px)"></i><i style="top:8px;height:2.5px;background:linear-gradient(90deg,#0058a7 0px,#005fa0 26px,#006897 37px,#00718e 43px,#008778 51px,#00bb44 65px,#00df20 73px,#00fd02 78px,#06ff00 79px,#3dff00 85px,#5fff00 88px,#6dff00 89px,#90ff00 91px,#fbff00 96px,#fff700 97px,#ffd900 102px,#ffca00 106px,#ffb000 122px,#ffa800 136px,#ffb400 221px,#ffa900 311px,#ffb400 323px,#ffca00 336px,#ffd900 340px,#fff700 345px,#fbff00 346px,#90ff00 351px,#6dff00 353px,#5fff00 354px,#3dff00 357px,#06ff00 363px,#00fd02 364px,#00df20 369px,#00bf40 376px,#008e71 389px,#007689 397px,#006a95 403px,#00639c 410px,#0059a6 433px)"></i><i style="top:10px;height:2.5px;background:linear-gradient(90deg,#0057a8 0px,#005da2 27px,#00659a 37px,#006e91 43px,#00857a 51px,#00bc43 66px,#00db24 73px,#02ff00 79px,#47ff00 86px,#61ff00 88px,#70ff00 89px,#97ff00 91px,#f4ff00 95px,#fffa00 96px,#ffea00 98px,#ffdf00 100px,#ffca00 106px,#ffb000 122px,#ffa800 136px,#ffb500 221px,#ffa900 311px,#ffb400 323px,#ffcc00 337px,#ffe400 343px,#fffa00 346px,#f4ff00 347px,#97ff00 351px,#70ff00 353px,#61ff00 354px,#47ff00 356px,#02ff00 363px,#00db24 369px,#00c03f 375px,#008877 390px,#00708f 398px,#006699 404px,#00619e 410px,#0057a8 433px)"></i><i style="top:12px;height:2.5px;background:linear-gradient(90deg,#0055aa 0px,#005ca3 28px,#00619e 37px,#006b94 43px,#00827d 51px,#00bc43 67px,#00dd22 74px,#00fd02 79px,#3cff00 85px,#63ff00 88px,#87ff00 90px,#fffe00 95px,#ffe500 98px,#ffcb00 105px,#ffb100 121px,#ffa800 134px,#ffb600 221px,#ffa900 311px,#ffb300 323px,#ffcb00 337px,#ffe500 344px,#fffe00 347px,#87ff00 352px,#63ff00 354px,#3cff00 357px,#00fd02 363px,#00dd22 368px,#00c03f 374px,#00857a 390px,#006d92 398px,#00609f 407px,#0055aa 433px)"></i><i style="top:14px;height:2.5px;background:linear-gradient(90deg,#0053ac 0px,#005aa5 29px,#005fa0 37px,#006897 43px,#007f80 51px,#00bd42 68px,#00d926 74px,#00fa05 79px,#04ff00 80px,#19ff00 82px,#47ff00 86px,#63ff00 88px,#89ff00 90px,#f0ff00 94px,#fffb00 95px,#ffe200 98px,#ffcb00 105px,#ffb100 121px,#ffa800 134px,#ffb600 221px,#ffa900 312px,#ffb300 323px,#ffcb00 337px,#ffe200 344px,#fffb00 347px,#f0ff00 348px,#89ff00 352px,#63ff00 354px,#47ff00 356px,#19ff00 360px,#04ff00 362px,#00fa05 363px,#00d926 368px,#00bd42 374px,#00827d 390px,#006a95 398px,#005ea1 406px,#0054ab 433px)"></i><i style="top:16px;height:2.5px;background:linear-gradient(90deg,#0051ae 0px,#0059a6 31px,#005da2 38px,#00659a 43px,#007c83 51px,#00b946 68px,#00db24 75px,#00ff00 80px,#2dff00 84px,#64ff00 88px,#8bff00 90px,#f4ff00 94px,#fff900 95px,#ffe100 98px,#ffcb00 105px,#ffb100 121px,#ffa800 133px,#ffb700 221px,#ffa900 312px,#ffb300 323px,#ffcd00 338px,#ffe100 344px,#fff900 347px,#f4ff00 348px,#8bff00 352px,#64ff00 354px,#2dff00 358px,#00ff00 362px,#00db24 367px,#00bd42 373px,#007f80 390px,#006798 398px,#005ba4 406px,#0052ad 433px)"></i><i style="top:18px;height:2.5px;background:linear-gradient(90deg,#004fb0 0px,#0057a8 33px,#005aa5 38px,#00629d 43px,#007887 51px,#00b54a 68px,#00d728 75px,#00fc03 80px,#07ff00 81px,#1fff00 83px,#63ff00 88px,#8aff00 90px,#f3ff00 94px,#fff900 95px,#ffe100 98px,#ffcb00 105px,#ffb000 121px,#ffa800 133px,#ffb800 221px,#ffa900 312px,#ffb300 323px,#ffcd00 338px,#ffe100 344px,#fff900 347px,#f3ff00 348px,#8aff00 352px,#63ff00 354px,#1fff00 359px,#07ff00 361px,#00fc03 362px,#00d728 367px,#00b946 373px,#007c83 390px,#00649b 398px,#0058a7 406px,#0050af 433px)"></i><i style="top:20px;height:2.5px;background:linear-gradient(90deg,#004eb1 0px,#0055aa 34px,#005fa0 43px,#007887 52px,#00af50 68px,#00d32c 75px,#00f906 80px,#03ff00 81px,#0fff00 82px,#60ff00 88px,#87ff00 90px,#edff00 94px,#fffc00 95px,#ffe400 98px,#ffcb00 105px,#ffb300 119px,#ffa900 129px,#ffb900 221px,#ffa800 309px,#ffaf00 320px,#ffc900 336px,#ffdf00 343px,#ffea00 345px,#fffc00 347px,#edff00 348px,#87ff00 352px,#60ff00 354px,#0fff00 360px,#03ff00 361px,#00f906 362px,#00d32c 367px,#00af50 374px,#007b84 389px,#00639c 397px,#0056a9 405px,#004eb1 433px)"></i><i style="top:22px;height:2.5px;background:linear-gradient(90deg,#004cb3 0px,#0053ac 36px,#005ea1 44px,#00738c 52px,#00a55a 67px,#00cf30 75px,#00fe01 81px,#23ff00 84px,#5bff00 88px,#82ff00 90px,#faff00 95px,#fff800 96px,#ffde00 100px,#ffc900 106px,#ffb200 119px,#ffa900 129px,#ffba00 221px,#ffa800 309px,#ffae00 320px,#ffc700 335px,#ffde00 342px,#fff800 346px,#faff00 347px,#82ff00 352px,#5bff00 354px,#23ff00 358px,#00fe01 361px,#00cf30 367px,#00aa55 374px,#009768 379px,#00629d 396px,#0054ab 405px,#004db2 433px)"></i><i style="top:24px;height:2.5px;background:linear-gradient(90deg,#004bb4 0px,#0051ae 36px,#005da2 45px,#00758a 54px,#00a05f 67px,#00cb34 75px,#00fa05 81px,#06ff00 82px,#11ff00 83px,#56ff00 88px,#7bff00 90px,#d8ff00 94px,#fffe00 96px,#ffee00 98px,#ffdc00 101px,#ffc700 107px,#ffaf00 121px,#ffa800 132px,#ffbb00 221px,#ffa900 314px,#ffb300 324px,#ffc900 336px,#ffe100 342px,#fffe00 346px,#d8ff00 348px,#7bff00 352px,#56ff00 354px,#11ff00 359px,#06ff00 360px,#00fa05 361px,#00cb34 367px,#00a05f 375px,#00916e 379px,#00619e 395px,#0052ad 405px,#004bb4 433px)"></i><i style="top:26px;height:2.5px;background:linear-gradient(90deg,#0049b6 0px,#004fb0 37px,#005ea1 47px,#008877 62px,#009b64 67px,#00c837 75px,#02ff00 82px,#27ff00 85px,#51ff00 88px,#76ff00 90px,#b9ff00 93px,#f6ff00 96px,#fffa00 97px,#ffdf00 101px,#ffc700 107px,#ffae00 121px,#ffa800 132px,#ffbc00 221px,#ffa900 314px,#ffb200 324px,#ffc900 336px,#ffdf00 341px,#fffa00 345px,#f6ff00 346px,#b9ff00 349px,#76ff00 352px,#51ff00 354px,#27ff00 357px,#02ff00 360px,#00c837 367px,#009b64 375px,#008c73 379px,#00639c 393px,#0056a9 399px,#004fb0 405px,#004ab5 433px)"></i><i style="top:28px;height:2.5px;background:linear-gradient(90deg,#0048b7 0px,#004db2 37px,#005ba4 47px,#00857a 62px,#009966 67px,#00cd32 76px,#00ff00 82px,#32ff00 86px,#5fff00 89px,#c8ff00 94px,#fffe00 97px,#ffe000 101px,#ffc700 107px,#ffaf00 120px,#ffa800 131px,#ffbd00 221px,#ffa900 315px,#ffb300 325px,#ffca00 336px,#ffe000 341px,#fffe00 345px,#c8ff00 348px,#5fff00 353px,#32ff00 356px,#00ff00 360px,#00cd32 366px,#009e61 374px,#008877 379px,#00629d 392px,#0055aa 398px,#004eb1 404px,#0048b7 433px)"></i><i style="top:30px;height:2.5px;background:linear-gradient(90deg,#0046b9 0px,#004bb4 37px,#0050af 42px,#005ba4 48px,#007a85 59px,#009867 67px,#00cd32 76px,#00ff00 82px,#31ff00 86px,#5eff00 89px,#b4ff00 93px,#fffe00 97px,#ffe000 101px,#ffc700 107px,#ffaf00 119px,#ffa800 129px,#ffbd00 221px,#ffa900 316px,#ffb200 325px,#ffca00 336px,#ffe000 341px,#fffe00 345px,#b4ff00 349px,#5eff00 353px,#31ff00 356px,#00ff00 360px,#00cd32 366px,#009d62 374px,#00847b 380px,#00609f 392px,#0053ac 398px,#004bb4 404px,#0046b9 433px)"></i><i style="top:32px;height:2.5px;background:linear-gradient(90deg,#0044bb 0px,#0049b6 37px,#004db2 42px,#0059a6 48px,#007887 59px,#009867 67px,#00cd32 76px,#00ff00 82px,#32ff00 86px,#5fff00 89px,#b4ff00 93px,#fffe00 97px,#ffe000 101px,#ffc700 107px,#ffb000 118px,#ffa700 128px,#ffbc00 221px,#ffa800 316px,#ffb300 326px,#ffc900 336px,#ffe000 341px,#fffe00 345px,#b4ff00 349px,#5fff00 353px,#32ff00 356px,#00ff00 360px,#00cd32 366px,#009d62 374px,#007f80 381px,#005ea1 392px,#0050af 398px,#0049b6 404px,#0044bb 433px)"></i><i style="top:34px;height:2.5px;background:linear-gradient(90deg,#0042bd 0px,#0046b9 37px,#004bb4 42px,#0056a9 48px,#007788 59px,#009867 67px,#00c738 75px,#01ff00 82px,#33ff00 86px,#60ff00 89px,#c9ff00 94px,#fffe00 97px,#ffe000 101px,#ffc600 107px,#ffae00 118px,#ffa600 128px,#ffbb00 221px,#ffa600 316px,#ffb200 326px,#ffc900 336px,#ffe000 341px,#fffe00 345px,#c9ff00 348px,#60ff00 353px,#33ff00 356px,#01ff00 360px,#00ce31 366px,#009d62 374px,#007a85 382px,#005ba4 392px,#004eb1 398px,#0047b8 404px,#0042bd 433px)"></i><i style="top:36px;height:2.5px;background:linear-gradient(90deg,#0040bf 0px,#0044bb 37px,#0052ad 47px,#00718e 58px,#009966 67px,#00c837 75px,#02ff00 82px,#35ff00 86px,#62ff00 89px,#caff00 94px,#f0ff00 96px,#fffd00 97px,#ffe600 100px,#ffd500 103px,#ffbf00 109px,#ffab00 119px,#ffa400 128px,#ffb900 221px,#ffa600 298px,#ffa500 316px,#ffb000 326px,#ffc500 335px,#ffe000 341px,#fffd00 345px,#f0ff00 346px,#caff00 348px,#62ff00 353px,#35ff00 356px,#02ff00 360px,#00ce31 366px,#009e61 374px,#007986 382px,#0059a6 392px,#004cb3 398px,#0044bb 404px,#0040bf 433px)"></i><i style="top:38px;height:2.5px;background:linear-gradient(90deg,#003dc2 0px,#0041be 37px,#0050af 47px,#00708f 58px,#009966 67px,#00c837 75px,#00f906 81px,#04ff00 82px,#10ff00 83px,#54ff00 88px,#78ff00 90px,#ccff00 94px,#f1ff00 96px,#fffd00 97px,#ffe600 100px,#ffd000 104px,#ffb600 112px,#ffa400 124px,#ffa200 136px,#ffb700 221px,#ffa300 296px,#ffa300 316px,#ffac00 325px,#ffbe00 333px,#ffd500 339px,#ffe600 342px,#fffd00 345px,#f1ff00 346px,#ccff00 348px,#78ff00 352px,#54ff00 354px,#10ff00 359px,#04ff00 360px,#00f906 361px,#00c837 367px,#009e61 374px,#00748b 383px,#0055aa 393px,#0048b7 399px,#0042bd 404px,#003dc2 433px)"></i><i style="top:40px;height:2.5px;background:linear-gradient(90deg,#003bc4 0px,#003fc0 37px,#004eb1 47px,#006b94 57px,#00847b 63px,#00bc43 73px,#00d827 77px,#00fa05 81px,#06ff00 82px,#12ff00 83px,#56ff00 88px,#7bff00 90px,#ceff00 94px,#f3ff00 96px,#fffc00 97px,#ffe600 100px,#ffd000 104px,#ffb400 112px,#ffa200 124px,#ff9f00 138px,#ffaa00 191px,#ffb400 221px,#ffa000 296px,#ffa100 316px,#ffa900 324px,#ffb900 332px,#ffd500 339px,#ffe600 342px,#fffc00 345px,#f3ff00 346px,#ceff00 348px,#7bff00 352px,#56ff00 354px,#12ff00 359px,#06ff00 360px,#00fa05 361px,#00c936 367px,#009e61 374px,#00728d 383px,#0053ac 393px,#0045ba 399px,#003fc0 404px,#003bc4 433px)"></i><i style="top:42px;height:2.5px;background:linear-gradient(90deg,#0038c7 0px,#003cc3 37px,#004cb3 47px,#006996 57px,#00847b 63px,#00bc43 73px,#00d926 77px,#00fc03 81px,#08ff00 82px,#21ff00 84px,#59ff00 88px,#7eff00 90px,#d0ff00 94px,#f5ff00 96px,#fffc00 97px,#ffe500 100px,#ffcf00 104px,#ffb100 112px,#ffa000 124px,#ff9c00 140px,#ffa600 191px,#ffb100 221px,#ffa600 250px,#ff9d00 295px,#ff9e00 315px,#ffa700 324px,#ffb700 332px,#ffd400 339px,#ffe500 342px,#fffc00 345px,#f5ff00 346px,#d0ff00 348px,#7eff00 352px,#59ff00 354px,#21ff00 358px,#08ff00 360px,#00fc03 361px,#00ca35 367px,#009e61 374px,#00718e 383px,#0051ae 393px,#0043bc 399px,#003cc3 405px,#0039c6 433px)"></i><i style="top:44px;height:2.5px;background:linear-gradient(90deg,#0036c9 0px,#003ac5 37px,#004ab5 47px,#006897 57px,#007e81 62px,#00bd42 73px,#00da25 77px,#00fd02 81px,#23ff00 84px,#5dff00 88px,#81ff00 90px,#d3ff00 94px,#f6ff00 96px,#fffb00 97px,#ffe500 100px,#ffcf00 104px,#ffaf00 112px,#ff9d00 125px,#ff9800 142px,#ffa100 191px,#ffad00 221px,#ffa000 256px,#ff9800 298px,#ff9b00 315px,#ffa300 323px,#ffb200 331px,#ffcf00 338px,#ffe500 342px,#fffb00 345px,#f6ff00 346px,#d3ff00 348px,#81ff00 352px,#5dff00 354px,#23ff00 358px,#00fd02 361px,#00cb34 367px,#009f60 374px,#00708f 383px,#004fb0 393px,#0041be 399px,#003ac5 405px,#0036c9 433px)"></i><i style="top:46px;height:2.5px;background:linear-gradient(90deg,#0034cb 0px,#0037c8 37px,#003dc2 42px,#0048b7 47px,#006798 57px,#007e81 62px,#00be41 73px,#00dc23 77px,#01ff00 81px,#26ff00 84px,#60ff00 88px,#85ff00 90px,#d5ff00 94px,#f8ff00 96px,#fffa00 97px,#ffe500 100px,#ffce00 104px,#ffb000 111px,#ffa100 119px,#ff9800 128px,#ff9500 145px,#ff9b00 187px,#ffaa00 221px,#ff9c00 251px,#ff9500 299px,#ff9a00 317px,#ffad00 330px,#ffc900 337px,#ffe500 342px,#fffa00 345px,#f8ff00 346px,#d5ff00 348px,#85ff00 352px,#60ff00 354px,#26ff00 358px,#01ff00 361px,#00dc23 365px,#00be41 369px,#00837c 379px,#006798 385px,#004db2 393px,#003fc0 399px,#0037c8 405px,#0034cb 433px)"></i><i style="top:48px;height:2.5px;background:linear-gradient(90deg,#0031ce 0px,#0035ca 36px,#003ac5 41px,#0044bb 46px,#00629d 56px,#007887 61px,#00b946 72px,#00d52a 76px,#00f807 80px,#03ff00 81px,#29ff00 84px,#54ff00 87px,#75ff00 89px,#c6ff00 93px,#faff00 96px,#fff900 97px,#ffe400 100px,#ffc800 105px,#ffab00 112px,#ff9700 126px,#ff9000 145px,#ff9700 191px,#ffa600 221px,#ff9600 256px,#ff9000 297px,#ff9600 314px,#ff9f00 323px,#ffad00 331px,#ffcd00 338px,#fff900 345px,#faff00 346px,#c6ff00 349px,#75ff00 353px,#54ff00 355px,#29ff00 358px,#03ff00 361px,#00f807 362px,#00d52a 366px,#00b946 370px,#007d82 380px,#006699 385px,#0049b6 394px,#003bc4 400px,#0035ca 405px,#0032cd 433px)"></i><i style="top:50px;height:2.5px;background:linear-gradient(90deg,#002fd0 0px,#0033cc 36px,#0038c7 41px,#0042bd 46px,#00619e 56px,#007788 61px,#00ba45 72px,#00d728 76px,#00fa05 80px,#05ff00 81px,#49ff00 86px,#79ff00 89px,#c9ff00 93px,#fdff00 96px,#fff900 97px,#ffe400 100px,#ffc200 106px,#ffa800 112px,#ff9400 127px,#ff8c00 146px,#ff9200 191px,#ffa200 221px,#ff9200 254px,#ff8c00 296px,#ff9000 308px,#ff9800 319px,#ffa800 330px,#ffc200 336px,#ffe400 342px,#fff900 345px,#fdff00 346px,#c9ff00 349px,#79ff00 353px,#49ff00 356px,#05ff00 361px,#00fa05 362px,#00c03f 369px,#007d82 380px,#00659a 385px,#0047b8 394px,#0039c6 400px,#0033cc 405px,#002fd0 433px)"></i><i style="top:52px;height:2.5px;background:linear-gradient(90deg,#002dd2 0px,#0031ce 36px,#0036c9 41px,#0041be 46px,#00609f 56px,#007788 61px,#00bb44 72px,#00d827 76px,#00fc03 80px,#08ff00 81px,#22ff00 83px,#6bff00 88px,#ccff00 93px,#ffff00 96px,#fff800 97px,#ffc100 106px,#ffa600 112px,#ff9600 123px,#ff8c00 135px,#ff8900 147px,#ff8d00 188px,#ff9f00 221px,#ff8d00 251px,#ff8900 296px,#ff9100 315px,#ffa600 330px,#ffc100 336px,#ffe300 342px,#ffff00 346px,#ccff00 349px,#6bff00 354px,#22ff00 359px,#08ff00 361px,#00fc03 362px,#00c23d 369px,#007d82 380px,#00649b 385px,#0046b9 394px,#0038c7 400px,#0032cd 405px,#002dd2 433px)"></i><i style="top:54px;height:2.5px;background:linear-gradient(90deg,#002cd3 0px,#0030cf 36px,#0035ca 41px,#0040bf 46px,#00609f 56px,#007788 61px,#00bc43 72px,#00da25 76px,#00fe01 80px,#24ff00 83px,#6fff00 88px,#cfff00 93px,#fffe00 96px,#ffc000 106px,#ffa400 112px,#ff8e00 128px,#ff8500 147px,#ff8900 191px,#ff9b00 221px,#ff8800 254px,#ff8500 295px,#ff8800 306px,#ff9200 318px,#ffa400 330px,#ffc000 336px,#fffe00 346px,#cfff00 349px,#6fff00 354px,#24ff00 359px,#00fe01 362px,#00c33c 369px,#007c83 380px,#00639c 385px,#0045ba 394px,#0037c8 400px,#0030cf 405px,#002cd3 433px)"></i><i style="top:56px;height:2.5px;background:linear-gradient(90deg,#002ad5 0px,#002fd0 36px,#0034cb 41px,#003fc0 46px,#005fa0 56px,#007689 61px,#00bd42 72px,#01ff00 80px,#35ff00 84px,#72ff00 88px,#d1ff00 93px,#f3ff00 95px,#fffd00 96px,#ffb900 107px,#ffa300 112px,#ff8a00 130px,#ff8100 148px,#ff8400 191px,#ff9700 221px,#ff8400 254px,#ff8100 294px,#ff8500 306px,#ff9000 318px,#ffa300 330px,#ffb900 335px,#fffd00 346px,#f3ff00 347px,#d1ff00 349px,#72ff00 354px,#35ff00 358px,#01ff00 362px,#00c43b 369px,#007c83 380px,#00639c 385px,#0044bb 394px,#0036c9 400px,#002fd0 405px,#002ad5 433px)"></i><i style="top:58px;height:2.5px;background:linear-gradient(90deg,#0029d6 0px,#002ed1 36px,#0033cc 41px,#003ec1 46px,#005fa0 56px,#007689 61px,#00be41 72px,#00f807 79px,#03ff00 80px,#47ff00 85px,#87ff00 89px,#e5ff00 94px,#f6ff00 95px,#fffc00 96px,#ffb800 107px,#ffa200 112px,#ff8700 131px,#ff7e00 149px,#ff8100 191px,#ff9400 221px,#ff8600 240px,#ff8000 254px,#ff7e00 294px,#ff8200 305px,#ff8f00 318px,#ffa200 330px,#ffb800 335px,#fffc00 346px,#f6ff00 347px,#e5ff00 348px,#87ff00 353px,#47ff00 357px,#03ff00 362px,#00f807 363px,#00be41 370px,#007689 381px,#00629d 385px,#0044bb 394px,#0035ca 400px,#002ed1 405px,#0029d6 433px)"></i><i style="top:60px;height:2.5px;background:linear-gradient(90deg,#0028d7 0px,#002dd2 36px,#0033cc 41px,#003ec1 46px,#005ea1 56px,#007689 61px,#00bf40 72px,#00f906 79px,#05ff00 80px,#4aff00 85px,#8aff00 89px,#e8ff00 94px,#f8ff00 95px,#fffb00 96px,#ffb700 107px,#ffa100 112px,#ff8500 131px,#ff7c00 150px,#ff7d00 191px,#ff9000 221px,#ff8200 240px,#ff7c00 254px,#ff7c00 293px,#ff7f00 304px,#ff8c00 317px,#ffa100 330px,#ffb700 335px,#fffb00 346px,#f8ff00 347px,#e8ff00 348px,#8aff00 353px,#4aff00 357px,#05ff00 362px,#00f906 363px,#00bf40 370px,#007c83 380px,#00629d 385px,#0044bb 394px,#0034cb 400px,#002ed1 405px,#0028d7 433px)"></i><i style="top:62px;height:2.5px;background:linear-gradient(90deg,#0027d8 0px,#002ed1 37px,#003ec1 46px,#005ea1 56px,#007689 61px,#00c03f 72px,#00fb04 79px,#07ff00 80px,#14ff00 81px,#4cff00 85px,#8dff00 89px,#eaff00 94px,#faff00 95px,#fffa00 96px,#ffbc00 106px,#ffa700 110px,#ff9e00 113px,#ff9000 121px,#ff8200 133px,#ff7b00 144px,#ff7900 183px,#ff7e00 199px,#ff8d00 221px,#ff7f00 240px,#ff7900 255px,#ff7a00 294px,#ff7f00 306px,#ff8c00 318px,#ffa000 330px,#ffb600 335px,#fffa00 346px,#faff00 347px,#eaff00 348px,#8dff00 353px,#4cff00 357px,#14ff00 361px,#07ff00 362px,#00fb04 363px,#00c03f 370px,#007c83 380px,#00629d 385px,#0044bb 394px,#0034cb 400px,#002ed1 405px,#0028d7 433px)"></i><i style="top:64px;height:2.5px;background:linear-gradient(90deg,#0027d8 0px,#002ed1 37px,#003ec1 46px,#005fa0 56px,#007689 61px,#00c13e 72px,#00fd02 79px,#23ff00 82px,#5eff00 86px,#8fff00 89px,#dbff00 93px,#fcff00 95px,#fffa00 96px,#ffbc00 106px,#ffa700 110px,#ff9d00 113px,#ff8e00 122px,#ff8000 133px,#ff7900 144px,#ff7600 183px,#ff7b00 200px,#ff8a00 221px,#ff7c00 240px,#ff7700 255px,#ff7700 293px,#ff7e00 306px,#ff8b00 318px,#ffa000 330px,#ffb600 335px,#fffa00 346px,#fcff00 347px,#dbff00 349px,#8fff00 353px,#5eff00 356px,#23ff00 360px,#00fd02 363px,#00c13e 370px,#007c83 380px,#00639c 385px,#0044bb 394px,#0035ca 400px,#002ed1 405px,#0027d8 433px)"></i><i style="top:66px;height:2.5px;background:linear-gradient(90deg,#0026d9 0px,#002ed1 37px,#003ec1 46px,#005fa0 56px,#007788 61px,#00c23d 72px,#00fe01 79px,#33ff00 83px,#71ff00 87px,#92ff00 89px,#ddff00 93px,#fdff00 95px,#fff900 96px,#ffbb00 106px,#ffa600 110px,#ff9d00 113px,#ff9000 120px,#ff8100 131px,#ff7700 143px,#ff7300 176px,#ff7700 197px,#ff8700 221px,#ff7900 240px,#ff7400 255px,#ff7500 292px,#ff7b00 305px,#ff8a00 318px,#ff9f00 330px,#ffb500 335px,#fff900 346px,#fdff00 347px,#ddff00 349px,#92ff00 353px,#71ff00 355px,#33ff00 359px,#00fe01 363px,#00c23d 370px,#007d82 380px,#00639c 385px,#0044bb 394px,#0035ca 400px,#002ed1 405px,#0027d8 433px)"></i><i style="top:68px;height:2.5px;background:linear-gradient(90deg,#0026d9 0px,#002ed1 37px,#003fc0 46px,#00609f 56px,#007887 61px,#00916e 65px,#00c43b 72px,#01ff00 79px,#28ff00 82px,#63ff00 86px,#94ff00 89px,#dfff00 93px,#ffff00 95px,#ffaa00 109px,#ff9f00 112px,#ff9200 118px,#ff8200 129px,#ff7700 141px,#ff7000 172px,#ff7300 196px,#ff8300 221px,#ff7600 240px,#ff7100 256px,#ff7300 290px,#ff7a00 305px,#ff8800 318px,#ff9f00 330px,#ffb500 335px,#ffff00 347px,#dfff00 349px,#94ff00 353px,#63ff00 356px,#28ff00 360px,#01ff00 363px,#00c43b 370px,#007e81 380px,#00649b 385px,#0045ba 394px,#0035ca 400px,#002ed1 405px,#0027d8 433px)"></i><i style="top:70px;height:2.5px;background:linear-gradient(90deg,#0026d9 0px,#002ed1 36px,#0032cd 40px,#003cc3 45px,#00619e 56px,#007986 61px,#00be41 71px,#00f807 78px,#03ff00 79px,#47ff00 84px,#86ff00 88px,#e1ff00 93px,#fffe00 95px,#ffaa00 109px,#ff9f00 112px,#ff9000 119px,#ff8000 129px,#ff7400 142px,#ff6e00 172px,#ff7000 196px,#ff7f00 221px,#ff7300 240px,#ff6e00 256px,#ff6f00 285px,#ff7700 304px,#ff8700 318px,#ff9f00 330px,#ffb400 335px,#fffe00 347px,#e1ff00 349px,#86ff00 354px,#47ff00 358px,#03ff00 363px,#00f807 364px,#00be41 371px,#007986 381px,#00659a 385px,#0042bd 395px,#0035ca 400px,#002ed1 405px,#0026d9 433px)"></i><i style="top:72px;height:2.5px;background:linear-gradient(90deg,#0025da 0px,#002ed1 36px,#0032cd 40px,#003dc2 45px,#00639c 56px,#007b84 61px,#00bf40 71px,#00fa05 78px,#06ff00 79px,#12ff00 80px,#49ff00 84px,#99ff00 89px,#f4ff00 94px,#fffd00 95px,#ffaa00 109px,#ff9b00 113px,#ff8f00 119px,#ff7f00 129px,#ff7300 142px,#ff6b00 172px,#ff6d00 196px,#ff7c00 221px,#ff7000 240px,#ff6b00 257px,#ff6c00 284px,#ff7600 304px,#ff8600 318px,#ff9e00 330px,#ffb900 336px,#fffd00 347px,#f4ff00 348px,#99ff00 353px,#49ff00 358px,#12ff00 362px,#06ff00 363px,#00fa05 364px,#00c738 370px,#00817e 380px,#006798 385px,#0043bc 395px,#0036c9 400px,#002ed1 405px,#0026d9 433px)"></i><i style="top:74px;height:2.5px;background:linear-gradient(90deg,#0025da 0px,#002ed1 36px,#0032cd 40px,#003ec1 45px,#00649b 56px,#007d82 61px,#00c13e 71px,#00fc03 78px,#14ff00 80px,#4cff00 84px,#9cff00 89px,#f6ff00 94px,#fffc00 95px,#ffbe00 105px,#ffa900 109px,#ff9b00 113px,#ff8c00 120px,#ff7e00 129px,#ff7100 143px,#ff6800 172px,#ff6a00 196px,#ff7800 221px,#ff6c00 241px,#ff6800 258px,#ff6a00 283px,#ff7400 303px,#ff8300 317px,#ff9e00 330px,#ffb900 336px,#fffc00 347px,#f6ff00 348px,#9cff00 353px,#4cff00 358px,#14ff00 362px,#00fc03 364px,#00c936 370px,#00827d 380px,#006897 385px,#0044bb 395px,#0036c9 400px,#002fd0 405px,#0026d9 433px)"></i><i style="top:76px;height:2.5px;background:linear-gradient(90deg,#0025da 0px,#002ed1 36px,#003cc3 44px,#006699 56px,#007e81 61px,#00c33c 71px,#00fe01 78px,#23ff00 81px,#4eff00 84px,#9eff00 89px,#f7ff00 94px,#fffb00 95px,#ffdb00 100px,#ffa900 109px,#ff9b00 113px,#ff8b00 120px,#ff7d00 129px,#ff6f00 143px,#ff6500 172px,#ff6800 197px,#ff7400 221px,#ff6900 242px,#ff6500 261px,#ff6700 282px,#ff7100 302px,#ff8200 317px,#ff9e00 330px,#ffb800 336px,#fffb00 347px,#f7ff00 348px,#9eff00 353px,#4eff00 358px,#23ff00 361px,#00fe01 364px,#00c33c 371px,#007e81 381px,#006699 386px,#0041be 396px,#0035ca 401px,#002fd0 405px,#0025da 433px)"></i><i style="top:78px;height:2.5px;background:linear-gradient(90deg,#0024db 0px,#002fd0 36px,#003cc3 44px,#006897 56px,#00807f 61px,#00c53a 71px,#01ff00 78px,#42ff00 83px,#90ff00 88px,#f9ff00 94px,#fffa00 95px,#ffda00 100px,#ffa900 109px,#ff9a00 113px,#ff8800 121px,#ff7a00 130px,#ff6d00 144px,#ff6200 172px,#ff6500 197px,#ff7000 221px,#ff6500 246px,#ff6300 273px,#ff6f00 301px,#ff8100 317px,#ff9d00 330px,#ffb800 336px,#fffa00 347px,#f9ff00 348px,#90ff00 354px,#42ff00 359px,#01ff00 364px,#00c53a 371px,#00807f 381px,#006897 386px,#0042bd 396px,#0035ca 401px,#002fd0 405px,#0025da 433px)"></i><i style="top:80px;height:2.5px;background:linear-gradient(90deg,#0024db 0px,#002fd0 36px,#003dc2 44px,#0059a6 52px,#007d82 60px,#009c63 65px,#00bf40 70px,#00f807 77px,#03ff00 78px,#36ff00 82px,#93ff00 88px,#fbff00 94px,#fffa00 95px,#ffd900 100px,#ffa800 109px,#ff9a00 113px,#ff8800 121px,#ff7a00 129px,#ff6b00 145px,#ff6000 172px,#ff6300 197px,#ff6d00 221px,#ff6200 246px,#ff6000 273px,#ff6400 287px,#ff6e00 301px,#ff8000 317px,#ff9d00 330px,#ffb700 336px,#fffa00 347px,#fbff00 348px,#93ff00 354px,#36ff00 360px,#03ff00 364px,#00f807 365px,#00c738 371px,#00837c 381px,#006a95 386px,#0040bf 397px,#0030cf 405px,#0025da 433px)"></i><i style="top:82px;height:2.5px;background:linear-gradient(90deg,#0024db 0px,#002fd0 36px,#003bc4 43px,#0057a8 51px,#007f80 60px,#00c13e 70px,#00fa05 77px,#05ff00 78px,#38ff00 82px,#95ff00 88px,#fdff00 94px,#fff900 95px,#ffd800 100px,#ffa800 109px,#ff9a00 113px,#ff8700 121px,#ff7900 129px,#ff6900 145px,#ff6100 159px,#ff5e00 172px,#ff6000 198px,#ff6a00 221px,#ff6000 245px,#ff5e00 273px,#ff6200 286px,#ff6c00 300px,#ff7e00 316px,#ff9a00 329px,#ffb700 336px,#ffd800 342px,#fff900 347px,#fdff00 348px,#95ff00 354px,#38ff00 360px,#05ff00 364px,#00fa05 365px,#00c13e 372px,#00857a 381px,#006c93 386px,#0041be 397px,#0030cf 405px,#0025da 433px)"></i><i style="top:84px;height:2.5px;background:linear-gradient(90deg,#0023dc 0px,#0026d9 15px,#002fd0 35px,#0033cc 39px,#003cc3 43px,#0059a6 51px,#00817e 60px,#00c43b 70px,#00fc03 77px,#13ff00 79px,#4aff00 83px,#98ff00 88px,#ffff00 94px,#ffd700 100px,#ffac00 108px,#ff9a00 113px,#ff8600 121px,#ff7900 129px,#ff6700 146px,#ff5e00 160px,#ff5c00 172px,#ff5e00 198px,#ff6600 221px,#ff5e00 245px,#ff5c00 273px,#ff6000 286px,#ff6b00 300px,#ff7f00 317px,#ff9d00 330px,#ffc100 338px,#ffdd00 343px,#ffff00 348px,#98ff00 354px,#4aff00 359px,#13ff00 363px,#00fc03 365px,#00c43b 372px,#008778 381px,#006e91 386px,#0042bd 397px,#0031ce 405px,#0024db 433px)"></i><i style="top:86px;height:2.5px;background:linear-gradient(90deg,#0023dc 0px,#0026d9 15px,#002fd0 34px,#0034cb 39px,#003dc2 43px,#0056a9 50px,#00847b 60px,#00c639 70px,#00fe01 77px,#22ff00 80px,#4cff00 83px,#9bff00 88px,#f1ff00 93px,#fffe00 94px,#ffd600 100px,#ffac00 108px,#ff9900 113px,#ff8600 121px,#ff7800 129px,#ff6600 146px,#ff5d00 160px,#ff5a00 172px,#ff5c00 199px,#ff6400 221px,#ff5c00 245px,#ff5a00 273px,#ff5e00 285px,#ff6900 299px,#ff7c00 316px,#ff9900 329px,#ffa800 333px,#ffc000 338px,#ffdc00 343px,#fffe00 348px,#f1ff00 349px,#9bff00 354px,#4cff00 359px,#22ff00 362px,#00fe01 365px,#00c639 372px,#008976 381px,#00708f 386px,#0040bf 398px,#0036c9 402px,#0030cf 406px,#0024db 433px)"></i><i style="top:88px;height:2.5px;background:linear-gradient(90deg,#0023dc 0px,#0026d9 15px,#002fd0 34px,#0034cb 39px,#003ec1 43px,#0058a7 50px,#008679 60px,#00c03f 69px,#02ff00 77px,#25ff00 80px,#4fff00 83px,#aeff00 89px,#f3ff00 93px,#fffd00 94px,#ffd500 100px,#ffac00 108px,#ff9900 113px,#ff8500 121px,#ff7700 129px,#ff6400 147px,#ff5c00 160px,#ff5900 172px,#ff6100 221px,#ff5b00 244px,#ff5900 273px,#ff6700 298px,#ff7c00 316px,#ff9900 329px,#ffa700 333px,#ffbf00 338px,#ffdb00 343px,#fffd00 348px,#f3ff00 349px,#aeff00 353px,#4fff00 359px,#25ff00 362px,#02ff00 365px,#00c837 372px,#008c73 381px,#00728d 386px,#0041be 398px,#0036c9 402px,#0031ce 406px,#0024db 433px)"></i><i style="top:90px;height:2.5px;background:linear-gradient(90deg,#0023dc 0px,#002dd2 30px,#0032cd 37px,#003cc3 42px,#0055aa 49px,#008877 60px,#00c23d 69px,#00fa05 76px,#05ff00 77px,#10ff00 78px,#43ff00 82px,#a0ff00 88px,#f6ff00 93px,#fffc00 94px,#ffd400 100px,#ffab00 108px,#ff9900 113px,#ff8300 122px,#ff7600 130px,#ff6300 148px,#ff5a00 161px,#ff5800 172px,#ff5f00 221px,#ff5800 272px,#ff5c00 284px,#ff6600 297px,#ff7b00 316px,#ff9900 329px,#ffab00 334px,#ffc300 339px,#ffda00 343px,#fffc00 348px,#f6ff00 349px,#a0ff00 354px,#43ff00 360px,#10ff00 364px,#05ff00 365px,#00fa05 366px,#00c23d 373px,#008877 382px,#0059a6 392px,#003fc0 399px,#0031ce 406px,#0024db 433px)"></i><i style="top:92px;height:2.5px;background:linear-gradient(90deg,#0023dc 0px,#002dd2 29px,#0033cc 37px,#003dc2 42px,#0057a8 49px,#008a75 60px,#00c43b 69px,#00fc03 76px,#07ff00 77px,#1eff00 79px,#46ff00 82px,#a3ff00 88px,#f8ff00 93px,#fffb00 94px,#ffd300 100px,#ffab00 108px,#ff9900 113px,#ff8300 122px,#ff7700 129px,#ff6300 148px,#ff5a00 161px,#ff5700 172px,#ff5d00 221px,#ff5700 272px,#ff6400 296px,#ff7b00 316px,#ff9900 329px,#ffab00 334px,#ffc300 339px,#ffd900 343px,#fffb00 348px,#f8ff00 349px,#a3ff00 354px,#46ff00 360px,#1eff00 363px,#07ff00 365px,#00fc03 366px,#00c43b 373px,#008a75 382px,#005ba4 392px,#0040bf 399px,#0032cd 406px,#0024db 433px)"></i><i style="top:94px;height:2.5px;background:linear-gradient(90deg,#0023dc 0px,#002cd3 28px,#0033cc 37px,#003ec1 42px,#0058a7 49px,#008c73 60px,#00c639 69px,#00fe01 76px,#21ff00 79px,#49ff00 82px,#a6ff00 88px,#faff00 93px,#fffa00 94px,#ffd200 100px,#ffaf00 107px,#ff9900 113px,#ff8200 122px,#ff7700 129px,#ff6200 148px,#ff5900 161px,#ff5700 172px,#ff5c00 221px,#ff5700 272px,#ff5a00 283px,#ff6400 296px,#ff7b00 316px,#ff9900 329px,#ffab00 334px,#ffc700 340px,#fffa00 348px,#faff00 349px,#a6ff00 354px,#49ff00 360px,#21ff00 363px,#00fe01 366px,#00ce31 372px,#00926d 381px,#00619e 391px,#0041be 399px,#0032cd 406px,#0024db 433px)"></i><i style="top:96px;height:2.5px;background:linear-gradient(90deg,#0023dc 0px,#002bd4 25px,#0034cb 37px,#003cc3 41px,#0056a9 48px,#008e71 60px,#00c13e 68px,#02ff00 76px,#24ff00 79px,#4dff00 82px,#aaff00 88px,#fdff00 93px,#fff900 94px,#ffcb00 101px,#ffae00 107px,#ff9c00 112px,#ff7b00 126px,#ff6700 143px,#ff5c00 157px,#ff5700 169px,#ff5b00 221px,#ff5700 258px,#ff5700 274px,#ff5c00 286px,#ff6a00 302px,#ff7d00 317px,#ff9300 327px,#ffaa00 334px,#ffd000 342px,#fff900 348px,#fdff00 349px,#aaff00 354px,#4dff00 360px,#24ff00 363px,#02ff00 366px,#00c837 373px,#00946b 381px,#005ea1 392px,#0042bd 399px,#0033cc 406px,#0024db 433px)"></i><i style="top:98px;height:2.5px;background:linear-gradient(90deg,#0024db 0px,#002cd3 25px,#0035ca 37px,#003ec1 41px,#0057a8 48px,#00906f 60px,#00c33c 68px,#00fb04 75px,#06ff00 76px,#42ff00 81px,#7eff00 85px,#ffff00 93px,#ffcf00 100px,#ffae00 107px,#ff9300 115px,#ff7d00 125px,#ff6900 141px,#ff5b00 158px,#ff5600 189px,#ff5a00 221px,#ff5700 274px,#ff5d00 287px,#ff6b00 303px,#ff7f00 318px,#ff9f00 331px,#ffca00 341px,#ffff00 349px,#7eff00 357px,#42ff00 361px,#06ff00 366px,#00fb04 367px,#00ca35 373px,#009669 381px,#00609f 392px,#0044bb 399px,#0034cb 406px,#0025da 433px)"></i><i style="top:100px;height:2.5px;background:linear-gradient(90deg,#0025da 0px,#002dd2 25px,#0037c8 37px,#0040bf 41px,#005aa5 48px,#00936c 60px,#00cc33 69px,#00fd02 75px,#20ff00 78px,#46ff00 81px,#82ff00 85px,#f3ff00 92px,#fffd00 93px,#ffce00 100px,#ffad00 107px,#ff9100 116px,#ff7b00 126px,#ff6700 143px,#ff5b00 159px,#ff5600 192px,#ff5700 274px,#ff5d00 287px,#ff6b00 303px,#ff7f00 318px,#ff9f00 331px,#ffc900 341px,#fffd00 349px,#f3ff00 350px,#82ff00 357px,#46ff00 361px,#20ff00 364px,#00fd02 367px,#00cc33 373px,#009867 381px,#00639c 392px,#0046b9 399px,#0036c9 406px,#002cd3 418px,#0026d9 433px)"></i><i style="top:102px;height:2.5px;background:linear-gradient(90deg,#0026d9 0px,#002fd0 25px,#003ac5 37px,#0042bd 41px,#005ca3 48px,#00956a 60px,#00c738 68px,#01ff00 75px,#4bff00 81px,#87ff00 85px,#f7ff00 92px,#fffb00 93px,#ffcd00 100px,#ffad00 107px,#ff8e00 117px,#ff7900 127px,#ff6500 145px,#ff5a00 160px,#ff5600 196px,#ff5700 274px,#ff5e00 288px,#ff6d00 305px,#ff7f00 318px,#ff9f00 331px,#ffc700 341px,#fffb00 349px,#f7ff00 350px,#87ff00 357px,#4bff00 361px,#01ff00 367px,#00ce31 373px,#009b64 381px,#00619e 393px,#0045ba 400px,#003bc4 404px,#0035ca 410px,#0027d8 433px)"></i><i style="top:104px;height:2.5px;background:linear-gradient(90deg,#0027d8 0px,#0031ce 25px,#003cc3 37px,#0045ba 41px,#005fa0 48px,#009768 60px,#00c936 68px,#00fa05 74px,#05ff00 75px,#42ff00 80px,#7cff00 84px,#fbff00 92px,#fffa00 93px,#ffcb00 100px,#ffac00 107px,#ff8e00 117px,#ff7900 127px,#ff6500 145px,#ff5a00 160px,#ff5500 199px,#ff5700 275px,#ff5f00 289px,#ff6f00 306px,#ff8100 319px,#ffa200 332px,#ffc600 341px,#fffa00 349px,#fbff00 350px,#7cff00 358px,#42ff00 362px,#05ff00 367px,#00fa05 368px,#00d02f 373px,#009d62 381px,#00639c 393px,#0048b7 400px,#003cc3 405px,#0036c9 411px,#0029d6 433px)"></i><i style="top:106px;height:2.5px;background:linear-gradient(90deg,#0029d6 0px,#0033cc 25px,#003fc0 37px,#0048b7 41px,#006699 49px,#009f60 61px,#00d22d 69px,#00fd02 74px,#14ff00 76px,#54ff00 81px,#ffff00 92px,#fff800 93px,#ffc500 101px,#ffa200 110px,#ff7f00 124px,#ff6c00 138px,#ff5e00 154px,#ff5700 168px,#ff5500 246px,#ff5b00 283px,#ff6700 299px,#ff7b00 316px,#ff9400 327px,#ffb000 336px,#ffca00 342px,#ffff00 350px,#54ff00 361px,#14ff00 366px,#00fd02 368px,#00d22d 373px,#009f60 381px,#006699 393px,#004bb4 400px,#003fc0 405px,#0038c7 412px,#002ad5 433px)"></i><i style="top:108px;height:2.5px;background:linear-gradient(90deg,#002bd4 0px,#0035ca 24px,#0041be 36px,#004bb4 41px,#006996 49px,#00a25d 61px,#00d42b 69px,#01ff00 74px,#59ff00 81px,#f3ff00 91px,#fffd00 92px,#ffc900 100px,#ffaf00 106px,#ff8e00 117px,#ff7800 128px,#ff6500 146px,#ff5900 162px,#ff5400 204px,#ff5800 276px,#ff6100 292px,#ff7500 312px,#ff8700 322px,#ffab00 335px,#ffc900 342px,#fffd00 350px,#f3ff00 351px,#59ff00 361px,#01ff00 368px,#00d42b 373px,#00a25d 381px,#006996 393px,#004eb1 400px,#0042bd 405px,#003ac5 412px,#002cd3 433px)"></i><i style="top:110px;height:2.5px;background:linear-gradient(90deg,#002dd2 0px,#0037c8 24px,#0044bb 36px,#004fb0 41px,#006c93 49px,#00a45b 61px,#00cf30 68px,#00f906 73px,#04ff00 74px,#50ff00 80px,#8aff00 84px,#f7ff00 91px,#fffb00 92px,#ffcd00 99px,#ffb200 105px,#ff8f00 117px,#ff7800 128px,#ff6500 146px,#ff5a00 162px,#ff5400 207px,#ff5800 276px,#ff6100 292px,#ff7500 312px,#ff8a00 323px,#ffae00 336px,#ffc700 342px,#fffb00 350px,#f7ff00 351px,#8aff00 358px,#50ff00 362px,#04ff00 368px,#00f906 369px,#00cf30 374px,#00a45b 381px,#006c93 393px,#0052ad 400px,#0046b9 405px,#003dc2 412px,#002fd0 433px)"></i><i style="top:112px;height:2.5px;background:linear-gradient(90deg,#002fd0 0px,#0039c6 23px,#0047b8 36px,#0052ad 41px,#006f90 49px,#00a758 61px,#00d12e 68px,#00fb04 73px,#08ff00 74px,#55ff00 80px,#fbff00 91px,#fffa00 92px,#ffcc00 99px,#ffb100 105px,#ff8f00 117px,#ff7800 128px,#ff6500 146px,#ff5a00 162px,#ff5300 209px,#ff5800 276px,#ff6200 293px,#ff7500 312px,#ff8700 322px,#ffae00 336px,#ffc600 342px,#fffa00 350px,#fbff00 351px,#55ff00 362px,#08ff00 368px,#00fb04 369px,#00d12e 374px,#00a758 381px,#006f90 393px,#0055aa 400px,#0049b6 405px,#003fc0 413px,#0031ce 433px)"></i><i style="top:114px;height:2.5px;background:linear-gradient(90deg,#0031ce 0px,#0034cb 11px,#003cc3 23px,#004bb4 36px,#0055aa 41px,#00728d 49px,#00a956 61px,#00d42b 68px,#00fe01 73px,#67ff00 81px,#feff00 91px,#fff800 92px,#ffc500 100px,#ffad00 106px,#ff8500 121px,#ff7400 131px,#ff6100 150px,#ff5800 167px,#ff5300 235px,#ff5a00 280px,#ff6500 296px,#ff7800 314px,#ff8f00 325px,#ffb400 338px,#ffca00 343px,#feff00 351px,#67ff00 361px,#00fe01 369px,#00db24 373px,#00ae51 380px,#007788 392px,#0058a7 400px,#004cb3 405px,#0042bd 413px,#0033cc 433px)"></i><i style="top:116px;height:2.5px;background:linear-gradient(90deg,#0033cc 0px,#003ec1 22px,#004eb1 36px,#0058a7 41px,#00758a 49px,#00ac53 61px,#00d629 68px,#02ff00 73px,#6cff00 81px,#fffe00 91px,#ffc900 99px,#ffb300 104px,#ff8c00 118px,#ff7700 129px,#ff6300 148px,#ff5900 164px,#ff5300 214px,#ff5900 277px,#ff6300 294px,#ff7700 313px,#ff8c00 324px,#ffb300 338px,#ffc900 343px,#fffe00 351px,#6cff00 361px,#02ff00 369px,#00d629 374px,#00b14e 380px,#007986 392px,#005ba4 400px,#004fb0 405px,#0045ba 413px,#0035ca 433px)"></i><i style="top:118px;height:2.5px;background:linear-gradient(90deg,#0035ca 0px,#0038c7 11px,#0040bf 22px,#0051ae 36px,#005ba4 41px,#007887 49px,#00ae51 61px,#00d827 68px,#00f906 72px,#05ff00 73px,#1fff00 75px,#7eff00 82px,#f5ff00 90px,#fffc00 91px,#ffc800 99px,#ffb300 104px,#ff8a00 119px,#ff7700 129px,#ff6400 147px,#ff5900 164px,#ff5200 216px,#ff5900 277px,#ff6300 294px,#ff7700 313px,#ff8a00 323px,#ffb300 338px,#ffc800 343px,#fffc00 351px,#f5ff00 352px,#7eff00 360px,#1fff00 367px,#05ff00 369px,#00f906 370px,#00d827 374px,#00ae51 381px,#007887 393px,#005ea1 400px,#0052ad 405px,#0048b7 413px,#0037c8 433px)"></i><i style="top:120px;height:2.5px;background:linear-gradient(90deg,#0037c8 0px,#0042bd 21px,#0054ab 36px,#005ea1 41px,#007b84 49px,#00b04f 61px,#00da25 68px,#00fc03 72px,#15ff00 74px,#74ff00 81px,#f8ff00 90px,#fffb00 91px,#ffc700 99px,#ffb200 104px,#ff8a00 119px,#ff7700 129px,#ff6300 148px,#ff5900 165px,#ff5200 224px,#ff5900 278px,#ff6400 295px,#ff7700 313px,#ff8a00 323px,#ffb200 338px,#ffc700 343px,#fffb00 351px,#f8ff00 352px,#74ff00 361px,#15ff00 368px,#00fc03 370px,#00da25 374px,#00b04f 381px,#007b84 393px,#00619e 400px,#0055aa 405px,#004bb4 413px,#0039c6 433px)"></i><i style="top:122px;height:2.5px;background:linear-gradient(90deg,#0039c6 0px,#003cc3 10px,#0044bb 21px,#0056a9 36px,#00619e 41px,#007986 48px,#00b34c 61px,#00dc23 68px,#00fe01 72px,#86ff00 82px,#faff00 90px,#fffa00 91px,#ffc700 99px,#ffb200 104px,#ff8a00 119px,#ff7700 129px,#ff6300 148px,#ff5900 165px,#ff5200 220px,#ff5900 277px,#ff6300 294px,#ff7700 313px,#ff8a00 323px,#ffb200 338px,#ffc700 343px,#fffa00 351px,#faff00 352px,#86ff00 360px,#00fe01 370px,#00dc23 374px,#00b847 380px,#00827d 392px,#00649b 400px,#0058a7 405px,#004db2 413px,#003bc4 433px)"></i><i style="top:124px;height:2.5px;background:linear-gradient(90deg,#003bc4 0px,#003ec1 10px,#0046b9 21px,#0058a7 36px,#00639c 41px,#007c83 48px,#00b54a 61px,#00d728 67px,#02ff00 72px,#97ff00 83px,#fbff00 90px,#fffa00 91px,#ffc600 99px,#ffb500 103px,#ff8a00 119px,#ff7700 129px,#ff6300 148px,#ff5900 165px,#ff5200 221px,#ff5900 277px,#ff6300 294px,#ff7700 313px,#ff8a00 323px,#ffb500 339px,#ffc600 343px,#fffa00 351px,#fbff00 352px,#97ff00 359px,#02ff00 370px,#00de21 374px,#00ba45 380px,#00807f 393px,#006699 400px,#005aa5 405px,#004fb0 413px,#003dc2 433px)"></i><i style="top:126px;height:2.5px;background:linear-gradient(90deg,#003cc3 0px,#0047b8 20px,#0057a8 34px,#00629d 40px,#007e81 48px,#00b748 61px,#00d926 67px,#00f906 71px,#04ff00 72px,#11ff00 73px,#fbff00 90px,#fffa00 91px,#ffc600 99px,#ffb500 103px,#ff8a00 119px,#ff7700 129px,#ff6300 148px,#ff5900 165px,#ff5200 221px,#ff5900 277px,#ff6300 294px,#ff7700 313px,#ff8a00 323px,#ffb500 339px,#ffc600 343px,#fffa00 351px,#fbff00 352px,#11ff00 369px,#04ff00 370px,#00f906 371px,#00d926 375px,#00b748 381px,#007e81 394px,#00659a 401px,#005ba4 405px,#004eb1 415px,#003fc0 433px)"></i><i style="top:128px;height:2.5px;background:linear-gradient(90deg,#003ec1 0px,#0048b7 20px,#0058a7 34px,#00639c 40px,#007b84 47px,#00b946 61px,#00db24 67px,#00fa05 71px,#06ff00 72px,#13ff00 73px,#fbff00 90px,#fffa00 91px,#ffc600 99px,#ffb500 103px,#ff8a00 119px,#ff7700 129px,#ff6300 148px,#ff5900 165px,#ff5200 221px,#ff5900 277px,#ff6300 294px,#ff7700 313px,#ff8a00 323px,#ffb500 339px,#ffc600 343px,#fffa00 351px,#fbff00 352px,#13ff00 369px,#06ff00 370px,#00fa05 371px,#00db24 375px,#00b946 381px,#007f80 394px,#006699 401px,#005ca3 405px,#004fb0 415px,#0040bf 433px)"></i><i style="top:130px;height:2.5px;background:linear-gradient(90deg,#003ec1 0px,#0048b7 20px,#0059a6 34px,#00649b 40px,#007c83 47px,#00bb44 61px,#00dd22 67px,#00fc03 71px,#15ff00 73px,#fbff00 90px,#fffa00 91px,#ffc600 99px,#ffb500 103px,#ff8a00 119px,#ff7700 129px,#ff6300 148px,#ff5900 165px,#ff5200 221px,#ff5900 277px,#ff6300 294px,#ff7700 313px,#ff8a00 323px,#ffb500 339px,#ffc600 343px,#fffa00 351px,#fbff00 352px,#15ff00 369px,#00fc03 371px,#00dd22 375px,#00bb44 381px,#00807f 394px,#006798 401px,#005da2 405px,#0051ae 414px,#0041be 433px)"></i><i style="top:132px;height:2.5px;background:linear-gradient(90deg,#003fc0 0px,#0049b6 20px,#0059a6 34px,#00659a 40px,#007d82 47px,#00bd42 61px,#00de21 67px,#00fe01 71px,#17ff00 73px,#5dff00 78px,#c3ff00 86px,#fbff00 90px,#fffa00 91px,#ffc600 99px,#ffb500 103px,#ff8a00 119px,#ff7700 129px,#ff6300 148px,#ff5900 165px,#ff5200 221px,#ff5900 277px,#ff6300 294px,#ff7700 313px,#ff8a00 323px,#ffb500 339px,#ffc600 343px,#fffa00 351px,#fbff00 352px,#c3ff00 356px,#5dff00 364px,#17ff00 369px,#00fe01 371px,#00de21 375px,#00bd42 381px,#00827d 394px,#006798 401px,#005ea1 405px,#0052ad 414px,#0042bd 433px)"></i><i style="top:134px;height:2.5px;background:linear-gradient(90deg,#0041be 0px,#004bb4 20px,#005ca3 35px,#006699 40px,#007f80 47px,#00bf40 61px,#00e11e 67px,#01ff00 71px,#6dff00 79px,#d0ff00 87px,#fbff00 90px,#fffa00 91px,#ffc600 99px,#ffb500 103px,#ff8a00 119px,#ff7700 129px,#ff6300 148px,#ff5900 165px,#ff5200 221px,#ff5900 277px,#ff6300 294px,#ff7700 313px,#ff8a00 323px,#ffb500 339px,#ffc600 343px,#fffa00 351px,#fbff00 352px,#d0ff00 355px,#6dff00 363px,#01ff00 371px,#00e11e 375px,#00bf40 381px,#007f80 395px,#006996 401px,#005fa0 405px,#0053ac 414px,#0043bc 433px)"></i><i style="top:136px;height:2.5px;background:linear-gradient(90deg,#0047b8 0px,#0052ad 19px,#006d92 39px,#00857a 46px,#00c13e 59px,#00da25 64px,#00fa05 69px,#04ff00 70px,#0eff00 71px,#69ff00 78px,#c7ff00 86px,#fbff00 90px,#fffa00 91px,#ffc800 99px,#ffb700 103px,#ff8c00 119px,#ff7900 129px,#ff6500 148px,#ff5900 165px,#ff5100 221px,#ff5900 277px,#ff6500 294px,#ff7900 313px,#ff8c00 323px,#ffb700 339px,#ffc800 343px,#fffa00 351px,#fbff00 352px,#c7ff00 356px,#69ff00 364px,#0eff00 371px,#04ff00 372px,#00fa05 373px,#00e01f 377px,#00c53a 382px,#008976 395px,#00708f 402px,#0059a6 416px,#004ab5 433px)"></i><i style="top:138px;height:2.5px;background:linear-gradient(90deg,#005da2 0px,#00738c 18px,#009768 38px,#00bd42 49px,#01ff00 63px,#38ff00 70px,#8bff00 78px,#d5ff00 86px,#ffff00 90px,#ffce00 99px,#ffb700 106px,#ff9000 123px,#ff7700 139px,#ff6400 155px,#ff5b00 168px,#ff4f00 221px,#ff5b00 274px,#ff6400 287px,#ff7700 303px,#ff9000 319px,#ffb700 336px,#ffce00 343px,#ffff00 352px,#d5ff00 356px,#8bff00 364px,#38ff00 372px,#01ff00 379px,#00c13e 392px,#009d62 402px,#00807f 416px,#006699 433px)"></i><i style="top:140px;height:2.5px;background:linear-gradient(90deg,#00748b 0px,#00916e 16px,#00ba45 34px,#00da25 45px,#00fd02 54px,#0fff00 57px,#3bff00 64px,#9cff00 76px,#fbff00 89px,#fffd00 90px,#ffd200 100px,#ffb500 111px,#ff9900 125px,#ff6f00 151px,#ff5b00 171px,#ff5000 199px,#ff4d00 221px,#ff5000 243px,#ff5b00 271px,#ff6f00 291px,#ff9900 317px,#ffb500 331px,#ffd200 342px,#fffd00 352px,#fbff00 353px,#9cff00 366px,#3bff00 378px,#03ff00 387px,#00fd02 388px,#00dd22 396px,#00c23d 405px,#00837c 433px)"></i><i style="top:142px;height:2.5px;background:linear-gradient(90deg,#007986 0px,#009768 15px,#00bf40 32px,#00de21 43px,#00ff00 52px,#40ff00 63px,#9bff00 75px,#fcff00 89px,#fffd00 90px,#ffd500 100px,#ffb500 112px,#ff9900 126px,#ff6d00 153px,#ff6000 165px,#ff5900 177px,#ff4f00 201px,#ff4c00 221px,#ff4f00 241px,#ff5900 265px,#ff6000 277px,#ff6d00 289px,#ff9900 316px,#ffb500 330px,#ffd500 342px,#fffd00 352px,#fcff00 353px,#9bff00 367px,#40ff00 379px,#00ff00 390px,#00e51a 397px,#00ca35 406px,#008a75 433px)"></i><i style="top:144px;height:2.5px;background:linear-gradient(90deg,#007a85 0px,#009a65 15px,#00c33c 32px,#00df20 42px,#00fe01 51px,#19ff00 56px,#43ff00 63px,#9cff00 75px,#fcff00 89px,#fffd00 90px,#ffd300 101px,#ffb300 113px,#ff9900 126px,#ff6d00 153px,#ff6000 165px,#ff5900 177px,#ff5000 200px,#ff4c00 221px,#ff5000 242px,#ff5900 265px,#ff6000 277px,#ff6d00 289px,#ff9900 316px,#ffb300 329px,#ffd300 341px,#fffd00 352px,#fcff00 353px,#9cff00 367px,#43ff00 379px,#19ff00 386px,#00fe01 391px,#00cb34 407px,#008c73 433px)"></i><i style="top:146px;height:2.5px;background:linear-gradient(90deg,#007b84 0px,#00c639 32px,#00e21d 42px,#00fe01 50px,#17ff00 55px,#46ff00 63px,#9cff00 75px,#fbff00 89px,#fffd00 90px,#ffd100 102px,#ffb100 114px,#ff8d00 133px,#ff6d00 153px,#ff6000 165px,#ff5900 177px,#ff5000 200px,#ff4c00 221px,#ff5000 242px,#ff5900 265px,#ff6000 277px,#ff6d00 289px,#ff8d00 309px,#ffb100 328px,#ffd100 340px,#fffd00 352px,#fbff00 353px,#9cff00 367px,#46ff00 379px,#03ff00 391px,#00fe01 392px,#00ce31 407px,#008e71 433px)"></i><i style="top:148px;height:2.5px;background:linear-gradient(90deg,#007d82 0px,#00c837 32px,#02ff00 50px,#49ff00 63px,#9dff00 75px,#fffd00 90px,#ffcc00 104px,#ffb100 114px,#ff8d00 133px,#ff6d00 153px,#ff6000 165px,#ff5900 177px,#ff5000 199px,#ff4c00 221px,#ff5000 243px,#ff5900 265px,#ff6000 277px,#ff6d00 289px,#ff8d00 309px,#ffb100 328px,#ffcc00 338px,#fffd00 352px,#9dff00 367px,#49ff00 379px,#02ff00 392px,#00d02f 407px,#00906f 433px)"></i><i style="top:150px;height:2.5px;background:linear-gradient(90deg,#007e81 0px,#00cd32 33px,#00ff00 49px,#1eff00 55px,#4bff00 63px,#fffd00 90px,#ffcc00 104px,#ffb100 114px,#ff8d00 133px,#ff6c00 153px,#ff6000 164px,#ff5900 177px,#ff5000 199px,#ff4c00 221px,#ff5000 243px,#ff5900 265px,#ff6000 278px,#ff6c00 289px,#ff8d00 309px,#ffb100 328px,#ffcc00 338px,#fffd00 352px,#4bff00 379px,#1eff00 387px,#00ff00 393px,#00d32c 407px,#00926d 433px)"></i><i style="top:152px;height:2.5px;background:linear-gradient(90deg,#007e81 0px,#00cf30 33px,#00fe01 48px,#1bff00 54px,#54ff00 64px,#fffe00 90px,#ffca00 105px,#ffaf00 115px,#ff8900 135px,#ff6c00 153px,#ff6000 164px,#ff5800 177px,#ff5000 199px,#ff4c00 221px,#ff5000 243px,#ff5800 265px,#ff6000 278px,#ff6c00 289px,#ff8900 307px,#ffaf00 327px,#ffca00 337px,#fffe00 352px,#54ff00 378px,#21ff00 387px,#03ff00 393px,#00fe01 394px,#00d22d 408px,#00936c 433px)"></i><i style="top:154px;height:2.5px;background:linear-gradient(90deg,#007f80 0px,#00d42b 34px,#01ff00 48px,#1eff00 54px,#56ff00 64px,#fffe00 90px,#ffca00 105px,#ffaf00 115px,#ff8700 136px,#ff6c00 153px,#ff6000 164px,#ff5800 178px,#ff5000 199px,#ff4c00 221px,#ff5000 243px,#ff5800 264px,#ff6000 278px,#ff6c00 289px,#ff8700 306px,#ffaf00 327px,#ffca00 337px,#fffe00 352px,#56ff00 378px,#1eff00 388px,#01ff00 394px,#00d728 407px,#00946b 433px)"></i><i style="top:156px;height:2.5px;background:linear-gradient(90deg,#00807f 0px,#00d52a 34px,#00fe01 47px,#1bff00 53px,#57ff00 64px,#ffff00 90px,#ffca00 105px,#ffb200 114px,#ff8a00 134px,#ff6d00 152px,#ff6000 163px,#ff5900 176px,#ff5000 199px,#ff4c00 221px,#ff5000 243px,#ff5900 266px,#ff6000 279px,#ff6d00 290px,#ff8a00 308px,#ffb200 328px,#ffca00 337px,#ffff00 352px,#5dff00 377px,#20ff00 388px,#03ff00 394px,#00fe01 395px,#00d827 407px,#00956a 433px)"></i><i style="top:158px;height:2.5px;background:linear-gradient(90deg,#00807f 0px,#00d728 34px,#00ff00 47px,#1dff00 53px,#59ff00 64px,#ffff00 90px,#fffc00 91px,#ffc700 106px,#ffb000 115px,#ff8500 137px,#ff6b00 153px,#ff5f00 164px,#ff5700 179px,#ff4f00 200px,#ff4d00 222px,#ff5000 244px,#ff5900 267px,#ff6000 279px,#ff6c00 290px,#ff8800 307px,#ffb200 328px,#ffca00 337px,#ffff00 352px,#5fff00 377px,#22ff00 388px,#00ff00 395px,#00dc23 406px,#009669 433px)"></i><i style="top:160px;height:2.5px;background:linear-gradient(90deg,#00817e 0px,#00d827 34px,#02ff00 47px,#1eff00 53px,#60ff00 65px,#feff00 90px,#fffc00 91px,#ffc700 106px,#ffb000 115px,#ff8400 137px,#ff6a00 153px,#ff5f00 164px,#ff5700 178px,#ff4f00 200px,#ff4c00 221px,#ff4f00 242px,#ff5700 264px,#ff5f00 278px,#ff6a00 289px,#ff8400 305px,#ffb000 327px,#ffc700 336px,#fffc00 351px,#feff00 352px,#60ff00 377px,#1eff00 389px,#02ff00 395px,#00db24 407px,#009768 433px)"></i><i style="top:162px;height:2.5px;background:linear-gradient(90deg,#00817e 0px,#00dc23 35px,#00fe01 46px,#1bff00 52px,#61ff00 65px,#fcff00 90px,#fffd00 91px,#ffc800 106px,#ffb200 114px,#ff8400 137px,#ff6a00 153px,#ff5e00 164px,#ff5700 179px,#ff4c00 221px,#ff5700 263px,#ff5e00 278px,#ff6a00 289px,#ff8400 305px,#ffb200 328px,#ffc800 336px,#fffd00 351px,#fcff00 352px,#61ff00 377px,#1bff00 390px,#00fe01 396px,#00de21 406px,#009867 433px)"></i><i style="top:164px;height:2.5px;background:linear-gradient(90deg,#00817e 0px,#00dd22 35px,#00ff00 46px,#21ff00 53px,#67ff00 66px,#fffe00 91px,#ffc800 106px,#ffb200 114px,#ff8600 136px,#ff6b00 152px,#ff5f00 163px,#ff5700 177px,#ff4f00 199px,#ff4c00 221px,#ff4f00 243px,#ff5700 265px,#ff5f00 279px,#ff6b00 290px,#ff8600 306px,#ffb200 328px,#ffc800 336px,#fffe00 351px,#67ff00 376px,#21ff00 389px,#00ff00 396px,#00df20 406px,#009966 433px)"></i><i style="top:166px;height:2.5px;background:linear-gradient(90deg,#00827d 0px,#00dd22 35px,#01ff00 46px,#22ff00 53px,#68ff00 66px,#fffe00 91px,#ffc800 106px,#ffb200 114px,#ff8400 137px,#ff6b00 152px,#ff5f00 163px,#ff5700 177px,#ff4f00 200px,#ff4c00 221px,#ff4f00 242px,#ff5700 265px,#ff5f00 279px,#ff6b00 290px,#ff8400 305px,#ffb200 328px,#ffc800 336px,#fffe00 351px,#68ff00 376px,#22ff00 389px,#01ff00 396px,#00dd22 407px,#009966 433px)"></i><i style="top:168px;height:2.5px;background:linear-gradient(90deg,#00827d 0px,#00de21 35px,#02ff00 46px,#23ff00 53px,#68ff00 66px,#ffff00 91px,#ffc800 106px,#ffb200 114px,#ff8300 137px,#ff6a00 152px,#ff5e00 163px,#ff5700 177px,#ff4c00 221px,#ff5700 265px,#ff5e00 279px,#ff6a00 290px,#ff8300 305px,#ffb200 328px,#ffc800 336px,#ffff00 351px,#68ff00 376px,#23ff00 389px,#02ff00 396px,#00de21 407px,#009a65 433px)"></i><i style="top:170px;height:2.5px;background:linear-gradient(90deg,#00827d 0px,#00df20 35px,#00fe01 45px,#1fff00 52px,#63ff00 65px,#fdff00 91px,#fffd00 92px,#ffcc00 105px,#ffb200 114px,#ff8300 137px,#ff6a00 152px,#ff5e00 163px,#ff5700 177px,#ff4c00 221px,#ff5700 265px,#ff5e00 279px,#ff6a00 290px,#ff8300 305px,#ffb200 328px,#ffcc00 337px,#fffd00 350px,#fdff00 351px,#63ff00 377px,#03ff00 396px,#00fe01 397px,#00e21d 406px,#009a65 433px)"></i><i style="top:172px;height:2.5px;background:linear-gradient(90deg,#00837c 0px,#00e01f 35px,#00ff00 45px,#20ff00 52px,#63ff00 65px,#c3ff00 81px,#fffe00 92px,#ffc900 106px,#ffb300 114px,#ff8300 137px,#ff6a00 152px,#ff5e00 163px,#ff5700 177px,#ff4c00 221px,#ff5700 265px,#ff5e00 279px,#ff6a00 290px,#ff8300 305px,#ffb300 328px,#ffc900 336px,#fffe00 350px,#c3ff00 361px,#63ff00 377px,#20ff00 390px,#00ff00 397px,#00e21d 406px,#009b64 433px)"></i><i style="top:174px;height:2.5px;background:linear-gradient(90deg,#00837c 0px,#00e01f 35px,#00ff00 45px,#25ff00 53px,#64ff00 65px,#c2ff00 81px,#fffe00 92px,#ffc900 106px,#ffb300 114px,#ff8300 137px,#ff6a00 152px,#ff5e00 163px,#ff5600 178px,#ff4c00 221px,#ff5600 264px,#ff5e00 279px,#ff6a00 290px,#ff8300 305px,#ffb300 328px,#ffc900 336px,#fffe00 350px,#c2ff00 361px,#64ff00 377px,#25ff00 389px,#00ff00 397px,#00e01f 407px,#009b64 433px)"></i><i style="top:176px;height:2.5px;background:linear-gradient(90deg,#00847b 0px,#01ff00 45px,#26ff00 53px,#59ff00 63px,#c8ff00 82px,#ffff00 92px,#fffc00 93px,#ffca00 106px,#ffb300 114px,#ff8300 137px,#ff6900 152px,#ff5e00 163px,#ff5600 179px,#ff4d00 222px,#ff5700 265px,#ff5e00 279px,#ff6900 290px,#ff8300 305px,#ffb300 328px,#ffca00 336px,#ffff00 350px,#bdff00 362px,#64ff00 377px,#26ff00 389px,#01ff00 397px,#009c63 433px)"></i><i style="top:178px;height:2.5px;background:linear-gradient(90deg,#00847b 0px,#02ff00 45px,#54ff00 62px,#c2ff00 81px,#fdff00 92px,#fffd00 93px,#ffca00 106px,#ffb100 115px,#ff8300 137px,#ff6900 152px,#ff5e00 163px,#ff5600 178px,#ff4c00 221px,#ff5600 264px,#ff5e00 279px,#ff6900 290px,#ff8300 305px,#ffb100 327px,#ffca00 336px,#fffd00 349px,#fdff00 350px,#c2ff00 361px,#54ff00 380px,#02ff00 397px,#009c63 433px)"></i><i style="top:180px;height:2.5px;background:linear-gradient(90deg,#00857a 0px,#00e01f 34px,#00ff00 44px,#22ff00 52px,#4fff00 61px,#74ff00 68px,#c2ff00 81px,#fffe00 93px,#ffcb00 106px,#ffb100 115px,#ff8300 137px,#ff6a00 152px,#ff5e00 163px,#ff5700 178px,#ff4d00 221px,#ff5700 264px,#ff5e00 279px,#ff6a00 290px,#ff8300 305px,#ffb100 327px,#ffcb00 336px,#fffe00 349px,#c2ff00 361px,#74ff00 374px,#4fff00 381px,#22ff00 390px,#00ff00 398px,#009d62 433px)"></i><i style="top:182px;height:2.5px;background:linear-gradient(90deg,#00857a 0px,#01ff00 44px,#27ff00 53px,#4fff00 61px,#74ff00 68px,#bcff00 80px,#ffff00 93px,#ffcc00 106px,#ffb200 115px,#ff8600 136px,#ff6b00 152px,#ff5f00 163px,#ff5800 178px,#ff4e00 221px,#ff5800 264px,#ff5f00 279px,#ff6b00 290px,#ff8600 306px,#ffb200 327px,#ffcc00 336px,#ffff00 349px,#bcff00 362px,#74ff00 374px,#4fff00 381px,#27ff00 389px,#01ff00 398px,#009d62 433px)"></i><i style="top:184px;height:2.5px;background:linear-gradient(90deg,#008679 0px,#02ff00 44px,#3fff00 58px,#6eff00 67px,#c1ff00 81px,#feff00 93px,#fffd00 94px,#ffce00 106px,#ffb400 115px,#ff8800 136px,#ff6d00 152px,#ff6100 163px,#ff5a00 178px,#ff4f00 221px,#ff5a00 264px,#ff6100 279px,#ff6d00 290px,#ff8800 306px,#ffb400 327px,#ffce00 336px,#fffd00 348px,#feff00 349px,#c1ff00 361px,#6eff00 375px,#3fff00 384px,#02ff00 398px,#009e61 433px)"></i><i style="top:186px;height:2.5px;background:linear-gradient(90deg,#008679 0px,#00fe01 43px,#3fff00 58px,#6eff00 67px,#bbff00 80px,#fffe00 94px,#ffd000 106px,#ffb300 116px,#ff8a00 136px,#ff6f00 152px,#ff6300 163px,#ff5c00 178px,#ff5100 221px,#ff5c00 264px,#ff6300 279px,#ff6f00 290px,#ff8a00 306px,#ffb300 326px,#ffd000 336px,#fffe00 348px,#bbff00 362px,#6eff00 375px,#3fff00 384px,#00fe01 399px,#009f60 433px)"></i><i style="top:188px;height:2.5px;background:linear-gradient(90deg,#008778 0px,#00ff00 43px,#44ff00 59px,#6dff00 67px,#baff00 80px,#ffff00 94px,#ffd200 106px,#ffb600 116px,#ff8f00 135px,#ff7200 152px,#ff6700 163px,#ff5e00 179px,#ff5400 221px,#ff5e00 263px,#ff6700 279px,#ff7200 290px,#ff8f00 307px,#ffb600 326px,#ffd200 336px,#ffff00 348px,#baff00 362px,#6dff00 375px,#44ff00 383px,#00ff00 399px,#009f60 433px)"></i><i style="top:190px;height:2.5px;background:linear-gradient(90deg,#008778 0px,#02ff00 43px,#3aff00 57px,#6dff00 67px,#b9ff00 80px,#feff00 94px,#fffd00 95px,#ffd400 106px,#ffb600 117px,#ff8e00 137px,#ff7400 153px,#ff6900 164px,#ff6100 181px,#ff5700 221px,#ff6100 261px,#ff6900 278px,#ff7400 289px,#ff8e00 305px,#ffb600 325px,#ffd400 336px,#fffd00 347px,#feff00 348px,#b9ff00 362px,#6dff00 375px,#3aff00 385px,#02ff00 399px,#009f60 433px)"></i><i style="top:192px;height:2.5px;background:linear-gradient(90deg,#008877 0px,#00fe01 42px,#3aff00 57px,#6cff00 67px,#b8ff00 80px,#fffe00 95px,#ffd700 106px,#ffb900 117px,#ff9300 136px,#ff7800 153px,#ff6d00 164px,#ff6400 182px,#ff5a00 221px,#ff6400 260px,#ff6d00 278px,#ff7800 289px,#ff9300 306px,#ffb900 325px,#ffd700 336px,#fffe00 347px,#b8ff00 362px,#6cff00 375px,#44ff00 383px,#03ff00 399px,#00fe01 400px,#00a05f 433px)"></i><i style="top:194px;height:2.5px;background:linear-gradient(90deg,#008877 0px,#00d22d 27px,#00ff00 42px,#48ff00 60px,#6cff00 67px,#b7ff00 80px,#ffff00 95px,#ffd700 107px,#ffba00 118px,#ff9700 136px,#ff7d00 153px,#ff7100 164px,#ff6800 183px,#ff5e00 221px,#ff6800 259px,#ff7100 278px,#ff7d00 289px,#ff9700 306px,#ffba00 324px,#ffd700 335px,#ffff00 347px,#b7ff00 362px,#6cff00 375px,#48ff00 382px,#00ff00 400px,#00a05f 433px)"></i><i style="top:196px;height:2.5px;background:linear-gradient(90deg,#008976 0px,#01ff00 42px,#48ff00 60px,#6bff00 67px,#b6ff00 80px,#fffd00 96px,#ffda00 107px,#ffbc00 119px,#ff9a00 137px,#ff8000 154px,#ff7500 165px,#ff6b00 185px,#ff6200 221px,#ff6b00 257px,#ff7500 277px,#ff8000 288px,#ff9a00 305px,#ffbc00 323px,#ffda00 335px,#fffd00 346px,#b6ff00 362px,#6bff00 375px,#48ff00 382px,#01ff00 400px,#00a15e 433px)"></i><i style="top:198px;height:2.5px;background:linear-gradient(90deg,#008976 0px,#02ff00 42px,#3aff00 57px,#4dff00 61px,#70ff00 68px,#b5ff00 80px,#ffff00 96px,#ffdd00 107px,#ffbd00 120px,#ff9c00 138px,#ff8500 154px,#ff7a00 165px,#ff6f00 185px,#ff6600 221px,#ff6f00 257px,#ff7a00 277px,#ff8500 288px,#ff9c00 304px,#ffbd00 322px,#ffdd00 335px,#ffff00 346px,#b5ff00 362px,#70ff00 374px,#4dff00 381px,#3aff00 385px,#02ff00 400px,#00a15e 433px)"></i><i style="top:200px;height:2.5px;background:linear-gradient(90deg,#008a75 0px,#00c837 23px,#00fe01 41px,#3aff00 57px,#4cff00 61px,#69ff00 67px,#b3ff00 80px,#fffd00 97px,#ffe000 107px,#ffbf00 121px,#ff9f00 139px,#ff8800 155px,#ff7e00 166px,#ff7300 187px,#ff6a00 221px,#ff7300 255px,#ff7e00 276px,#ff8800 287px,#ff9f00 303px,#ffbf00 321px,#ffe000 335px,#fffd00 345px,#b3ff00 362px,#69ff00 375px,#4cff00 381px,#3aff00 385px,#00fe01 401px,#00a15e 433px)"></i><i style="top:202px;height:2.5px;background:linear-gradient(90deg,#008a75 0px,#00c936 23px,#00ff00 41px,#3aff00 57px,#50ff00 62px,#6eff00 68px,#b2ff00 80px,#ffff00 97px,#ffdb00 110px,#ffbf00 123px,#ff8d00 155px,#ff8300 166px,#ff7700 188px,#ff6e00 221px,#ff7700 254px,#ff8300 276px,#ff8d00 287px,#ffbf00 319px,#ffdb00 332px,#ffff00 345px,#b2ff00 362px,#6eff00 374px,#50ff00 380px,#3aff00 385px,#00ff00 401px,#00a25d 433px)"></i><i style="top:204px;height:2.5px;background:linear-gradient(90deg,#008b74 0px,#00c33c 21px,#01ff00 41px,#3aff00 57px,#50ff00 62px,#6dff00 68px,#b1ff00 80px,#fffe00 98px,#ffda00 112px,#ffbf00 125px,#ff9100 156px,#ff8700 167px,#ff7b00 189px,#ff7200 221px,#ff7b00 253px,#ff8700 275px,#ff9100 286px,#ffbf00 317px,#ffda00 330px,#fffe00 344px,#b1ff00 362px,#6dff00 374px,#50ff00 380px,#3aff00 385px,#01ff00 401px,#00a25d 433px)"></i><i style="top:206px;height:2.5px;background:linear-gradient(90deg,#008b74 0px,#00c13e 20px,#02ff00 41px,#3aff00 57px,#4fff00 62px,#6cff00 68px,#afff00 80px,#feff00 98px,#fffd00 99px,#ffc100 126px,#ff9500 157px,#ff7e00 192px,#ff7600 222px,#ff7f00 253px,#ff8b00 274px,#ff9600 286px,#ffc100 316px,#feff00 344px,#afff00 362px,#6cff00 374px,#54ff00 379px,#3aff00 385px,#02ff00 401px,#00a35c 433px)"></i><i style="top:208px;height:2.5px;background:linear-gradient(90deg,#008c73 0px,#00be41 19px,#02ff00 41px,#3aff00 57px,#53ff00 63px,#6bff00 68px,#adff00 80px,#ffff00 99px,#ffc500 126px,#ff9900 157px,#ff8300 191px,#ff7a00 221px,#ff8300 251px,#ff9900 285px,#ffc500 316px,#ffff00 343px,#adff00 362px,#6bff00 374px,#53ff00 379px,#3aff00 385px,#02ff00 401px,#00a35c 433px)"></i><i style="top:210px;height:2.5px;background:linear-gradient(90deg,#008c73 0px,#00c738 22px,#00fe01 40px,#3aff00 57px,#52ff00 63px,#6aff00 68px,#acff00 80px,#fffe00 100px,#ffc700 127px,#ff9d00 158px,#ff8600 192px,#ff7e00 221px,#ff8600 250px,#ff9d00 284px,#ffc700 315px,#fffe00 342px,#acff00 362px,#6aff00 374px,#52ff00 379px,#3aff00 385px,#00fe01 402px,#00a45b 433px)"></i><i style="top:212px;height:2.5px;background:linear-gradient(90deg,#008d72 0px,#00c53a 21px,#00ff00 40px,#52ff00 63px,#69ff00 68px,#afff00 81px,#fffe00 101px,#ffc900 128px,#ffa100 158px,#ff8a00 192px,#ff8200 221px,#ff8a00 250px,#ffa100 284px,#ffc900 314px,#fffe00 341px,#afff00 361px,#69ff00 374px,#52ff00 379px,#00ff00 402px,#00a45b 433px)"></i><i style="top:214px;height:2.5px;background:linear-gradient(90deg,#008d72 0px,#00c639 21px,#00ff00 40px,#51ff00 63px,#68ff00 68px,#adff00 81px,#fffe00 102px,#ffcc00 128px,#ffa300 159px,#ff8d00 193px,#ff8500 221px,#ff8d00 249px,#ffa300 283px,#ffcc00 314px,#fffe00 340px,#adff00 361px,#68ff00 374px,#51ff00 379px,#00ff00 402px,#00a45b 433px)"></i><i style="top:216px;height:2.5px;background:linear-gradient(90deg,#008d72 0px,#00c639 21px,#00ff00 40px,#51ff00 63px,#67ff00 68px,#acff00 81px,#fffe00 103px,#ffce00 129px,#ffa600 160px,#ff9000 194px,#ff8800 221px,#ff9000 248px,#ffa600 282px,#ffce00 313px,#fffe00 339px,#acff00 361px,#67ff00 374px,#51ff00 379px,#00ff00 402px,#00a55a 433px)"></i><i style="top:218px;height:2.5px;background:linear-gradient(90deg,#008e71 0px,#00c43b 20px,#01ff00 40px,#50ff00 63px,#66ff00 68px,#aeff00 82px,#fffe00 104px,#ffd000 129px,#ffa800 160px,#ff9200 194px,#ff8b00 221px,#ff9200 248px,#ffa800 282px,#ffd000 313px,#fffe00 338px,#aeff00 360px,#66ff00 374px,#50ff00 379px,#01ff00 402px,#00a55a 433px)"></i><i style="top:220px;height:2.5px;background:linear-gradient(90deg,#008e71 0px,#01ff00 40px,#50ff00 63px,#65ff00 68px,#acff00 82px,#fffe00 105px,#ffd100 130px,#ffaa00 161px,#ff9400 195px,#ff8e00 221px,#ff9400 247px,#ffaa00 281px,#ffd100 312px,#fffe00 337px,#acff00 360px,#65ff00 374px,#50ff00 379px,#01ff00 402px,#00a659 433px)"></i><i style="top:222px;height:2.5px;background:linear-gradient(90deg,#008f70 0px,#01ff00 40px,#4fff00 63px,#aaff00 82px,#fffe00 106px,#ffd400 130px,#ffac00 161px,#ff9700 195px,#ff9000 221px,#ff9700 247px,#ffac00 281px,#ffd400 312px,#fffe00 336px,#aaff00 360px,#4fff00 379px,#01ff00 402px,#00a758 433px)"></i><i style="top:224px;height:2.5px;background:linear-gradient(90deg,#008f70 0px,#01ff00 40px,#4eff00 63px,#abff00 83px,#fffe00 107px,#ffd500 131px,#ffaf00 161px,#ff9900 195px,#ff9200 221px,#ff9900 247px,#ffaf00 281px,#ffd500 311px,#fffe00 335px,#abff00 359px,#4eff00 379px,#01ff00 402px,#00a758 433px)"></i><i style="top:226px;height:2.5px;background:linear-gradient(90deg,#008f70 0px,#01ff00 40px,#4eff00 63px,#a8ff00 83px,#fffe00 108px,#ffd100 135px,#ffb000 162px,#ff9b00 196px,#ff9500 221px,#ff9b00 246px,#ffb000 280px,#ffd100 307px,#fffe00 334px,#a8ff00 359px,#4eff00 379px,#01ff00 402px,#00a857 433px)"></i><i style="top:228px;height:2.5px;background:linear-gradient(90deg,#00906f 0px,#01ff00 40px,#4dff00 63px,#a9ff00 84px,#fffe00 109px,#ffd000 137px,#ffb200 162px,#ff9d00 196px,#ff9700 221px,#ff9d00 246px,#ffb200 280px,#ffd000 305px,#fffe00 333px,#a9ff00 358px,#4dff00 379px,#01ff00 402px,#00a956 433px)"></i><i style="top:230px;height:2.5px;background:linear-gradient(90deg,#00906f 0px,#01ff00 40px,#4cff00 63px,#a6ff00 84px,#fffe00 110px,#ffd100 138px,#ffb400 162px,#ffa000 196px,#ff9900 221px,#ffa000 246px,#ffb400 280px,#ffd100 304px,#fffe00 332px,#a6ff00 358px,#4cff00 379px,#01ff00 402px,#00aa55 433px)"></i><i style="top:232px;height:2.5px;background:linear-gradient(90deg,#00906f 0px,#02ff00 40px,#4bff00 63px,#abff00 86px,#ffff00 111px,#ffd300 138px,#ffb600 163px,#ffa200 196px,#ff9b00 221px,#ffa200 246px,#ffb600 279px,#ffd300 304px,#ffff00 331px,#abff00 356px,#4bff00 379px,#02ff00 402px,#00aa55 433px)"></i><i style="top:234px;height:2.5px;background:linear-gradient(90deg,#00916e 0px,#00d02f 22px,#02ff00 40px,#4bff00 63px,#abff00 87px,#ffff00 112px,#ffd300 139px,#ffb800 163px,#ffa400 196px,#ff9d00 221px,#ffa400 246px,#ffb800 279px,#ffd300 303px,#ffff00 330px,#abff00 355px,#4bff00 379px,#02ff00 402px,#00ab54 433px)"></i><i style="top:236px;height:2.5px;background:linear-gradient(90deg,#00916e 0px,#00d12e 22px,#02ff00 40px,#4dff00 64px,#8aff00 79px,#c1ff00 94px,#ffff00 113px,#fffd00 114px,#ffd500 139px,#ffba00 163px,#ffa600 196px,#ffa000 221px,#ffa600 246px,#ffba00 279px,#ffd500 303px,#ffff00 329px,#b0ff00 353px,#4aff00 379px,#02ff00 402px,#00ac53 433px)"></i><i style="top:238px;height:2.5px;background:linear-gradient(90deg,#00916e 0px,#00d22d 22px,#02ff00 40px,#49ff00 63px,#b7ff00 92px,#fffe00 115px,#ffd800 139px,#ffbb00 164px,#ffa800 197px,#ffa200 221px,#ffa800 246px,#ffbc00 279px,#ffd800 303px,#feff00 328px,#b0ff00 352px,#49ff00 379px,#02ff00 402px,#00dc23 416px,#00ac53 433px)"></i><i style="top:240px;height:2.5px;background:linear-gradient(90deg,#00926d 0px,#00d22d 22px,#02ff00 40px,#48ff00 63px,#b8ff00 93px,#fffe00 116px,#ffda00 139px,#ffbd00 164px,#ffaa00 197px,#ffa400 221px,#ffaa00 245px,#ffbd00 278px,#ffda00 303px,#fffe00 326px,#b8ff00 349px,#48ff00 379px,#02ff00 402px,#00da25 417px,#00ad52 433px)"></i><i style="top:242px;height:2.5px;background:linear-gradient(90deg,#00926d 0px,#00d22d 22px,#02ff00 40px,#48ff00 63px,#b5ff00 93px,#ffff00 117px,#ffdc00 139px,#ffc000 164px,#ffac00 197px,#ffa600 221px,#ffac00 245px,#ffc000 278px,#ffdc00 303px,#ffff00 325px,#b5ff00 349px,#48ff00 379px,#02ff00 402px,#00da25 417px,#00ad52 433px)"></i><i style="top:244px;height:2.5px;background:linear-gradient(90deg,#00926d 0px,#00d32c 22px,#02ff00 40px,#47ff00 63px,#b3ff00 93px,#ffff00 118px,#ffde00 139px,#ffc200 164px,#ffae00 197px,#ffa800 221px,#ffae00 245px,#ffc200 278px,#ffde00 303px,#ffff00 324px,#b3ff00 349px,#47ff00 379px,#02ff00 402px,#00dd22 416px,#00ae51 433px)"></i><i style="top:246px;height:2.5px;background:linear-gradient(90deg,#00936c 0px,#00ca35 19px,#00fe01 39px,#4aff00 64px,#baff00 96px,#fffe00 120px,#ffdf00 140px,#ffc300 165px,#ffb100 197px,#ffab00 221px,#ffb100 245px,#ffc300 277px,#ffdf00 302px,#fffe00 322px,#baff00 346px,#4dff00 377px,#02ff00 402px,#00dd22 416px,#00ae51 433px)"></i><i style="top:248px;height:2.5px;background:linear-gradient(90deg,#00936c 0px,#00ca35 19px,#00fe01 39px,#49ff00 64px,#b4ff00 95px,#fffe00 121px,#ffe100 140px,#ffc500 166px,#ffb300 197px,#ffad00 221px,#ffb300 245px,#ffc500 276px,#ffe100 302px,#fffe00 321px,#b4ff00 347px,#4cff00 377px,#02ff00 402px,#00dd22 416px,#00ae51 433px)"></i><i style="top:250px;height:2.5px;background:linear-gradient(90deg,#00946b 0px,#00c837 18px,#00fe01 39px,#48ff00 64px,#aeff00 94px,#ffff00 122px,#ffe400 140px,#ffc700 166px,#ffb500 197px,#ffaf00 221px,#ffb500 245px,#ffc700 276px,#ffe400 302px,#ffff00 320px,#abff00 349px,#4bff00 377px,#02ff00 402px,#00e01f 415px,#00ae51 433px)"></i><i style="top:252px;height:2.5px;background:linear-gradient(90deg,#00946b 0px,#00fe01 39px,#47ff00 64px,#a9ff00 93px,#fffe00 124px,#ffe500 141px,#ffc900 167px,#ffb800 197px,#ffb100 221px,#ffb800 245px,#ffc900 275px,#ffe500 301px,#feff00 319px,#a6ff00 350px,#47ff00 378px,#00fe01 403px,#00af50 433px)"></i><i style="top:254px;height:2.5px;background:linear-gradient(90deg,#00956a 0px,#00fe01 39px,#46ff00 64px,#a0ff00 91px,#fffe00 125px,#ffe700 141px,#ffcb00 168px,#ffba00 198px,#ffb400 221px,#ffba00 244px,#ffcb00 274px,#ffe700 301px,#fffe00 317px,#a0ff00 351px,#46ff00 378px,#00fe01 403px,#00af50 433px)"></i><i style="top:256px;height:2.5px;background:linear-gradient(90deg,#00956a 0px,#00ff00 39px,#49ff00 65px,#98ff00 89px,#d8ff00 113px,#ffff00 126px,#ffe300 147px,#ffcd00 169px,#ffbc00 198px,#ffb600 221px,#ffbc00 244px,#ffcd00 273px,#ffe300 295px,#ffff00 316px,#d8ff00 329px,#98ff00 353px,#49ff00 377px,#00ff00 403px,#00af50 433px)"></i><i style="top:258px;height:2.5px;background:linear-gradient(90deg,#00956a 0px,#00ff00 39px,#48ff00 65px,#94ff00 88px,#cfff00 111px,#fffe00 128px,#ffe100 151px,#ffce00 170px,#ffbf00 198px,#ffb800 221px,#ffbf00 244px,#ffce00 272px,#ffe100 291px,#ffff00 315px,#d4ff00 329px,#94ff00 354px,#48ff00 377px,#00ff00 403px,#00af50 433px)"></i><i style="top:260px;height:2.5px;background:linear-gradient(90deg,#009669 0px,#00ff00 39px,#47ff00 65px,#8fff00 87px,#ceff00 112px,#fffe00 129px,#ffe100 153px,#ffd000 171px,#ffc000 199px,#ffbb00 221px,#ffc000 243px,#ffd000 271px,#ffe100 289px,#fffe00 313px,#ceff00 330px,#8fff00 355px,#47ff00 377px,#00ff00 403px,#00af50 433px)"></i><i style="top:262px;height:2.5px;background:linear-gradient(90deg,#009669 0px,#00ff00 39px,#46ff00 65px,#8dff00 87px,#caff00 112px,#ffff00 130px,#ffe100 155px,#ffd200 172px,#ffc300 199px,#ffbd00 221px,#ffc300 243px,#ffd200 270px,#ffe100 287px,#ffff00 312px,#caff00 330px,#8dff00 355px,#46ff00 377px,#00ff00 403px,#00af50 433px)"></i><i style="top:264px;height:2.5px;background:linear-gradient(90deg,#009768 0px,#00ff00 39px,#45ff00 65px,#89ff00 86px,#c5ff00 111px,#fffe00 132px,#ffe100 158px,#ffd300 174px,#ffc500 200px,#ffbf00 221px,#ffc500 242px,#ffd300 268px,#ffe100 284px,#fffe00 310px,#c5ff00 331px,#89ff00 356px,#45ff00 377px,#00ff00 403px,#00b04f 433px)"></i><i style="top:266px;height:2.5px;background:linear-gradient(90deg,#009768 0px,#00ff00 39px,#45ff00 65px,#88ff00 86px,#c2ff00 111px,#ffff00 133px,#ffd400 175px,#ffc700 201px,#ffc100 221px,#ffc700 241px,#ffd400 267px,#ffff00 309px,#c2ff00 331px,#88ff00 356px,#45ff00 377px,#00ff00 403px,#00b04f 433px)"></i><i style="top:268px;height:2.5px;background:linear-gradient(90deg,#009768 0px,#00ff00 39px,#44ff00 65px,#87ff00 86px,#bfff00 111px,#fffe00 135px,#ffd600 176px,#ffc900 201px,#ffc400 221px,#ffc900 241px,#ffd600 266px,#fffe00 307px,#bfff00 331px,#87ff00 356px,#44ff00 377px,#00ff00 403px,#00b04f 433px)"></i><i style="top:270px;height:2.5px;background:linear-gradient(90deg,#009768 0px,#00ff00 39px,#43ff00 65px,#86ff00 86px,#bdff00 111px,#fffe00 137px,#ffd800 176px,#ffcb00 201px,#ffc600 221px,#ffcb00 241px,#ffd800 266px,#ffff00 306px,#bdff00 331px,#86ff00 356px,#43ff00 377px,#00ff00 403px,#00b04f 433px)"></i><i style="top:272px;height:2.5px;background:linear-gradient(90deg,#009768 0px,#00ff00 39px,#42ff00 65px,#85ff00 86px,#bcff00 111px,#ffff00 138px,#ffda00 177px,#ffc800 221px,#ffda00 265px,#ffff00 304px,#bcff00 331px,#85ff00 356px,#42ff00 377px,#00ff00 403px,#00b04f 433px)"></i><i style="top:274px;height:2.5px;background:linear-gradient(90deg,#009768 0px,#00ff00 39px,#41ff00 65px,#86ff00 87px,#baff00 111px,#fffe00 140px,#ffdc00 177px,#ffca00 221px,#ffdc00 265px,#fffe00 302px,#baff00 331px,#86ff00 355px,#41ff00 377px,#00ff00 403px,#00b04f 433px)"></i><i style="top:276px;height:2.5px;background:linear-gradient(90deg,#009768 0px,#00ff00 39px,#41ff00 65px,#88ff00 88px,#fffe00 142px,#ffde00 178px,#ffcc00 221px,#ffde00 264px,#ffff00 301px,#85ff00 355px,#41ff00 377px,#00ff00 403px,#00b04f 433px)"></i><i style="top:278px;height:2.5px;background:linear-gradient(90deg,#009768 0px,#00ff00 39px,#40ff00 65px,#87ff00 88px,#ffff00 143px,#ffdf00 179px,#ffce00 221px,#ffdf00 263px,#ffff00 299px,#87ff00 354px,#40ff00 377px,#00ff00 403px,#00b04f 433px)"></i><i style="top:280px;height:2.5px;background:linear-gradient(90deg,#009768 0px,#00ff00 39px,#3fff00 65px,#76ff00 82px,#89ff00 89px,#fffe00 145px,#ffe100 179px,#ffd100 221px,#ffe100 263px,#fffe00 297px,#89ff00 353px,#76ff00 360px,#3fff00 377px,#00ff00 403px,#00b04f 433px)"></i><i style="top:282px;height:2.5px;background:linear-gradient(90deg,#009768 0px,#00ff00 39px,#3eff00 65px,#75ff00 82px,#8aff00 90px,#fffe00 147px,#ffe300 180px,#ffd300 221px,#ffe300 262px,#ffff00 296px,#88ff00 353px,#75ff00 360px,#3eff00 377px,#00ff00 403px,#00b04f 433px)"></i><i style="top:284px;height:2.5px;background:linear-gradient(90deg,#009768 0px,#00ff00 39px,#3dff00 65px,#74ff00 82px,#8aff00 90px,#fffe00 149px,#ffe400 182px,#ffd500 221px,#ffe500 261px,#ffff00 294px,#8aff00 352px,#74ff00 360px,#3dff00 377px,#00ff00 403px,#00b04f 433px)"></i><i style="top:286px;height:2.5px;background:linear-gradient(90deg,#009768 0px,#00ff00 39px,#3dff00 65px,#77ff00 83px,#8bff00 91px,#ffff00 150px,#ffe500 184px,#ffd700 221px,#ffe500 258px,#ffff00 292px,#8bff00 351px,#77ff00 359px,#3dff00 377px,#00ff00 403px,#00b04f 433px)"></i><i style="top:288px;height:2.5px;background:linear-gradient(90deg,#009768 0px,#00ff00 39px,#3cff00 65px,#76ff00 83px,#8dff00 92px,#ffff00 152px,#ffe700 185px,#ffd900 221px,#ffe700 257px,#ffff00 290px,#8dff00 350px,#76ff00 359px,#3cff00 377px,#00ff00 403px,#00b04f 433px)"></i><i style="top:290px;height:2.5px;background:linear-gradient(90deg,#009768 0px,#00ff00 39px,#3bff00 65px,#75ff00 83px,#8fff00 93px,#b0ff00 110px,#ffff00 154px,#ffe800 187px,#ffdb00 221px,#ffe800 255px,#ffff00 288px,#b0ff00 332px,#8fff00 349px,#75ff00 359px,#3bff00 377px,#00ff00 403px,#00b04f 433px)"></i><i style="top:292px;height:2.5px;background:linear-gradient(90deg,#009768 0px,#01ff00 39px,#3aff00 65px,#78ff00 84px,#92ff00 95px,#b5ff00 113px,#fffe00 157px,#ffe900 188px,#ffdd00 221px,#ffe900 254px,#ffff00 286px,#b1ff00 331px,#90ff00 348px,#75ff00 359px,#3aff00 377px,#01ff00 403px,#00b04f 433px)"></i><i style="top:294px;height:2.5px;background:linear-gradient(90deg,#009768 0px,#01ff00 39px,#39ff00 65px,#77ff00 84px,#94ff00 96px,#b2ff00 112px,#ffff00 159px,#ffec00 188px,#ffe000 221px,#ffeb00 253px,#feff00 284px,#b0ff00 331px,#94ff00 346px,#77ff00 358px,#39ff00 377px,#01ff00 403px,#00b04f 433px)"></i><i style="top:296px;height:2.5px;background:linear-gradient(90deg,#009768 0px,#01ff00 39px,#39ff00 65px,#76ff00 84px,#95ff00 97px,#b1ff00 112px,#ffff00 161px,#ffed00 189px,#ffe200 221px,#ffed00 253px,#ffff00 281px,#b1ff00 330px,#95ff00 345px,#76ff00 358px,#39ff00 377px,#01ff00 403px,#00b04f 433px)"></i><i style="top:298px;height:2.5px;background:linear-gradient(90deg,#009768 0px,#01ff00 39px,#38ff00 65px,#75ff00 84px,#96ff00 98px,#afff00 112px,#ffff00 164px,#ffef00 190px,#ffe400 221px,#ffef00 252px,#feff00 279px,#afff00 330px,#96ff00 344px,#75ff00 358px,#38ff00 377px,#01ff00 403px,#00b04f 433px)"></i><i style="top:300px;height:2.5px;background:linear-gradient(90deg,#009768 0px,#01ff00 39px,#37ff00 65px,#74ff00 84px,#97ff00 99px,#aeff00 112px,#ffff00 167px,#fff100 190px,#ffe700 221px,#fff100 252px,#feff00 276px,#aeff00 330px,#97ff00 343px,#74ff00 358px,#37ff00 377px,#01ff00 403px,#00b04f 433px)"></i><i style="top:302px;height:2.5px;background:linear-gradient(90deg,#009768 0px,#00ff00 39px,#36ff00 65px,#73ff00 84px,#97ff00 100px,#acff00 112px,#ffff00 170px,#fff300 191px,#ffe900 221px,#fff300 251px,#feff00 273px,#acff00 330px,#97ff00 342px,#73ff00 358px,#36ff00 377px,#00ff00 403px,#00b04f 433px)"></i><i style="top:304px;height:2.5px;background:linear-gradient(90deg,#009768 0px,#00ff00 39px,#35ff00 65px,#72ff00 84px,#96ff00 100px,#aaff00 112px,#ffff00 173px,#ffec00 221px,#feff00 270px,#aaff00 330px,#96ff00 342px,#72ff00 358px,#35ff00 377px,#00ff00 403px,#00b04f 433px)"></i><i style="top:306px;height:2.5px;background:linear-gradient(90deg,#009768 0px,#00ed12 32px,#02ff00 40px,#35ff00 65px,#73ff00 85px,#96ff00 101px,#e4ff00 155px,#ffff00 177px,#ffef00 221px,#ffff00 266px,#e2ff00 289px,#96ff00 341px,#73ff00 357px,#35ff00 377px,#02ff00 402px,#00b04f 433px)"></i><i style="top:308px;height:2.5px;background:linear-gradient(90deg,#009768 0px,#01ff00 40px,#34ff00 65px,#72ff00 85px,#94ff00 101px,#e1ff00 155px,#ffff00 181px,#fff200 221px,#ffff00 262px,#e0ff00 288px,#94ff00 341px,#72ff00 357px,#34ff00 377px,#01ff00 402px,#00b04f 433px)"></i><i style="top:310px;height:2.5px;background:linear-gradient(90deg,#009768 0px,#00ff00 40px,#33ff00 65px,#70ff00 85px,#94ff00 102px,#deff00 155px,#ffff00 185px,#fff500 221px,#ffff00 257px,#f9ff00 263px,#dbff00 289px,#92ff00 341px,#6eff00 358px,#33ff00 377px,#00ff00 402px,#00b04f 433px)"></i><i style="top:312px;height:2.5px;background:linear-gradient(90deg,#009768 0px,#00cd32 20px,#01ff00 41px,#30ff00 64px,#6fff00 85px,#93ff00 103px,#ddff00 157px,#ffff00 191px,#fff800 221px,#ffff00 251px,#deff00 284px,#9fff00 331px,#88ff00 345px,#6cff00 358px,#32ff00 377px,#01ff00 401px,#00e916 411px,#00b04f 433px)"></i><i style="top:314px;height:2.5px;background:linear-gradient(90deg,#009768 0px,#00cb34 19px,#00ff00 41px,#31ff00 65px,#70ff00 86px,#92ff00 104px,#ddff00 160px,#ffff00 199px,#fffa00 221px,#ffff00 244px,#edff00 266px,#d5ff00 289px,#9bff00 332px,#84ff00 346px,#6bff00 358px,#31ff00 377px,#00ff00 401px,#00b04f 433px)"></i><i style="top:316px;height:2.5px;background:linear-gradient(90deg,#009768 0px,#00d02f 21px,#01ff00 42px,#31ff00 65px,#6eff00 86px,#94ff00 107px,#ddff00 163px,#f3ff00 188px,#ffff00 210px,#ffff00 233px,#f6ff00 250px,#dfff00 277px,#c6ff00 298px,#97ff00 333px,#7eff00 348px,#66ff00 359px,#31ff00 377px,#01ff00 400px,#00e31c 413px,#00b14e 433px)"></i><i style="top:318px;height:2.5px;background:linear-gradient(90deg,#009768 0px,#00cd32 20px,#00ff00 42px,#30ff00 65px,#6cff00 86px,#96ff00 110px,#c9ff00 148px,#ddff00 166px,#f2ff00 195px,#fdff00 221px,#f2ff00 247px,#ddff00 276px,#c9ff00 294px,#96ff00 332px,#6cff00 356px,#30ff00 377px,#00ff00 400px,#00dc23 416px,#00b14e 433px)"></i><i style="top:320px;height:2.5px;background:linear-gradient(90deg,#009768 0px,#00d02f 21px,#01ff00 43px,#2fff00 65px,#6aff00 86px,#95ff00 111px,#c5ff00 147px,#d8ff00 165px,#eeff00 195px,#f7ff00 221px,#eeff00 247px,#d8ff00 277px,#c5ff00 295px,#95ff00 331px,#6aff00 356px,#2fff00 377px,#01ff00 399px,#00e01f 414px,#00b14e 433px)"></i><i style="top:322px;height:2.5px;background:linear-gradient(90deg,#009768 0px,#00d02f 21px,#01ff00 43px,#2eff00 65px,#68ff00 86px,#80ff00 99px,#97ff00 114px,#c2ff00 147px,#d5ff00 165px,#e9ff00 196px,#f2ff00 221px,#e9ff00 246px,#d5ff00 277px,#c2ff00 295px,#97ff00 328px,#80ff00 343px,#68ff00 356px,#2eff00 377px,#01ff00 399px,#00dc23 416px,#00b14e 433px)"></i><i style="top:324px;height:2.5px;background:linear-gradient(90deg,#009768 0px,#00cd32 20px,#00ff00 43px,#2dff00 65px,#66ff00 86px,#7fff00 100px,#9aff00 118px,#bfff00 147px,#d2ff00 166px,#e6ff00 197px,#edff00 221px,#e6ff00 245px,#d2ff00 276px,#bfff00 295px,#9aff00 324px,#7fff00 342px,#66ff00 356px,#2dff00 377px,#00ff00 399px,#00d926 417px,#00b14e 433px)"></i><i style="top:326px;height:2.5px;background:linear-gradient(90deg,#009768 0px,#00cd32 20px,#00ff00 43px,#2cff00 65px,#5bff00 82px,#6aff00 89px,#86ff00 106px,#a8ff00 131px,#c2ff00 152px,#d1ff00 168px,#e2ff00 198px,#e9ff00 221px,#e2ff00 244px,#d1ff00 274px,#c2ff00 290px,#a8ff00 311px,#86ff00 336px,#6aff00 353px,#5bff00 360px,#2cff00 377px,#00ff00 399px,#00d926 417px,#00b14e 433px)"></i><i style="top:328px;height:2.5px;background:linear-gradient(90deg,#009768 0px,#00cd32 20px,#00ff00 43px,#2bff00 65px,#58ff00 82px,#69ff00 90px,#87ff00 108px,#a7ff00 132px,#bfff00 152px,#cdff00 168px,#deff00 198px,#e5ff00 221px,#deff00 244px,#cdff00 274px,#bfff00 290px,#a7ff00 310px,#87ff00 334px,#69ff00 352px,#58ff00 360px,#2bff00 377px,#00ff00 399px,#00d926 417px,#00b14e 433px)"></i><i style="top:330px;height:2.5px;background:linear-gradient(90deg,#009768 0px,#00cd32 20px,#00ff00 43px,#2aff00 65px,#56ff00 82px,#67ff00 90px,#86ff00 109px,#a5ff00 132px,#bcff00 152px,#caff00 168px,#daff00 198px,#e1ff00 221px,#daff00 244px,#caff00 274px,#bcff00 290px,#a5ff00 310px,#86ff00 333px,#67ff00 352px,#56ff00 360px,#2aff00 377px,#00ff00 399px,#00d926 417px,#00b14e 433px)"></i><i style="top:332px;height:2.5px;background:linear-gradient(90deg,#009768 0px,#00cd32 20px,#00ff00 43px,#29ff00 65px,#54ff00 82px,#66ff00 91px,#85ff00 110px,#a1ff00 131px,#b8ff00 151px,#c7ff00 168px,#d7ff00 199px,#ddff00 221px,#d7ff00 243px,#c7ff00 274px,#b8ff00 291px,#a1ff00 311px,#85ff00 332px,#66ff00 351px,#54ff00 360px,#29ff00 377px,#00ff00 399px,#00d926 417px,#00b14e 433px)"></i><i style="top:334px;height:2.5px;background:linear-gradient(90deg,#009768 0px,#00cd32 20px,#00ff00 43px,#28ff00 65px,#53ff00 83px,#68ff00 94px,#86ff00 112px,#9fff00 131px,#b4ff00 150px,#c3ff00 167px,#d3ff00 198px,#daff00 221px,#d3ff00 244px,#c3ff00 275px,#b4ff00 292px,#9fff00 311px,#86ff00 330px,#68ff00 348px,#53ff00 359px,#28ff00 377px,#00ff00 399px,#00d926 417px,#00b14e 433px)"></i><i style="top:336px;height:2.5px;background:linear-gradient(90deg,#009768 0px,#00cd32 20px,#00ff00 43px,#27ff00 65px,#52ff00 84px,#6cff00 98px,#87ff00 114px,#9dff00 131px,#c0ff00 167px,#d0ff00 198px,#d6ff00 221px,#d0ff00 244px,#c0ff00 275px,#9dff00 311px,#87ff00 328px,#6cff00 344px,#52ff00 358px,#27ff00 377px,#00ff00 399px,#00db24 416px,#00b14e 433px)"></i><i style="top:338px;height:2.5px;background:linear-gradient(90deg,#009768 0px,#00cd32 20px,#00ff00 43px,#28ff00 66px,#72ff00 103px,#99ff00 130px,#afff00 150px,#bcff00 167px,#ccff00 198px,#d3ff00 221px,#ccff00 244px,#bcff00 275px,#afff00 292px,#99ff00 312px,#72ff00 339px,#28ff00 376px,#00ff00 399px,#00dc23 416px,#00b14e 433px)"></i><i style="top:340px;height:2.5px;background:linear-gradient(90deg,#009768 0px,#00cd32 20px,#00ff00 43px,#29ff00 67px,#77ff00 107px,#97ff00 130px,#b9ff00 167px,#c9ff00 198px,#d0ff00 221px,#c9ff00 244px,#b9ff00 275px,#97ff00 312px,#77ff00 335px,#29ff00 375px,#00ff00 399px,#00dc23 416px,#00b14e 433px)"></i><i style="top:342px;height:2.5px;background:linear-gradient(90deg,#009768 0px,#00cd32 20px,#00ff00 43px,#2dff00 70px,#7aff00 110px,#94ff00 129px,#a8ff00 149px,#b6ff00 167px,#c6ff00 198px,#cdff00 221px,#c6ff00 244px,#b6ff00 275px,#a8ff00 293px,#94ff00 313px,#7aff00 332px,#2dff00 372px,#00ff00 399px,#00de21 415px,#00b14e 433px)"></i><i style="top:344px;height:2.5px;background:linear-gradient(90deg,#009768 0px,#00cd32 20px,#00ff00 43px,#37ff00 77px,#7bff00 112px,#92ff00 129px,#b3ff00 167px,#c3ff00 197px,#cbff00 221px,#c3ff00 245px,#b3ff00 275px,#92ff00 313px,#7bff00 330px,#37ff00 365px,#00ff00 399px,#00e01f 414px,#00b14e 433px)"></i><i style="top:346px;height:2px;background:linear-gradient(90deg,#009768 0px,#00cd32 20px,#00ff00 43px,#39ff00 80px,#7cff00 114px,#8eff00 128px,#b0ff00 167px,#c1ff00 197px,#c9ff00 221px,#c1ff00 245px,#b0ff00 275px,#8eff00 314px,#7cff00 328px,#39ff00 362px,#00ff00 399px,#00e31c 413px,#00b14e 433px)"></i></div></div><div class="cb" style="left:64px;top:560.3px;width:434px;background:linear-gradient(90deg,#0000ff,#000ff0,#001ee1,#002dd2,#003cc3,#004bb4,#0059a6,#006897,#007788,#008679,#00956a,#00a45b,#00b34c,#00c23d,#00d12e,#00e01f,#00ee11,#00fd02,#12ff00,#27ff00,#3bff00,#50ff00,#65ff00,#79ff00,#8eff00,#a2ff00,#b7ff00,#ccff00,#e0ff00,#f5ff00,#fffb00,#fff200,#ffe900,#ffe100,#ffd800,#ffcf00,#ffc700,#ffbe00,#ffb600,#ffad00,#ffa400,#ff9c00,#ff9300,#ff8a00,#ff8200,#ff7900,#ff7000,#ff6800,#ff5f00,#ff5600,#ff4e00,#ff4500,#ff3d00,#ff3400,#ff2b00,#ff2300,#ff1a00,#ff1100,#ff0900,#ff0000)"></div><div class="cb" style="left:594px;top:560.3px;width:420px;background:linear-gradient(90deg,#0000ff,#0000ff,#000cf3,#001fe0,#0032cd,#0045ba,#0058a7,#006b94,#007e81,#00906f,#00a35c,#00b649,#00c936,#00dc23,#00ef10,#02ff00,#14ff00,#25ff00,#36ff00,#47ff00,#59ff00,#6aff00,#7bff00,#8dff00,#9eff00,#afff00,#c0ff00,#d2ff00,#e3ff00,#f4ff00,#fffc00,#fff300,#ffea00,#ffe200,#ffd900,#ffd000,#ffc800,#ffbf00,#ffb600,#ffae00,#ffa500,#ff9c00,#ff9400,#ff8b00,#ff8200,#ff7a00,#ff7100,#ff6800,#ff5f00,#ff5700,#ff4e00,#ff4500,#ff3d00,#ff3400,#ff2b00,#ff2300,#ff1a00,#ff1100,#ff0900,#ff0000)"></div><div class="cb" style="left:320px;top:1177.2px;width:434.5px;background:linear-gradient(90deg,#0000ff,#0000ff,#0000ff,#000ef1,#0023dc,#0039c6,#004fb0,#00649b,#007a85,#008f70,#00a55a,#00bb44,#00d02f,#00e619,#00fc03,#0eff00,#1fff00,#2fff00,#40ff00,#50ff00,#61ff00,#72ff00,#82ff00,#93ff00,#a4ff00,#b4ff00,#c5ff00,#d5ff00,#e6ff00,#f7ff00,#fffb00,#fff200,#ffe900,#ffe100,#ffd800,#ffcf00,#ffc700,#ffbe00,#ffb600,#ffad00,#ffa400,#ff9c00,#ff9300,#ff8a00,#ff8200,#ff7900,#ff7000,#ff6800,#ff5f00,#ff5600,#ff4e00,#ff4500,#ff3d00,#ff3400,#ff2b00,#ff2300,#ff1a00,#ff1100,#ff0900,#ff0000)"></div><svg width="1024" height="1248" viewBox="0 0 1024 1248"><polygon points="63,17 63.2,17.2 65.2,19.3 67.2,21.4 69.2,23.5 71.2,25.5 73.2,27.6 75.2,29.6 77.2,31.6 79.2,33.6 81.2,35.5 83.2,37.4 85.2,39.3 87.2,41.2 89.2,43.1 91.2,45 93.2,46.8 95.2,48.6 97.2,50.4 99.2,52.2 101.2,53.9 103.2,55.6 105.2,57.3 107.2,59 109.2,60.7 111.2,62.4 113.2,64 115.2,65.6 117.2,67.2 119.2,68.7 121.2,70.3 123.2,71.8 125.2,73.3 127.2,74.8 129.2,76.3 131.2,77.7 133.2,79.2 135.2,80.6 137.2,82 139.2,83.3 141.2,84.7 143.2,86 145.2,87.3 147.2,88.6 149.2,89.9 151.2,91.1 153.2,92.3 155.2,93.6 157.2,94.7 159.2,95.9 161.2,97.1 163.2,98.2 165.2,99.3 167.2,100.4 169.2,101.5 171.2,102.5 173.2,103.5 175.2,104.6 177.2,105.6 179.2,106.5 181.2,107.5 183.2,108.4 185.2,109.3 187.2,110.2 189.2,111.1 191.2,112 193.2,112.8 195.2,113.6 197.2,114.4 199.2,115.2 201.2,115.9 203.2,116.7 205.2,117.4 207.2,118.1 209.2,118.8 211.2,119.4 213.2,120.1 215.2,120.7 217.2,121.3 219.2,121.9 221.2,122.5 223.2,123 225.2,123.5 227.2,124 229.2,124.5 231.2,125 233.2,125.4 235.2,125.9 237.2,126.3 239.2,126.7 241.2,127.1 243.2,127.4 245.2,127.7 247.2,128.1 249.2,128.4 251.2,128.6 253.2,128.9 255.2,129.1 257.2,129.4 259.2,129.6 261.2,129.7 263.2,129.9 265.2,130.1 267.2,130.2 269.2,130.3 271.2,130.4 273.2,130.4 275.2,130.5 277.2,130.5 279.2,130.5 281.2,130.5 283.2,130.5 285.2,130.5 287.2,130.4 289.2,130.3 291.2,130.2 293.2,130.1 295.2,130 297.2,129.8 299.2,129.6 301.2,129.4 303.2,129.2 305.2,129 307.2,128.7 309.2,128.5 311.2,128.2 313.2,127.9 315.2,127.6 317.2,127.2 319.2,126.8 321.2,126.5 323.2,126.1 325.2,125.6 327.2,125.2 329.2,124.8 331.2,124.3 333.2,123.8 335.2,123.3 337.2,122.7 339.2,122.2 341.2,121.6 343.2,121 345.2,120.4 347.2,119.8 349.2,119.2 351.2,118.5 353.2,117.8 355.2,117.1 357.2,116.4 359.2,115.7 361.2,114.9 363.2,114.2 365.2,113.4 367.2,112.6 369.2,111.8 371.2,110.9 373.2,110 375.2,109.2 377.2,108.3 379.2,107.4 381.2,106.4 383.2,105.5 385.2,104.5 387.2,103.5 389.2,102.5 391.2,101.5 393.2,100.4 395.2,99.4 397.2,98.3 399.2,97.2 401.2,96.1 403.2,94.9 405.2,93.8 407.2,92.6 409.2,91.4 411.2,90.2 413.2,89 415.2,87.7 417.2,86.5 419.2,85.2 421.2,83.9 423.2,82.6 425.2,81.3 427.2,79.9 429.2,78.5 431.2,77.1 433.2,75.7 435.2,74.3 437.2,72.9 439.2,71.4 441.2,69.9 443.2,68.4 445.2,66.9 447.2,65.4 449.2,63.8 451.2,62.3 453.2,60.7 455.2,59.1 457.2,57.5 459.2,55.8 461.2,54.2 463.2,52.5 465.2,50.8 467.2,49.1 469.2,47.4 471.2,45.6 473.2,43.9 475.2,42.1 477.2,40.3 479.2,38.5 481.2,36.6 483.2,34.8 485.2,32.9 487.2,31 489.2,29.1 491.2,27.2 493.2,25.3 495.2,23.3 497.2,21.3 497.4,21.1 497.4,19.9" fill="#c0c0c0" stroke="#262626" stroke-width="1.15"/><polygon points="594.7,69.5 594.7,69.5 596.7,71.5 598.7,73.6 600.7,75.6 602.7,77.6 604.7,79.5 606.7,81.5 608.7,83.4 610.7,85.3 612.7,87.2 614.7,89.1 616.7,91 618.7,92.8 620.7,94.6 622.7,96.4 624.7,98.1 626.7,99.9 628.7,101.6 630.7,103.3 632.7,105 634.7,106.7 636.7,108.3 638.7,109.9 640.7,111.5 642.7,113.1 644.7,114.7 646.7,116.2 648.7,117.8 650.7,119.3 652.7,120.7 654.7,122.2 656.7,123.6 658.7,125.1 660.7,126.5 662.7,127.8 664.7,129.2 666.7,130.5 668.7,131.9 670.7,133.2 672.7,134.4 674.7,135.7 676.7,136.9 678.7,138.2 680.7,139.4 682.7,140.5 684.7,141.7 686.7,142.8 688.7,144 690.7,145.1 692.7,146.1 694.7,147.2 696.7,148.2 698.7,149.3 700.7,150.2 702.7,151.2 704.7,152.2 706.7,153.1 708.7,154 710.7,154.9 712.7,155.8 714.7,156.7 716.7,157.5 718.7,158.3 720.7,159.1 722.7,159.9 724.7,160.7 726.7,161.4 728.7,162.1 730.7,162.8 732.7,163.5 734.7,164.2 736.7,164.8 738.7,165.4 740.7,166 742.7,166.6 744.7,167.2 746.7,167.7 748.7,168.2 750.7,168.7 752.7,169.2 754.7,169.7 756.7,170.1 758.7,170.6 760.7,171 762.7,171.4 764.7,171.7 766.7,172.1 768.7,172.4 770.7,172.7 772.7,173 774.7,173.3 776.7,173.5 778.7,173.7 780.7,173.9 782.7,174.1 784.7,174.3 786.7,174.4 788.7,174.6 790.7,174.7 792.7,174.8 794.7,174.9 796.7,174.9 798.7,174.9 800.7,175 802.7,175 804.7,174.9 806.7,174.9 808.7,174.8 810.7,174.8 812.7,174.7 814.7,174.5 816.7,174.4 818.7,174.2 820.7,174.1 822.7,173.9 824.7,173.6 826.7,173.4 828.7,173.2 830.7,172.9 832.7,172.6 834.7,172.3 836.7,171.9 838.7,171.6 840.7,171.2 842.7,170.8 844.7,170.4 846.7,170 848.7,169.6 850.7,169.1 852.7,168.6 854.7,168.1 856.7,167.6 858.7,167.1 860.7,166.5 862.7,165.9 864.7,165.3 866.7,164.7 868.7,164.1 870.7,163.4 872.7,162.8 874.7,162.1 876.7,161.4 878.7,160.6 880.7,159.9 882.7,159.1 884.7,158.3 886.7,157.5 888.7,156.7 890.7,155.9 892.7,155 894.7,154.1 896.7,153.2 898.7,152.3 900.7,151.4 902.7,150.4 904.7,149.4 906.7,148.5 908.7,147.4 910.7,146.4 912.7,145.4 914.7,144.3 916.7,143.2 918.7,142.1 920.7,141 922.7,139.9 924.7,138.7 926.7,137.5 928.7,136.3 930.7,135.1 932.7,133.9 934.7,132.6 936.7,131.4 938.7,130.1 940.7,128.8 942.7,127.5 944.7,126.1 946.7,124.7 948.7,123.4 950.7,122 952.7,120.6 954.7,119.1 956.7,117.7 958.7,116.2 960.7,114.7 962.7,113.2 964.7,111.7 966.7,110.1 968.7,108.6 970.7,107 972.7,105.4 974.7,103.8 976.7,102.1 978.7,100.5 980.7,98.8 982.7,97.1 984.7,95.4 986.7,93.7 988.7,92 990.7,90.2 992.7,88.4 994.7,86.6 996.7,84.8 998.7,83 1000.7,81.1 1002.7,79.2 1004.7,77.4 1006.7,75.5 1008.7,73.5 1010.7,71.6 1012.7,69.6 1012.7,69.5" fill="#c0c0c0" stroke="#262626" stroke-width="1.15"/><polygon points="322.3,687.2 322.3,685.6 324.3,687.4 326.3,689.2 328.3,691 330.3,692.8 332.3,694.6 334.3,696.4 336.3,698.2 338.3,699.9 340.3,701.7 342.3,703.5 344.3,705.2 346.3,707 348.3,708.7 350.3,710.5 352.3,712.2 354.3,713.9 356.3,715.6 358.3,717.3 360.3,719 362.3,720.7 364.3,722.4 366.3,724 368.3,725.7 370.3,727.3 372.3,728.9 374.3,730.5 376.3,732.1 378.3,733.6 380.3,735.2 382.3,736.7 384.3,738.2 386.3,739.7 388.3,741.2 390.3,742.6 392.3,744 394.3,745.4 396.3,746.8 398.3,748.2 400.3,749.5 402.3,750.8 404.3,752.1 406.3,753.4 408.3,754.7 410.3,755.9 412.3,757.1 414.3,758.3 416.3,759.5 418.3,760.6 420.3,761.8 422.3,762.9 424.3,764 426.3,765 428.3,766.1 430.3,767.1 432.3,768.1 434.3,769.1 436.3,770.1 438.3,771 440.3,771.9 442.3,772.8 444.3,773.7 446.3,774.6 448.3,775.4 450.3,776.3 452.3,777.1 454.3,777.8 456.3,778.6 458.3,779.3 460.3,780 462.3,780.7 464.3,781.4 466.3,782.1 468.3,782.7 470.3,783.3 472.3,783.9 474.3,784.5 476.3,785.1 478.3,785.6 480.3,786.1 482.3,786.6 484.3,787.1 486.3,787.6 488.3,788 490.3,788.4 492.3,788.8 494.3,789.2 496.3,789.6 498.3,789.9 500.3,790.2 502.3,790.5 504.3,790.8 506.3,791.1 508.3,791.3 510.3,791.5 512.3,791.7 514.3,791.9 516.3,792.1 518.3,792.2 520.3,792.4 522.3,792.5 524.3,792.6 526.3,792.6 528.3,792.7 530.3,792.7 532.3,792.7 534.3,792.7 536.3,792.7 538.3,792.7 540.3,792.6 542.3,792.5 544.3,792.4 546.3,792.3 548.3,792.2 550.3,792 552.3,791.9 554.3,791.7 556.3,791.5 558.3,791.2 560.3,791 562.3,790.7 564.3,790.4 566.3,790.1 568.3,789.8 570.3,789.5 572.3,789.1 574.3,788.8 576.3,788.4 578.3,788 580.3,787.6 582.3,787.1 584.3,786.7 586.3,786.2 588.3,785.7 590.3,785.2 592.3,784.7 594.3,784.1 596.3,783.5 598.3,783 600.3,782.4 602.3,781.7 604.3,781.1 606.3,780.5 608.3,779.8 610.3,779.1 612.3,778.4 614.3,777.7 616.3,776.9 618.3,776.2 620.3,775.4 622.3,774.6 624.3,773.8 626.3,772.9 628.3,772.1 630.3,771.2 632.3,770.3 634.3,769.4 636.3,768.5 638.3,767.6 640.3,766.6 642.3,765.7 644.3,764.7 646.3,763.7 648.3,762.7 650.3,761.6 652.3,760.6 654.3,759.5 656.3,758.4 658.3,757.3 660.3,756.2 662.3,755 664.3,753.9 666.3,752.7 668.3,751.5 670.3,750.3 672.3,749 674.3,747.8 676.3,746.5 678.3,745.3 680.3,744 682.3,742.6 684.3,741.3 686.3,740 688.3,738.6 690.3,737.2 692.3,735.8 694.3,734.4 696.3,732.9 698.3,731.5 700.3,730 702.3,728.5 704.3,727 706.3,725.5 708.3,724 710.3,722.4 712.3,720.8 714.3,719.3 716.3,717.6 718.3,716 720.3,714.4 722.3,712.7 724.3,711 726.3,709.4 728.3,707.7 730.3,705.9 732.3,704.2 734.3,702.4 736.3,700.6 738.3,698.9 740.3,697 742.3,695.2 744.3,693.4 746.3,691.5 748.3,689.6 750.3,687.8 751.8,686.3 751.8,687.2" fill="#c0c0c0" stroke="#262626" stroke-width="1.15"/><polyline points="62,144.9 150,144.9 152,144 257,144 259.5,146.2 306,146.2 309,145 498,145.2" fill="none" stroke="#101010" stroke-width="1.1"/><polyline points="62,165.6 150,165.6 152,165 250,165.4 256,166.4 306,166.4 310,165.8 493.5,165.8" fill="none" stroke="#fff" stroke-opacity="0.8" stroke-width="1.3" stroke-dasharray="8.6 4.6" stroke-dashoffset="0.2"/><polyline points="62,241.8 493.5,241.8" fill="none" stroke="#fff" stroke-opacity="0.8" stroke-width="1.3" stroke-dasharray="8.6 4.6" stroke-dashoffset="0.2"/><line x1="278.5" y1="130" x2="278.5" y2="474" stroke="#101010" stroke-width="1.1"/><clipPath id="ca"><rect x="0" y="0" width="498.2" height="600"/></clipPath><circle cx="498.1" cy="209.7" r="5.1" fill="#000" clip-path="url(#ca)"/><polyline points="594,179 636.2,185.4 678.4,188.5 699.5,189 720.6,192.7 741.7,197 762.8,200.1 784,202.2 805,202.7 826,202 847,199.6 866,197 884,194.4 905,189.5 926,186 968,184.7 1012,183" fill="none" stroke="#fff" stroke-opacity="0.8" stroke-width="1.3" stroke-dasharray="8.6 4.6" stroke-dashoffset="0.2"/><polyline points="594,207.1 636.2,210.7 678.4,213.8 699.5,214.9 720.6,218.1 741.7,221.2 762.8,223.3 784,224.4 805,224.8 826,224.3 847,222.8 866,221.2 884,219.6 905,216 926,213.3 968,210 1014,209.1" fill="none" stroke="#101010" stroke-width="1.1"/><polyline points="594,254.4 635,256.4 676,258 717,259.7 758,262.6 799,264.6 840,263.8 881,260.5 922,258 963,257.2 1012,255.2" fill="none" stroke="#fff" stroke-opacity="0.8" stroke-width="1.3" stroke-dasharray="8.6 4.6" stroke-dashoffset="0.2"/><line x1="805.5" y1="174.5" x2="805.5" y2="477" stroke="#101010" stroke-width="1.1"/><clipPath id="cb"><rect x="593.3" y="0" width="500" height="600"/></clipPath><circle cx="593.6" cy="209.4" r="5" fill="#000" clip-path="url(#cb)"/><polyline points="320.9,786.1 361.3,787 390.1,789.8 419,799.9 447.8,808.6 476.7,815.8 505.5,820.1 534.4,822.1 548,821.6 568.7,820.1 589.4,818 610.1,812.8 630.8,807.6 651.5,800.4 672.2,792.1 692.9,789 713.6,788 744.7,786.3" fill="none" stroke="#fff" stroke-opacity="0.8" stroke-width="1.3" stroke-dasharray="8.6 4.6" stroke-dashoffset="0.2"/><polyline points="320.9,866.3 390.1,869.2 419,874.9 447.8,877.8 476.7,880.7 505.5,882.7 548.4,883.6 589.4,881.1 630.8,877 661.9,872.4 692.9,869.1 744.7,866.6" fill="none" stroke="#fff" stroke-opacity="0.8" stroke-width="1.3" stroke-dasharray="8.6 4.6" stroke-dashoffset="0.2"/><polyline points="320,879.8 370,880.7 404.6,885 447.8,889.4 491.1,893.7 534.4,895.7 548.4,895.4 589.4,893.6 630.8,887.3 672.2,883.2 713.6,880.7 754,880.1" fill="none" stroke="#101010" stroke-width="1.1"/><line x1="548.4" y1="793.5" x2="548.4" y2="1090" stroke="#101010" stroke-width="1.1"/><clipPath id="cc"><rect x="0" y="600" width="754.6" height="600"/></clipPath><circle cx="752.6" cy="782.4" r="4.9" fill="#000" clip-path="url(#cc)"/><line x1="52.7" y1="10" x2="52.7" y2="475" stroke="#7a7a7a" stroke-width="1.3"/><line x1="44.2" y1="20.3" x2="52.7" y2="20.3" stroke="#7a7a7a" stroke-width="1"/><text transform="translate(43.2,25.1) scale(0.9,1.12)" font-size="13" text-anchor="end" font-weight="normal" fill="#2a2a2a">-9</text><line x1="44.2" y1="54.8" x2="52.7" y2="54.8" stroke="#7a7a7a" stroke-width="1"/><text transform="translate(43.2,59.6) scale(0.9,1.12)" font-size="13" text-anchor="end" font-weight="normal" fill="#2a2a2a">-6</text><line x1="44.2" y1="89.3" x2="52.7" y2="89.3" stroke="#7a7a7a" stroke-width="1"/><text transform="translate(43.2,94.1) scale(0.9,1.12)" font-size="13" text-anchor="end" font-weight="normal" fill="#2a2a2a">-3</text><line x1="44.2" y1="123.8" x2="52.7" y2="123.8" stroke="#7a7a7a" stroke-width="1"/><text transform="translate(43.2,128.6) scale(0.9,1.12)" font-size="13" text-anchor="end" font-weight="normal" fill="#2a2a2a">0</text><line x1="44.2" y1="158.3" x2="52.7" y2="158.3" stroke="#7a7a7a" stroke-width="1"/><text transform="translate(43.2,163.1) scale(0.9,1.12)" font-size="13" text-anchor="end" font-weight="normal" fill="#2a2a2a">3</text><line x1="44.2" y1="192.8" x2="52.7" y2="192.8" stroke="#7a7a7a" stroke-width="1"/><text transform="translate(43.2,197.6) scale(0.9,1.12)" font-size="13" text-anchor="end" font-weight="normal" fill="#2a2a2a">6</text><line x1="44.2" y1="227.3" x2="52.7" y2="227.3" stroke="#7a7a7a" stroke-width="1"/><text transform="translate(43.2,232.1) scale(0.9,1.12)" font-size="13" text-anchor="end" font-weight="normal" fill="#2a2a2a">9</text><line x1="44.2" y1="261.8" x2="52.7" y2="261.8" stroke="#7a7a7a" stroke-width="1"/><text transform="translate(43.2,266.6) scale(0.9,1.12)" font-size="13" text-anchor="end" font-weight="normal" fill="#2a2a2a">12</text><line x1="44.2" y1="296.3" x2="52.7" y2="296.3" stroke="#7a7a7a" stroke-width="1"/><text transform="translate(43.2,301.1) scale(0.9,1.12)" font-size="13" text-anchor="end" font-weight="normal" fill="#2a2a2a">15</text><line x1="44.2" y1="330.8" x2="52.7" y2="330.8" stroke="#7a7a7a" stroke-width="1"/><text transform="translate(43.2,335.6) scale(0.9,1.12)" font-size="13" text-anchor="end" font-weight="normal" fill="#2a2a2a">18</text><line x1="44.2" y1="365.3" x2="52.7" y2="365.3" stroke="#7a7a7a" stroke-width="1"/><text transform="translate(43.2,370.1) scale(0.9,1.12)" font-size="13" text-anchor="end" font-weight="normal" fill="#2a2a2a">21</text><line x1="44.2" y1="399.8" x2="52.7" y2="399.8" stroke="#7a7a7a" stroke-width="1"/><text transform="translate(43.2,404.6) scale(0.9,1.12)" font-size="13" text-anchor="end" font-weight="normal" fill="#2a2a2a">24</text><line x1="44.2" y1="434.3" x2="52.7" y2="434.3" stroke="#7a7a7a" stroke-width="1"/><text transform="translate(43.2,439.1) scale(0.9,1.12)" font-size="13" text-anchor="end" font-weight="normal" fill="#2a2a2a">27</text><line x1="44.2" y1="468.8" x2="52.7" y2="468.8" stroke="#7a7a7a" stroke-width="1"/><text transform="translate(43.2,473.6) scale(0.9,1.12)" font-size="13" text-anchor="end" font-weight="normal" fill="#2a2a2a">30</text><line x1="63" y1="484" x2="498.5" y2="484" stroke="#7a7a7a" stroke-width="1.3"/><line x1="67.1" y1="484" x2="67.1" y2="493.5" stroke="#7a7a7a" stroke-width="1"/><text transform="translate(67.1,506) scale(0.9,1.12)" font-size="13" text-anchor="middle" font-weight="normal" fill="#2a2a2a">-10</text><line x1="103" y1="484" x2="103" y2="493.5" stroke="#7a7a7a" stroke-width="1"/><text transform="translate(103,506) scale(0.9,1.12)" font-size="13" text-anchor="middle" font-weight="normal" fill="#2a2a2a">-5</text><line x1="138.9" y1="484" x2="138.9" y2="493.5" stroke="#7a7a7a" stroke-width="1"/><text transform="translate(138.9,506) scale(0.9,1.12)" font-size="13" text-anchor="middle" font-weight="normal" fill="#2a2a2a">0</text><line x1="174.8" y1="484" x2="174.8" y2="493.5" stroke="#7a7a7a" stroke-width="1"/><text transform="translate(174.8,506) scale(0.9,1.12)" font-size="13" text-anchor="middle" font-weight="normal" fill="#2a2a2a">5</text><line x1="210.7" y1="484" x2="210.7" y2="493.5" stroke="#7a7a7a" stroke-width="1"/><text transform="translate(210.7,506) scale(0.9,1.12)" font-size="13" text-anchor="middle" font-weight="normal" fill="#2a2a2a">10</text><line x1="246.6" y1="484" x2="246.6" y2="493.5" stroke="#7a7a7a" stroke-width="1"/><text transform="translate(246.6,506) scale(0.9,1.12)" font-size="13" text-anchor="middle" font-weight="normal" fill="#2a2a2a">15</text><line x1="282.5" y1="484" x2="282.5" y2="493.5" stroke="#7a7a7a" stroke-width="1"/><text transform="translate(282.5,506) scale(0.9,1.12)" font-size="13" text-anchor="middle" font-weight="normal" fill="#2a2a2a">20</text><line x1="318.4" y1="484" x2="318.4" y2="493.5" stroke="#7a7a7a" stroke-width="1"/><text transform="translate(318.4,506) scale(0.9,1.12)" font-size="13" text-anchor="middle" font-weight="normal" fill="#2a2a2a">25</text><line x1="354.3" y1="484" x2="354.3" y2="493.5" stroke="#7a7a7a" stroke-width="1"/><text transform="translate(354.3,506) scale(0.9,1.12)" font-size="13" text-anchor="middle" font-weight="normal" fill="#2a2a2a">30</text><line x1="390.2" y1="484" x2="390.2" y2="493.5" stroke="#7a7a7a" stroke-width="1"/><text transform="translate(390.2,506) scale(0.9,1.12)" font-size="13" text-anchor="middle" font-weight="normal" fill="#2a2a2a">35</text><line x1="426.1" y1="484" x2="426.1" y2="493.5" stroke="#7a7a7a" stroke-width="1"/><text transform="translate(426.1,506) scale(0.9,1.12)" font-size="13" text-anchor="middle" font-weight="normal" fill="#2a2a2a">40</text><line x1="462" y1="484" x2="462" y2="493.5" stroke="#7a7a7a" stroke-width="1"/><text transform="translate(462,506) scale(0.9,1.12)" font-size="13" text-anchor="middle" font-weight="normal" fill="#2a2a2a">45</text><line x1="497.9" y1="484" x2="497.9" y2="493.5" stroke="#7a7a7a" stroke-width="1"/><text transform="translate(497.9,506) scale(0.9,1.12)" font-size="13" text-anchor="middle" font-weight="normal" fill="#2a2a2a">50</text><line x1="35" y1="503" x2="54" y2="484" stroke="#555" stroke-width="1"/><text x="280.5" y="518.8" font-size="12.5" text-anchor="middle" font-weight="bold" fill="#2a2a2a" >x (µm)</text><text x="0" y="0" font-size="12.5" text-anchor="middle" font-weight="bold" fill="#2a2a2a" transform="translate(22,241.7) rotate(-90)">z (µm)</text><line x1="584.2" y1="29" x2="584.2" y2="478" stroke="#7a7a7a" stroke-width="1.3"/><line x1="575.7" y1="49.2" x2="584.2" y2="49.2" stroke="#7a7a7a" stroke-width="1"/><text transform="translate(574.7,54) scale(0.9,1.12)" font-size="13" text-anchor="end" font-weight="normal" fill="#2a2a2a">-6</text><line x1="575.7" y1="81.7" x2="584.2" y2="81.7" stroke="#7a7a7a" stroke-width="1"/><text transform="translate(574.7,86.5) scale(0.9,1.12)" font-size="13" text-anchor="end" font-weight="normal" fill="#2a2a2a">-3</text><line x1="575.7" y1="114.2" x2="584.2" y2="114.2" stroke="#7a7a7a" stroke-width="1"/><text transform="translate(574.7,119) scale(0.9,1.12)" font-size="13" text-anchor="end" font-weight="normal" fill="#2a2a2a">0</text><line x1="575.7" y1="146.7" x2="584.2" y2="146.7" stroke="#7a7a7a" stroke-width="1"/><text transform="translate(574.7,151.5) scale(0.9,1.12)" font-size="13" text-anchor="end" font-weight="normal" fill="#2a2a2a">3</text><line x1="575.7" y1="179.2" x2="584.2" y2="179.2" stroke="#7a7a7a" stroke-width="1"/><text transform="translate(574.7,184) scale(0.9,1.12)" font-size="13" text-anchor="end" font-weight="normal" fill="#2a2a2a">6</text><line x1="575.7" y1="211.7" x2="584.2" y2="211.7" stroke="#7a7a7a" stroke-width="1"/><text transform="translate(574.7,216.5) scale(0.9,1.12)" font-size="13" text-anchor="end" font-weight="normal" fill="#2a2a2a">9</text><line x1="575.7" y1="244.2" x2="584.2" y2="244.2" stroke="#7a7a7a" stroke-width="1"/><text transform="translate(574.7,249) scale(0.9,1.12)" font-size="13" text-anchor="end" font-weight="normal" fill="#2a2a2a">12</text><line x1="575.7" y1="276.7" x2="584.2" y2="276.7" stroke="#7a7a7a" stroke-width="1"/><text transform="translate(574.7,281.5) scale(0.9,1.12)" font-size="13" text-anchor="end" font-weight="normal" fill="#2a2a2a">15</text><line x1="575.7" y1="309.2" x2="584.2" y2="309.2" stroke="#7a7a7a" stroke-width="1"/><text transform="translate(574.7,314) scale(0.9,1.12)" font-size="13" text-anchor="end" font-weight="normal" fill="#2a2a2a">18</text><line x1="575.7" y1="341.7" x2="584.2" y2="341.7" stroke="#7a7a7a" stroke-width="1"/><text transform="translate(574.7,346.5) scale(0.9,1.12)" font-size="13" text-anchor="end" font-weight="normal" fill="#2a2a2a">21</text><line x1="575.7" y1="374.2" x2="584.2" y2="374.2" stroke="#7a7a7a" stroke-width="1"/><text transform="translate(574.7,379) scale(0.9,1.12)" font-size="13" text-anchor="end" font-weight="normal" fill="#2a2a2a">24</text><line x1="575.7" y1="406.7" x2="584.2" y2="406.7" stroke="#7a7a7a" stroke-width="1"/><text transform="translate(574.7,411.5) scale(0.9,1.12)" font-size="13" text-anchor="end" font-weight="normal" fill="#2a2a2a">27</text><line x1="575.7" y1="439.2" x2="584.2" y2="439.2" stroke="#7a7a7a" stroke-width="1"/><text transform="translate(574.7,444) scale(0.9,1.12)" font-size="13" text-anchor="end" font-weight="normal" fill="#2a2a2a">30</text><line x1="575.7" y1="471.7" x2="584.2" y2="471.7" stroke="#7a7a7a" stroke-width="1"/><text transform="translate(574.7,476.5) scale(0.9,1.12)" font-size="13" text-anchor="end" font-weight="normal" fill="#2a2a2a">33</text><line x1="594" y1="485.7" x2="1014" y2="485.7" stroke="#7a7a7a" stroke-width="1.3"/><line x1="616.9" y1="485.7" x2="616.9" y2="495.2" stroke="#7a7a7a" stroke-width="1"/><text transform="translate(616.9,507.7) scale(0.9,1.12)" font-size="13" text-anchor="middle" font-weight="normal" fill="#2a2a2a">1,31</text><line x1="651.52" y1="485.7" x2="651.52" y2="495.2" stroke="#7a7a7a" stroke-width="1"/><text transform="translate(651.52,507.7) scale(0.9,1.12)" font-size="13" text-anchor="middle" font-weight="normal" fill="#2a2a2a">1,31</text><line x1="686.14" y1="485.7" x2="686.14" y2="495.2" stroke="#7a7a7a" stroke-width="1"/><text transform="translate(686.14,507.7) scale(0.9,1.12)" font-size="13" text-anchor="middle" font-weight="normal" fill="#2a2a2a">1,32</text><line x1="720.76" y1="485.7" x2="720.76" y2="495.2" stroke="#7a7a7a" stroke-width="1"/><text transform="translate(720.76,507.7) scale(0.9,1.12)" font-size="13" text-anchor="middle" font-weight="normal" fill="#2a2a2a">1,32</text><line x1="755.38" y1="485.7" x2="755.38" y2="495.2" stroke="#7a7a7a" stroke-width="1"/><text transform="translate(755.38,507.7) scale(0.9,1.12)" font-size="13" text-anchor="middle" font-weight="normal" fill="#2a2a2a">1,33</text><line x1="790" y1="485.7" x2="790" y2="495.2" stroke="#7a7a7a" stroke-width="1"/><text transform="translate(790,507.7) scale(0.9,1.12)" font-size="13" text-anchor="middle" font-weight="normal" fill="#2a2a2a">1,33</text><line x1="824.62" y1="485.7" x2="824.62" y2="495.2" stroke="#7a7a7a" stroke-width="1"/><text transform="translate(824.62,507.7) scale(0.9,1.12)" font-size="13" text-anchor="middle" font-weight="normal" fill="#2a2a2a">1,34</text><line x1="859.24" y1="485.7" x2="859.24" y2="495.2" stroke="#7a7a7a" stroke-width="1"/><text transform="translate(859.24,507.7) scale(0.9,1.12)" font-size="13" text-anchor="middle" font-weight="normal" fill="#2a2a2a">1,34</text><line x1="893.86" y1="485.7" x2="893.86" y2="495.2" stroke="#7a7a7a" stroke-width="1"/><text transform="translate(893.86,507.7) scale(0.9,1.12)" font-size="13" text-anchor="middle" font-weight="normal" fill="#2a2a2a">1,35</text><line x1="928.48" y1="485.7" x2="928.48" y2="495.2" stroke="#7a7a7a" stroke-width="1"/><text transform="translate(928.48,507.7) scale(0.9,1.12)" font-size="13" text-anchor="middle" font-weight="normal" fill="#2a2a2a">1,35</text><line x1="963.1" y1="485.7" x2="963.1" y2="495.2" stroke="#7a7a7a" stroke-width="1"/><text transform="translate(963.1,507.7) scale(0.9,1.12)" font-size="13" text-anchor="middle" font-weight="normal" fill="#2a2a2a">1,36</text><line x1="997.72" y1="485.7" x2="997.72" y2="495.2" stroke="#7a7a7a" stroke-width="1"/><text transform="translate(997.72,507.7) scale(0.9,1.12)" font-size="13" text-anchor="middle" font-weight="normal" fill="#2a2a2a">1,36</text><line x1="567" y1="504" x2="585" y2="486" stroke="#555" stroke-width="1"/><text x="804" y="520.3" font-size="12.5" text-anchor="middle" font-weight="bold" fill="#2a2a2a" >x (mm)</text><text x="0" y="0" font-size="12.5" text-anchor="middle" font-weight="bold" fill="#2a2a2a" transform="translate(554,252) rotate(-90)">z (µm)</text><line x1="310" y1="625.3" x2="310" y2="1091" stroke="#7a7a7a" stroke-width="1.3"/><line x1="301.5" y1="664.14" x2="310" y2="664.14" stroke="#7a7a7a" stroke-width="1"/><text transform="translate(300.5,668.94) scale(0.9,1.12)" font-size="13" text-anchor="end" font-weight="normal" fill="#2a2a2a">-4</text><line x1="301.5" y1="706.7" x2="310" y2="706.7" stroke="#7a7a7a" stroke-width="1"/><text transform="translate(300.5,711.5) scale(0.9,1.12)" font-size="13" text-anchor="end" font-weight="normal" fill="#2a2a2a">0</text><line x1="301.5" y1="749.26" x2="310" y2="749.26" stroke="#7a7a7a" stroke-width="1"/><text transform="translate(300.5,754.06) scale(0.9,1.12)" font-size="13" text-anchor="end" font-weight="normal" fill="#2a2a2a">4</text><line x1="301.5" y1="791.82" x2="310" y2="791.82" stroke="#7a7a7a" stroke-width="1"/><text transform="translate(300.5,796.62) scale(0.9,1.12)" font-size="13" text-anchor="end" font-weight="normal" fill="#2a2a2a">8</text><line x1="301.5" y1="834.38" x2="310" y2="834.38" stroke="#7a7a7a" stroke-width="1"/><text transform="translate(300.5,839.18) scale(0.9,1.12)" font-size="13" text-anchor="end" font-weight="normal" fill="#2a2a2a">12</text><line x1="301.5" y1="876.94" x2="310" y2="876.94" stroke="#7a7a7a" stroke-width="1"/><text transform="translate(300.5,881.74) scale(0.9,1.12)" font-size="13" text-anchor="end" font-weight="normal" fill="#2a2a2a">16</text><line x1="301.5" y1="919.5" x2="310" y2="919.5" stroke="#7a7a7a" stroke-width="1"/><text transform="translate(300.5,924.3) scale(0.9,1.12)" font-size="13" text-anchor="end" font-weight="normal" fill="#2a2a2a">20</text><line x1="301.5" y1="962.06" x2="310" y2="962.06" stroke="#7a7a7a" stroke-width="1"/><text transform="translate(300.5,966.86) scale(0.9,1.12)" font-size="13" text-anchor="end" font-weight="normal" fill="#2a2a2a">24</text><line x1="301.5" y1="1004.62" x2="310" y2="1004.62" stroke="#7a7a7a" stroke-width="1"/><text transform="translate(300.5,1009.42) scale(0.9,1.12)" font-size="13" text-anchor="end" font-weight="normal" fill="#2a2a2a">28</text><line x1="301.5" y1="1047.18" x2="310" y2="1047.18" stroke="#7a7a7a" stroke-width="1"/><text transform="translate(300.5,1051.98) scale(0.9,1.12)" font-size="13" text-anchor="end" font-weight="normal" fill="#2a2a2a">32</text><line x1="301.5" y1="1089.74" x2="310" y2="1089.74" stroke="#7a7a7a" stroke-width="1"/><text transform="translate(300.5,1094.54) scale(0.9,1.12)" font-size="13" text-anchor="end" font-weight="normal" fill="#2a2a2a">36</text><line x1="320" y1="1100.2" x2="754.5" y2="1100.2" stroke="#7a7a7a" stroke-width="1.3"/><line x1="344.1" y1="1100.2" x2="344.1" y2="1109.7" stroke="#7a7a7a" stroke-width="1"/><text transform="translate(344.1,1122.2) scale(0.9,1.12)" font-size="13" text-anchor="middle" font-weight="normal" fill="#2a2a2a">2,62</text><line x1="379.5" y1="1100.2" x2="379.5" y2="1109.7" stroke="#7a7a7a" stroke-width="1"/><text transform="translate(379.5,1122.2) scale(0.9,1.12)" font-size="13" text-anchor="middle" font-weight="normal" fill="#2a2a2a">2,62</text><line x1="414.9" y1="1100.2" x2="414.9" y2="1109.7" stroke="#7a7a7a" stroke-width="1"/><text transform="translate(414.9,1122.2) scale(0.9,1.12)" font-size="13" text-anchor="middle" font-weight="normal" fill="#2a2a2a">2,63</text><line x1="450.3" y1="1100.2" x2="450.3" y2="1109.7" stroke="#7a7a7a" stroke-width="1"/><text transform="translate(450.3,1122.2) scale(0.9,1.12)" font-size="13" text-anchor="middle" font-weight="normal" fill="#2a2a2a">2,63</text><line x1="485.7" y1="1100.2" x2="485.7" y2="1109.7" stroke="#7a7a7a" stroke-width="1"/><text transform="translate(485.7,1122.2) scale(0.9,1.12)" font-size="13" text-anchor="middle" font-weight="normal" fill="#2a2a2a">2,64</text><line x1="521.1" y1="1100.2" x2="521.1" y2="1109.7" stroke="#7a7a7a" stroke-width="1"/><text transform="translate(521.1,1122.2) scale(0.9,1.12)" font-size="13" text-anchor="middle" font-weight="normal" fill="#2a2a2a">2,64</text><line x1="556.5" y1="1100.2" x2="556.5" y2="1109.7" stroke="#7a7a7a" stroke-width="1"/><text transform="translate(556.5,1122.2) scale(0.9,1.12)" font-size="13" text-anchor="middle" font-weight="normal" fill="#2a2a2a">2,65</text><line x1="591.9" y1="1100.2" x2="591.9" y2="1109.7" stroke="#7a7a7a" stroke-width="1"/><text transform="translate(591.9,1122.2) scale(0.9,1.12)" font-size="13" text-anchor="middle" font-weight="normal" fill="#2a2a2a">2,65</text><line x1="627.3" y1="1100.2" x2="627.3" y2="1109.7" stroke="#7a7a7a" stroke-width="1"/><text transform="translate(627.3,1122.2) scale(0.9,1.12)" font-size="13" text-anchor="middle" font-weight="normal" fill="#2a2a2a">2,66</text><line x1="662.7" y1="1100.2" x2="662.7" y2="1109.7" stroke="#7a7a7a" stroke-width="1"/><text transform="translate(662.7,1122.2) scale(0.9,1.12)" font-size="13" text-anchor="middle" font-weight="normal" fill="#2a2a2a">2,66</text><line x1="698.1" y1="1100.2" x2="698.1" y2="1109.7" stroke="#7a7a7a" stroke-width="1"/><text transform="translate(698.1,1122.2) scale(0.9,1.12)" font-size="13" text-anchor="middle" font-weight="normal" fill="#2a2a2a">2,67</text><line x1="733.5" y1="1100.2" x2="733.5" y2="1109.7" stroke="#7a7a7a" stroke-width="1"/><text transform="translate(733.5,1122.2) scale(0.9,1.12)" font-size="13" text-anchor="middle" font-weight="normal" fill="#2a2a2a">2,67</text><line x1="292" y1="1118" x2="310" y2="1100" stroke="#555" stroke-width="1"/><text x="536.5" y="1136.8" font-size="12.5" text-anchor="middle" font-weight="bold" fill="#2a2a2a" >x (mm)</text><text x="0" y="0" font-size="12.5" text-anchor="middle" font-weight="bold" fill="#2a2a2a" transform="translate(280,856.5) rotate(-90)">z (µm)</text><line x1="64.6" y1="557.8" x2="64.6" y2="565.8" stroke="#000" stroke-width="1.6"/><line x1="201.4" y1="557.8" x2="201.4" y2="565.8" stroke="#000" stroke-width="1.6"/><text transform="translate(62.5,553.4) scale(1,1.06)" font-size="15" text-anchor="start" font-weight="normal" fill="#505050">0,0103</text><text transform="translate(205,553.6) scale(1,1.06)" font-size="15" text-anchor="start" font-weight="normal" fill="#505050">6,9007</text><text transform="translate(62.5,580.8) scale(1,1.06)" font-size="15" text-anchor="start" font-weight="normal" fill="#505050">0,0103</text><text transform="translate(280,581) scale(1,1.06)" font-size="15" text-anchor="start" font-weight="normal" fill="#505050">GPa</text><text transform="translate(497.5,580.8) scale(1,1.06)" font-size="15" text-anchor="end" font-weight="normal" fill="#505050">21,8434</text><line x1="603.6" y1="557.8" x2="603.6" y2="565.8" stroke="#000" stroke-width="1.6"/><line x1="1013.2" y1="557.8" x2="1013.2" y2="565.8" stroke="#000" stroke-width="1.6"/><text transform="translate(593,553.4) scale(1,1.06)" font-size="15" text-anchor="start" font-weight="normal" fill="#505050">0,5831</text><text transform="translate(1011.5,553.6) scale(1,1.06)" font-size="15" text-anchor="end" font-weight="normal" fill="#505050">25,7749</text><text transform="translate(593,580.8) scale(1,1.06)" font-size="15" text-anchor="start" font-weight="normal" fill="#505050">0,0103</text><text transform="translate(803,581) scale(1,1.06)" font-size="15" text-anchor="start" font-weight="normal" fill="#505050">GPa</text><text transform="translate(1014,580.8) scale(1,1.06)" font-size="15" text-anchor="end" font-weight="normal" fill="#505050">25,7749</text><line x1="337.5" y1="1174.7" x2="337.5" y2="1182.7" stroke="#000" stroke-width="1.6"/><line x1="692" y1="1174.7" x2="692" y2="1182.7" stroke="#000" stroke-width="1.6"/><text transform="translate(319.5,1169.8) scale(1,1.06)" font-size="15" text-anchor="start" font-weight="normal" fill="#505050">1,0334</text><text transform="translate(751.5,1169.8) scale(1,1.06)" font-size="15" text-anchor="end" font-weight="normal" fill="#505050">22,0517</text><text transform="translate(319,1198) scale(1,1.06)" font-size="15" text-anchor="start" font-weight="normal" fill="#505050">0,0103</text><text transform="translate(536,1198.3) scale(1,1.06)" font-size="15" text-anchor="start" font-weight="normal" fill="#505050">GPa</text><text transform="translate(754.5,1198) scale(1,1.06)" font-size="15" text-anchor="end" font-weight="normal" fill="#505050">25,7749</text><text x="238" y="616.6" style="font-family:&quot;Liberation Serif&quot;,serif;font-size:29px" fill="#000">(<tspan font-weight="bold">a</tspan>)</text><text x="759.5" y="616.6" style="font-family:&quot;Liberation Serif&quot;,serif;font-size:29px" fill="#000">(<tspan font-weight="bold">b</tspan>)</text><text x="496" y="1234.4" style="font-family:&quot;Liberation Serif&quot;,serif;font-size:29px" fill="#000">(<tspan font-weight="bold">c</tspan>)</text></svg></body></html>
